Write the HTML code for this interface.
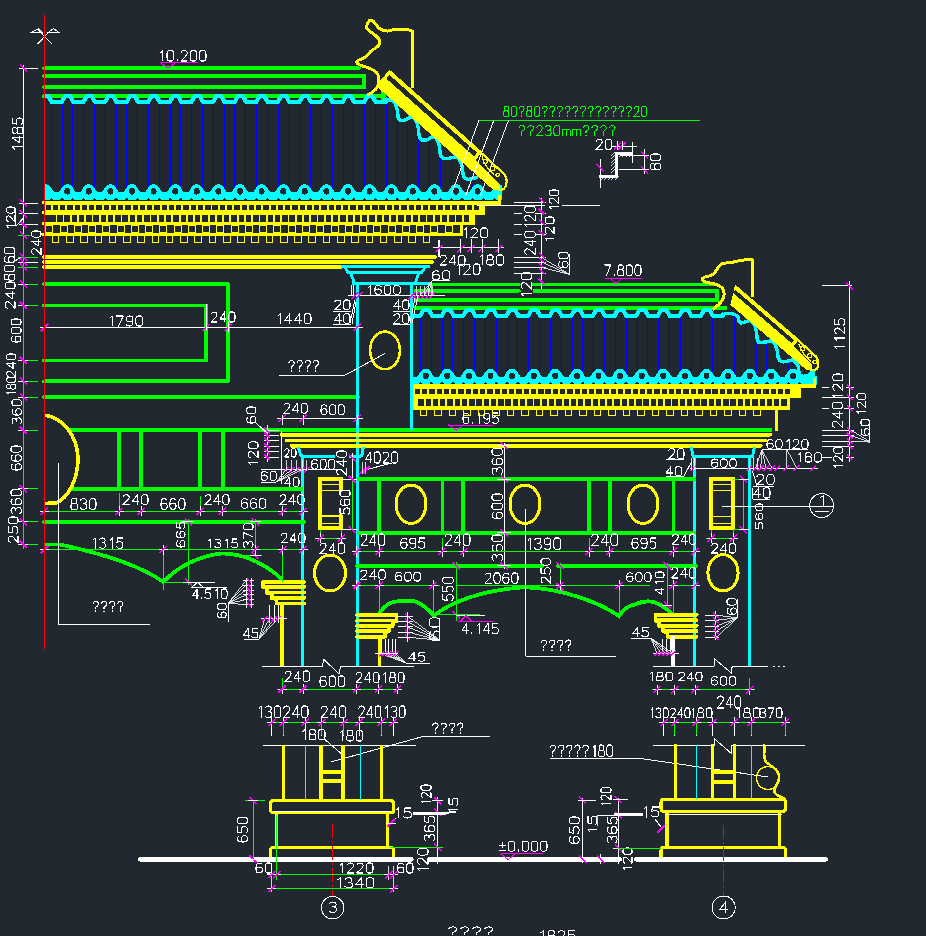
<!DOCTYPE html>
<html><head><meta charset="utf-8"><style>
html,body{margin:0;padding:0;background:#212830;width:926px;height:936px;overflow:hidden}
svg{display:block} line,polyline,polygon,rect,path,ellipse,circle{shape-rendering:crispEdges} g path{vector-effect:non-scaling-stroke}
text{font-family:"Liberation Sans",sans-serif}
</style></head><body>
<svg width="926" height="936" viewBox="0 0 926 936">
<rect width="926" height="936" fill="#212830"/>
<clipPath id="clipband413"><rect x="413" y="366.6" width="402" height="19.4"/></clipPath>
<clipPath id="clipband44"><rect x="44" y="182" width="456" height="20.1"/></clipPath>
<line x1="44" y1="68.2" x2="359" y2="68.2" stroke="#00ff00" stroke-width="3.6" stroke-linecap="round"/>
<line x1="44" y1="75.8" x2="364.3" y2="75.8" stroke="#00ff00" stroke-width="3.8" stroke-linecap="round"/>
<line x1="44" y1="87.2" x2="364.3" y2="87.2" stroke="#00ff00" stroke-width="3.8" stroke-linecap="round"/>
<line x1="364.3" y1="73.9" x2="364.3" y2="89.1" stroke="#00ff00" stroke-width="3.8" stroke-linecap="butt"/>
<line x1="44" y1="96" x2="384" y2="96" stroke="#00ff00" stroke-width="4" stroke-linecap="round"/>
<line x1="383.2" y1="86.8" x2="383.2" y2="99.5" stroke="#00ff00" stroke-width="3.5" stroke-linecap="butt"/>
<line x1="51.2" y1="103" x2="51.2" y2="188" stroke="#0000ff" stroke-width="1" stroke-linecap="butt"/>
<line x1="62.01" y1="103" x2="62.01" y2="188" stroke="#0000ff" stroke-width="1" stroke-linecap="butt"/>
<line x1="72.82" y1="103" x2="72.82" y2="188" stroke="#0000ff" stroke-width="1" stroke-linecap="butt"/>
<line x1="83.63" y1="103" x2="83.63" y2="188" stroke="#0000ff" stroke-width="1" stroke-linecap="butt"/>
<line x1="94.44" y1="103" x2="94.44" y2="188" stroke="#0000ff" stroke-width="1" stroke-linecap="butt"/>
<line x1="105.25" y1="103" x2="105.25" y2="188" stroke="#0000ff" stroke-width="1" stroke-linecap="butt"/>
<line x1="116.06" y1="103" x2="116.06" y2="188" stroke="#0000ff" stroke-width="1" stroke-linecap="butt"/>
<line x1="126.87" y1="103" x2="126.87" y2="188" stroke="#0000ff" stroke-width="1" stroke-linecap="butt"/>
<line x1="137.68" y1="103" x2="137.68" y2="188" stroke="#0000ff" stroke-width="1" stroke-linecap="butt"/>
<line x1="148.49" y1="103" x2="148.49" y2="188" stroke="#0000ff" stroke-width="1" stroke-linecap="butt"/>
<line x1="159.3" y1="103" x2="159.3" y2="188" stroke="#0000ff" stroke-width="1" stroke-linecap="butt"/>
<line x1="170.11" y1="103" x2="170.11" y2="188" stroke="#0000ff" stroke-width="1" stroke-linecap="butt"/>
<line x1="180.92" y1="103" x2="180.92" y2="188" stroke="#0000ff" stroke-width="1" stroke-linecap="butt"/>
<line x1="191.73" y1="103" x2="191.73" y2="188" stroke="#0000ff" stroke-width="1" stroke-linecap="butt"/>
<line x1="202.54" y1="103" x2="202.54" y2="188" stroke="#0000ff" stroke-width="1" stroke-linecap="butt"/>
<line x1="213.35" y1="103" x2="213.35" y2="188" stroke="#0000ff" stroke-width="1" stroke-linecap="butt"/>
<line x1="224.16" y1="103" x2="224.16" y2="188" stroke="#0000ff" stroke-width="1" stroke-linecap="butt"/>
<line x1="234.97" y1="103" x2="234.97" y2="188" stroke="#0000ff" stroke-width="1" stroke-linecap="butt"/>
<line x1="245.78" y1="103" x2="245.78" y2="188" stroke="#0000ff" stroke-width="1" stroke-linecap="butt"/>
<line x1="256.59" y1="103" x2="256.59" y2="188" stroke="#0000ff" stroke-width="1" stroke-linecap="butt"/>
<line x1="267.4" y1="103" x2="267.4" y2="188" stroke="#0000ff" stroke-width="1" stroke-linecap="butt"/>
<line x1="278.21" y1="103" x2="278.21" y2="188" stroke="#0000ff" stroke-width="1" stroke-linecap="butt"/>
<line x1="289.02" y1="103" x2="289.02" y2="188" stroke="#0000ff" stroke-width="1" stroke-linecap="butt"/>
<line x1="299.83" y1="103" x2="299.83" y2="188" stroke="#0000ff" stroke-width="1" stroke-linecap="butt"/>
<line x1="310.64" y1="103" x2="310.64" y2="188" stroke="#0000ff" stroke-width="1" stroke-linecap="butt"/>
<line x1="321.45" y1="103" x2="321.45" y2="188" stroke="#0000ff" stroke-width="1" stroke-linecap="butt"/>
<line x1="332.26" y1="103" x2="332.26" y2="188" stroke="#0000ff" stroke-width="1" stroke-linecap="butt"/>
<line x1="343.07" y1="103" x2="343.07" y2="188" stroke="#0000ff" stroke-width="1" stroke-linecap="butt"/>
<line x1="353.88" y1="103" x2="353.88" y2="188" stroke="#0000ff" stroke-width="1" stroke-linecap="butt"/>
<line x1="364.69" y1="103" x2="364.69" y2="188" stroke="#0000ff" stroke-width="1" stroke-linecap="butt"/>
<line x1="375.5" y1="103" x2="375.5" y2="188" stroke="#0000ff" stroke-width="1" stroke-linecap="butt"/>
<line x1="386.31" y1="104" x2="386.31" y2="188" stroke="#0000ff" stroke-width="1" stroke-linecap="butt"/>
<line x1="397.12" y1="113.39" x2="397.12" y2="188" stroke="#0000ff" stroke-width="1" stroke-linecap="butt"/>
<line x1="407.93" y1="121.03" x2="407.93" y2="188" stroke="#0000ff" stroke-width="1" stroke-linecap="butt"/>
<line x1="418.74" y1="132.48" x2="418.74" y2="188" stroke="#0000ff" stroke-width="1" stroke-linecap="butt"/>
<line x1="429.55" y1="140.72" x2="429.55" y2="188" stroke="#0000ff" stroke-width="1" stroke-linecap="butt"/>
<line x1="440.36" y1="151.88" x2="440.36" y2="188" stroke="#0000ff" stroke-width="1" stroke-linecap="butt"/>
<line x1="451.17" y1="160.38" x2="451.17" y2="188" stroke="#0000ff" stroke-width="1" stroke-linecap="butt"/>
<line x1="461.98" y1="169.47" x2="461.98" y2="188" stroke="#0000ff" stroke-width="1" stroke-linecap="butt"/>
<line x1="472.79" y1="183.65" x2="472.79" y2="188" stroke="#0000ff" stroke-width="1" stroke-linecap="butt"/>
<polyline points="44,96.3 48.5,96.3 52,102.3 61.6,102.3 65.1,96.3 70.1,96.3 73.6,102.3 83.2,102.3 86.7,96.3 91.7,96.3 95.2,102.3 104.8,102.3 108.3,96.3 113.3,96.3 116.8,102.3 126.4,102.3 129.9,96.3 134.9,96.3 138.4,102.3 148,102.3 151.5,96.3 156.5,96.3 160,102.3 169.6,102.3 173.1,96.3 178.1,96.3 181.6,102.3 191.2,102.3 194.7,96.3 199.7,96.3 203.2,102.3 212.8,102.3 216.3,96.3 221.3,96.3 224.8,102.3 234.4,102.3 237.9,96.3 242.9,96.3 246.4,102.3 256,102.3 259.5,96.3 264.5,96.3 268,102.3 277.6,102.3 281.1,96.3 286.1,96.3 289.6,102.3 299.2,102.3 302.7,96.3 307.7,96.3 311.2,102.3 320.8,102.3 324.3,96.3 329.3,96.3 332.8,102.3 342.4,102.3 345.9,96.3 350.9,96.3 354.4,102.3 364,102.3 367.5,96.3 372.5,96.3 376,102.3 385.6,102.3 388,98.19" stroke="#00ffff" stroke-width="4.2" fill="none" stroke-linejoin="round" stroke-linecap="butt"/>
<path d="M383,100 L391,100 C395,101 397.5,107.14 397.8,114.28 C398.2,120.9 400.2,121.2 403.7,120.4 C407.2,119.6 409.5,117.4 412,116.9 C416,117.9 418.5,124.98 418.8,133.07 C419.2,140.5 422.7,140.8 426.2,140 C429.7,139.2 430.7,137 433.2,136.5 C437.2,137.5 439.7,144.13 440,151.76 C440.4,158.8 445.1,159.1 448.6,158.3 C452.1,157.5 453.5,157.4 456,156.9 C460,157.9 462.5,164.63 462.8,172.37 C463.2,179.5 467.5,179.8 471,179 C474.5,178.2 475.5,177.5 478,177" stroke="#00ffff" stroke-width="3.5" fill="none" stroke-linejoin="round"/>
<rect x="44" y="192.3" width="456" height="7.8" fill="#00ffff"/>
<path d="M15.2,192.6 C18,190.3 18.8,184 24,184 C29.2,184 30,190.3 32.8,192.6 Z" fill="#00ffff" clip-path="url(#clipband44)"/>
<path d="M36.8,192.6 C39.6,190.3 40.4,184 45.6,184 C50.8,184 51.6,190.3 54.4,192.6 Z" fill="#00ffff" clip-path="url(#clipband44)"/>
<path d="M58.4,192.6 C61.2,190.3 62,184 67.2,184 C72.4,184 73.2,190.3 76,192.6 Z" fill="#00ffff" clip-path="url(#clipband44)"/>
<path d="M80,192.6 C82.8,190.3 83.6,184 88.8,184 C94,184 94.8,190.3 97.6,192.6 Z" fill="#00ffff" clip-path="url(#clipband44)"/>
<path d="M101.6,192.6 C104.4,190.3 105.2,184 110.4,184 C115.6,184 116.4,190.3 119.2,192.6 Z" fill="#00ffff" clip-path="url(#clipband44)"/>
<path d="M123.2,192.6 C126,190.3 126.8,184 132,184 C137.2,184 138,190.3 140.8,192.6 Z" fill="#00ffff" clip-path="url(#clipband44)"/>
<path d="M144.8,192.6 C147.6,190.3 148.4,184 153.6,184 C158.8,184 159.6,190.3 162.4,192.6 Z" fill="#00ffff" clip-path="url(#clipband44)"/>
<path d="M166.4,192.6 C169.2,190.3 170,184 175.2,184 C180.4,184 181.2,190.3 184,192.6 Z" fill="#00ffff" clip-path="url(#clipband44)"/>
<path d="M188,192.6 C190.8,190.3 191.6,184 196.8,184 C202,184 202.8,190.3 205.6,192.6 Z" fill="#00ffff" clip-path="url(#clipband44)"/>
<path d="M209.6,192.6 C212.4,190.3 213.2,184 218.4,184 C223.6,184 224.4,190.3 227.2,192.6 Z" fill="#00ffff" clip-path="url(#clipband44)"/>
<path d="M231.2,192.6 C234,190.3 234.8,184 240,184 C245.2,184 246,190.3 248.8,192.6 Z" fill="#00ffff" clip-path="url(#clipband44)"/>
<path d="M252.8,192.6 C255.6,190.3 256.4,184 261.6,184 C266.8,184 267.6,190.3 270.4,192.6 Z" fill="#00ffff" clip-path="url(#clipband44)"/>
<path d="M274.4,192.6 C277.2,190.3 278,184 283.2,184 C288.4,184 289.2,190.3 292,192.6 Z" fill="#00ffff" clip-path="url(#clipband44)"/>
<path d="M296,192.6 C298.8,190.3 299.6,184 304.8,184 C310,184 310.8,190.3 313.6,192.6 Z" fill="#00ffff" clip-path="url(#clipband44)"/>
<path d="M317.6,192.6 C320.4,190.3 321.2,184 326.4,184 C331.6,184 332.4,190.3 335.2,192.6 Z" fill="#00ffff" clip-path="url(#clipband44)"/>
<path d="M339.2,192.6 C342,190.3 342.8,184 348,184 C353.2,184 354,190.3 356.8,192.6 Z" fill="#00ffff" clip-path="url(#clipband44)"/>
<path d="M360.8,192.6 C363.6,190.3 364.4,184 369.6,184 C374.8,184 375.6,190.3 378.4,192.6 Z" fill="#00ffff" clip-path="url(#clipband44)"/>
<path d="M382.4,192.6 C385.2,190.3 386,184 391.2,184 C396.4,184 397.2,190.3 400,192.6 Z" fill="#00ffff" clip-path="url(#clipband44)"/>
<path d="M404,192.6 C406.8,190.3 407.6,184 412.8,184 C418,184 418.8,190.3 421.6,192.6 Z" fill="#00ffff" clip-path="url(#clipband44)"/>
<path d="M425.6,192.6 C428.4,190.3 429.2,184 434.4,184 C439.6,184 440.4,190.3 443.2,192.6 Z" fill="#00ffff" clip-path="url(#clipband44)"/>
<path d="M447.2,192.6 C450,190.3 450.8,184 456,184 C461.2,184 462,190.3 464.8,192.6 Z" fill="#00ffff" clip-path="url(#clipband44)"/>
<path d="M468.8,192.6 C471.6,190.3 472.4,184 477.6,184 C482.8,184 483.6,190.3 486.4,192.6 Z" fill="#00ffff" clip-path="url(#clipband44)"/>
<path d="M490.4,192.6 C493.2,190.3 494,184 499.2,184 C504.4,184 505.2,190.3 508,192.6 Z" fill="#00ffff" clip-path="url(#clipband44)"/>
<ellipse cx="67.2" cy="191.3" rx="3" ry="3.3" stroke="none" stroke-width="0" fill="#212830"/>
<ellipse cx="88.8" cy="191.3" rx="3" ry="3.3" stroke="none" stroke-width="0" fill="#212830"/>
<ellipse cx="110.4" cy="191.3" rx="3" ry="3.3" stroke="none" stroke-width="0" fill="#212830"/>
<ellipse cx="132" cy="191.3" rx="3" ry="3.3" stroke="none" stroke-width="0" fill="#212830"/>
<ellipse cx="153.6" cy="191.3" rx="3" ry="3.3" stroke="none" stroke-width="0" fill="#212830"/>
<ellipse cx="175.2" cy="191.3" rx="3" ry="3.3" stroke="none" stroke-width="0" fill="#212830"/>
<ellipse cx="196.8" cy="191.3" rx="3" ry="3.3" stroke="none" stroke-width="0" fill="#212830"/>
<ellipse cx="218.4" cy="191.3" rx="3" ry="3.3" stroke="none" stroke-width="0" fill="#212830"/>
<ellipse cx="240" cy="191.3" rx="3" ry="3.3" stroke="none" stroke-width="0" fill="#212830"/>
<ellipse cx="261.6" cy="191.3" rx="3" ry="3.3" stroke="none" stroke-width="0" fill="#212830"/>
<ellipse cx="283.2" cy="191.3" rx="3" ry="3.3" stroke="none" stroke-width="0" fill="#212830"/>
<ellipse cx="304.8" cy="191.3" rx="3" ry="3.3" stroke="none" stroke-width="0" fill="#212830"/>
<ellipse cx="326.4" cy="191.3" rx="3" ry="3.3" stroke="none" stroke-width="0" fill="#212830"/>
<ellipse cx="348" cy="191.3" rx="3" ry="3.3" stroke="none" stroke-width="0" fill="#212830"/>
<ellipse cx="369.6" cy="191.3" rx="3" ry="3.3" stroke="none" stroke-width="0" fill="#212830"/>
<ellipse cx="391.2" cy="191.3" rx="3" ry="3.3" stroke="none" stroke-width="0" fill="#212830"/>
<ellipse cx="412.8" cy="191.3" rx="3" ry="3.3" stroke="none" stroke-width="0" fill="#212830"/>
<ellipse cx="434.4" cy="191.3" rx="3" ry="3.3" stroke="none" stroke-width="0" fill="#212830"/>
<ellipse cx="456" cy="191.3" rx="3" ry="3.3" stroke="none" stroke-width="0" fill="#212830"/>
<ellipse cx="477.6" cy="191.3" rx="3" ry="3.3" stroke="none" stroke-width="0" fill="#212830"/>
<polygon points="49,200.2 51.2,197.8 53.4,200.2" stroke="none" stroke-width="0" fill="#212830" stroke-linejoin="miter" stroke-linecap="butt"/>
<polygon points="59.81,200.2 62.01,197.8 64.21,200.2" stroke="none" stroke-width="0" fill="#212830" stroke-linejoin="miter" stroke-linecap="butt"/>
<polygon points="70.62,200.2 72.82,197.8 75.02,200.2" stroke="none" stroke-width="0" fill="#212830" stroke-linejoin="miter" stroke-linecap="butt"/>
<polygon points="81.43,200.2 83.63,197.8 85.83,200.2" stroke="none" stroke-width="0" fill="#212830" stroke-linejoin="miter" stroke-linecap="butt"/>
<polygon points="92.24,200.2 94.44,197.8 96.64,200.2" stroke="none" stroke-width="0" fill="#212830" stroke-linejoin="miter" stroke-linecap="butt"/>
<polygon points="103.05,200.2 105.25,197.8 107.45,200.2" stroke="none" stroke-width="0" fill="#212830" stroke-linejoin="miter" stroke-linecap="butt"/>
<polygon points="113.86,200.2 116.06,197.8 118.26,200.2" stroke="none" stroke-width="0" fill="#212830" stroke-linejoin="miter" stroke-linecap="butt"/>
<polygon points="124.67,200.2 126.87,197.8 129.07,200.2" stroke="none" stroke-width="0" fill="#212830" stroke-linejoin="miter" stroke-linecap="butt"/>
<polygon points="135.48,200.2 137.68,197.8 139.88,200.2" stroke="none" stroke-width="0" fill="#212830" stroke-linejoin="miter" stroke-linecap="butt"/>
<polygon points="146.29,200.2 148.49,197.8 150.69,200.2" stroke="none" stroke-width="0" fill="#212830" stroke-linejoin="miter" stroke-linecap="butt"/>
<polygon points="157.1,200.2 159.3,197.8 161.5,200.2" stroke="none" stroke-width="0" fill="#212830" stroke-linejoin="miter" stroke-linecap="butt"/>
<polygon points="167.91,200.2 170.11,197.8 172.31,200.2" stroke="none" stroke-width="0" fill="#212830" stroke-linejoin="miter" stroke-linecap="butt"/>
<polygon points="178.72,200.2 180.92,197.8 183.12,200.2" stroke="none" stroke-width="0" fill="#212830" stroke-linejoin="miter" stroke-linecap="butt"/>
<polygon points="189.53,200.2 191.73,197.8 193.93,200.2" stroke="none" stroke-width="0" fill="#212830" stroke-linejoin="miter" stroke-linecap="butt"/>
<polygon points="200.34,200.2 202.54,197.8 204.74,200.2" stroke="none" stroke-width="0" fill="#212830" stroke-linejoin="miter" stroke-linecap="butt"/>
<polygon points="211.15,200.2 213.35,197.8 215.55,200.2" stroke="none" stroke-width="0" fill="#212830" stroke-linejoin="miter" stroke-linecap="butt"/>
<polygon points="221.96,200.2 224.16,197.8 226.36,200.2" stroke="none" stroke-width="0" fill="#212830" stroke-linejoin="miter" stroke-linecap="butt"/>
<polygon points="232.77,200.2 234.97,197.8 237.17,200.2" stroke="none" stroke-width="0" fill="#212830" stroke-linejoin="miter" stroke-linecap="butt"/>
<polygon points="243.58,200.2 245.78,197.8 247.98,200.2" stroke="none" stroke-width="0" fill="#212830" stroke-linejoin="miter" stroke-linecap="butt"/>
<polygon points="254.39,200.2 256.59,197.8 258.79,200.2" stroke="none" stroke-width="0" fill="#212830" stroke-linejoin="miter" stroke-linecap="butt"/>
<polygon points="265.2,200.2 267.4,197.8 269.6,200.2" stroke="none" stroke-width="0" fill="#212830" stroke-linejoin="miter" stroke-linecap="butt"/>
<polygon points="276.01,200.2 278.21,197.8 280.41,200.2" stroke="none" stroke-width="0" fill="#212830" stroke-linejoin="miter" stroke-linecap="butt"/>
<polygon points="286.82,200.2 289.02,197.8 291.22,200.2" stroke="none" stroke-width="0" fill="#212830" stroke-linejoin="miter" stroke-linecap="butt"/>
<polygon points="297.63,200.2 299.83,197.8 302.03,200.2" stroke="none" stroke-width="0" fill="#212830" stroke-linejoin="miter" stroke-linecap="butt"/>
<polygon points="308.44,200.2 310.64,197.8 312.84,200.2" stroke="none" stroke-width="0" fill="#212830" stroke-linejoin="miter" stroke-linecap="butt"/>
<polygon points="319.25,200.2 321.45,197.8 323.65,200.2" stroke="none" stroke-width="0" fill="#212830" stroke-linejoin="miter" stroke-linecap="butt"/>
<polygon points="330.06,200.2 332.26,197.8 334.46,200.2" stroke="none" stroke-width="0" fill="#212830" stroke-linejoin="miter" stroke-linecap="butt"/>
<polygon points="340.87,200.2 343.07,197.8 345.27,200.2" stroke="none" stroke-width="0" fill="#212830" stroke-linejoin="miter" stroke-linecap="butt"/>
<polygon points="351.68,200.2 353.88,197.8 356.08,200.2" stroke="none" stroke-width="0" fill="#212830" stroke-linejoin="miter" stroke-linecap="butt"/>
<polygon points="362.49,200.2 364.69,197.8 366.89,200.2" stroke="none" stroke-width="0" fill="#212830" stroke-linejoin="miter" stroke-linecap="butt"/>
<polygon points="373.3,200.2 375.5,197.8 377.7,200.2" stroke="none" stroke-width="0" fill="#212830" stroke-linejoin="miter" stroke-linecap="butt"/>
<polygon points="384.11,200.2 386.31,197.8 388.51,200.2" stroke="none" stroke-width="0" fill="#212830" stroke-linejoin="miter" stroke-linecap="butt"/>
<polygon points="394.92,200.2 397.12,197.8 399.32,200.2" stroke="none" stroke-width="0" fill="#212830" stroke-linejoin="miter" stroke-linecap="butt"/>
<polygon points="405.73,200.2 407.93,197.8 410.13,200.2" stroke="none" stroke-width="0" fill="#212830" stroke-linejoin="miter" stroke-linecap="butt"/>
<polygon points="416.54,200.2 418.74,197.8 420.94,200.2" stroke="none" stroke-width="0" fill="#212830" stroke-linejoin="miter" stroke-linecap="butt"/>
<polygon points="427.35,200.2 429.55,197.8 431.75,200.2" stroke="none" stroke-width="0" fill="#212830" stroke-linejoin="miter" stroke-linecap="butt"/>
<polygon points="438.16,200.2 440.36,197.8 442.56,200.2" stroke="none" stroke-width="0" fill="#212830" stroke-linejoin="miter" stroke-linecap="butt"/>
<polygon points="448.97,200.2 451.17,197.8 453.37,200.2" stroke="none" stroke-width="0" fill="#212830" stroke-linejoin="miter" stroke-linecap="butt"/>
<polygon points="459.78,200.2 461.98,197.8 464.18,200.2" stroke="none" stroke-width="0" fill="#212830" stroke-linejoin="miter" stroke-linecap="butt"/>
<polygon points="470.59,200.2 472.79,197.8 474.99,200.2" stroke="none" stroke-width="0" fill="#212830" stroke-linejoin="miter" stroke-linecap="butt"/>
<polygon points="481.4,200.2 483.6,197.8 485.8,200.2" stroke="none" stroke-width="0" fill="#212830" stroke-linejoin="miter" stroke-linecap="butt"/>
<polygon points="492.21,200.2 494.41,197.8 496.61,200.2" stroke="none" stroke-width="0" fill="#212830" stroke-linejoin="miter" stroke-linecap="butt"/>
<rect x="497.5" y="184.5" width="4.5" height="15" fill="#00ffff"/>
<rect x="44" y="200.7" width="439.7" height="13.8" fill="#ffff00"/>
<rect x="44" y="210.9" width="429" height="14.5" fill="#ffff00"/>
<rect x="482.1" y="200.7" width="18.9" height="3.8" fill="#ffff00"/>
<line x1="499.4" y1="194.6" x2="499.4" y2="204.5" stroke="#ffff00" stroke-width="3.2" stroke-linecap="butt"/>
<line x1="483.7" y1="202.6" x2="483.7" y2="214.5" stroke="#ffff00" stroke-width="3.2" stroke-linecap="butt"/>
<line x1="473" y1="212.7" x2="473" y2="225.4" stroke="#ffff00" stroke-width="3.2" stroke-linecap="butt"/>
<line x1="44" y1="223.5" x2="473" y2="223.5" stroke="#ffff00" stroke-width="3.8" stroke-linecap="butt"/>
<line x1="44" y1="234.5" x2="461.6" y2="234.5" stroke="#ffff00" stroke-width="3.8" stroke-linecap="butt"/>
<line x1="461.6" y1="223.5" x2="461.6" y2="236.4" stroke="#ffff00" stroke-width="3.2" stroke-linecap="butt"/>
<rect x="45.5" y="205.1" width="5.3" height="5" fill="#212830"/>
<rect x="52.76" y="205.1" width="5.3" height="5" fill="#212830"/>
<rect x="60.02" y="205.1" width="5.3" height="5" fill="#212830"/>
<rect x="67.28" y="205.1" width="5.3" height="5" fill="#212830"/>
<rect x="74.54" y="205.1" width="5.3" height="5" fill="#212830"/>
<rect x="81.8" y="205.1" width="5.3" height="5" fill="#212830"/>
<rect x="89.06" y="205.1" width="5.3" height="5" fill="#212830"/>
<rect x="96.32" y="205.1" width="5.3" height="5" fill="#212830"/>
<rect x="103.58" y="205.1" width="5.3" height="5" fill="#212830"/>
<rect x="110.84" y="205.1" width="5.3" height="5" fill="#212830"/>
<rect x="118.1" y="205.1" width="5.3" height="5" fill="#212830"/>
<rect x="125.36" y="205.1" width="5.3" height="5" fill="#212830"/>
<rect x="132.62" y="205.1" width="5.3" height="5" fill="#212830"/>
<rect x="139.88" y="205.1" width="5.3" height="5" fill="#212830"/>
<rect x="147.14" y="205.1" width="5.3" height="5" fill="#212830"/>
<rect x="154.4" y="205.1" width="5.3" height="5" fill="#212830"/>
<rect x="161.66" y="205.1" width="5.3" height="5" fill="#212830"/>
<rect x="168.92" y="205.1" width="5.3" height="5" fill="#212830"/>
<rect x="176.18" y="205.1" width="5.3" height="5" fill="#212830"/>
<rect x="183.44" y="205.1" width="5.3" height="5" fill="#212830"/>
<rect x="190.7" y="205.1" width="5.3" height="5" fill="#212830"/>
<rect x="197.96" y="205.1" width="5.3" height="5" fill="#212830"/>
<rect x="205.22" y="205.1" width="5.3" height="5" fill="#212830"/>
<rect x="212.48" y="205.1" width="5.3" height="5" fill="#212830"/>
<rect x="219.74" y="205.1" width="5.3" height="5" fill="#212830"/>
<rect x="227" y="205.1" width="5.3" height="5" fill="#212830"/>
<rect x="234.26" y="205.1" width="5.3" height="5" fill="#212830"/>
<rect x="241.52" y="205.1" width="5.3" height="5" fill="#212830"/>
<rect x="248.78" y="205.1" width="5.3" height="5" fill="#212830"/>
<rect x="256.04" y="205.1" width="5.3" height="5" fill="#212830"/>
<rect x="263.3" y="205.1" width="5.3" height="5" fill="#212830"/>
<rect x="270.56" y="205.1" width="5.3" height="5" fill="#212830"/>
<rect x="277.82" y="205.1" width="5.3" height="5" fill="#212830"/>
<rect x="285.08" y="205.1" width="5.3" height="5" fill="#212830"/>
<rect x="292.34" y="205.1" width="5.3" height="5" fill="#212830"/>
<rect x="299.6" y="205.1" width="5.3" height="5" fill="#212830"/>
<rect x="306.86" y="205.1" width="5.3" height="5" fill="#212830"/>
<rect x="314.12" y="205.1" width="5.3" height="5" fill="#212830"/>
<rect x="321.38" y="205.1" width="5.3" height="5" fill="#212830"/>
<rect x="328.64" y="205.1" width="5.3" height="5" fill="#212830"/>
<rect x="335.9" y="205.1" width="5.3" height="5" fill="#212830"/>
<rect x="343.16" y="205.1" width="5.3" height="5" fill="#212830"/>
<rect x="350.42" y="205.1" width="5.3" height="5" fill="#212830"/>
<rect x="357.68" y="205.1" width="5.3" height="5" fill="#212830"/>
<rect x="364.94" y="205.1" width="5.3" height="5" fill="#212830"/>
<rect x="372.2" y="205.1" width="5.3" height="5" fill="#212830"/>
<rect x="379.46" y="205.1" width="5.3" height="5" fill="#212830"/>
<rect x="386.72" y="205.1" width="5.3" height="5" fill="#212830"/>
<rect x="393.98" y="205.1" width="5.3" height="5" fill="#212830"/>
<rect x="401.24" y="205.1" width="5.3" height="5" fill="#212830"/>
<rect x="408.5" y="205.1" width="5.3" height="5" fill="#212830"/>
<rect x="415.76" y="205.1" width="5.3" height="5" fill="#212830"/>
<rect x="423.02" y="205.1" width="5.3" height="5" fill="#212830"/>
<rect x="430.28" y="205.1" width="5.3" height="5" fill="#212830"/>
<rect x="437.54" y="205.1" width="5.3" height="5" fill="#212830"/>
<rect x="444.8" y="205.1" width="5.3" height="5" fill="#212830"/>
<rect x="452.06" y="205.1" width="5.3" height="5" fill="#212830"/>
<rect x="459.32" y="205.1" width="5.3" height="5" fill="#212830"/>
<rect x="466.58" y="205.1" width="5.3" height="5" fill="#212830"/>
<rect x="473.84" y="205.1" width="5.3" height="5" fill="#212830"/>
<rect x="45" y="215" width="10.5" height="6.5" fill="#212830"/>
<rect x="57.1" y="214.8" width="5.4" height="6.8" fill="#212830"/>
<rect x="64.36" y="214.8" width="5.4" height="6.8" fill="#212830"/>
<rect x="71.62" y="214.8" width="5.4" height="6.8" fill="#212830"/>
<rect x="78.88" y="214.8" width="5.4" height="6.8" fill="#212830"/>
<rect x="86.14" y="214.8" width="5.4" height="6.8" fill="#212830"/>
<rect x="93.4" y="214.8" width="5.4" height="6.8" fill="#212830"/>
<rect x="100.66" y="214.8" width="5.4" height="6.8" fill="#212830"/>
<rect x="107.92" y="214.8" width="5.4" height="6.8" fill="#212830"/>
<rect x="115.18" y="214.8" width="5.4" height="6.8" fill="#212830"/>
<rect x="122.44" y="214.8" width="5.4" height="6.8" fill="#212830"/>
<rect x="129.7" y="214.8" width="5.4" height="6.8" fill="#212830"/>
<rect x="136.96" y="214.8" width="5.4" height="6.8" fill="#212830"/>
<rect x="144.22" y="214.8" width="5.4" height="6.8" fill="#212830"/>
<rect x="151.48" y="214.8" width="5.4" height="6.8" fill="#212830"/>
<rect x="158.74" y="214.8" width="5.4" height="6.8" fill="#212830"/>
<rect x="166" y="214.8" width="5.4" height="6.8" fill="#212830"/>
<rect x="173.26" y="214.8" width="5.4" height="6.8" fill="#212830"/>
<rect x="180.52" y="214.8" width="5.4" height="6.8" fill="#212830"/>
<rect x="187.78" y="214.8" width="5.4" height="6.8" fill="#212830"/>
<rect x="195.04" y="214.8" width="5.4" height="6.8" fill="#212830"/>
<rect x="202.3" y="214.8" width="5.4" height="6.8" fill="#212830"/>
<rect x="209.56" y="214.8" width="5.4" height="6.8" fill="#212830"/>
<rect x="216.82" y="214.8" width="5.4" height="6.8" fill="#212830"/>
<rect x="224.08" y="214.8" width="5.4" height="6.8" fill="#212830"/>
<rect x="231.34" y="214.8" width="5.4" height="6.8" fill="#212830"/>
<rect x="238.6" y="214.8" width="5.4" height="6.8" fill="#212830"/>
<rect x="245.86" y="214.8" width="5.4" height="6.8" fill="#212830"/>
<rect x="253.12" y="214.8" width="5.4" height="6.8" fill="#212830"/>
<rect x="260.38" y="214.8" width="5.4" height="6.8" fill="#212830"/>
<rect x="267.64" y="214.8" width="5.4" height="6.8" fill="#212830"/>
<rect x="274.9" y="214.8" width="5.4" height="6.8" fill="#212830"/>
<rect x="282.16" y="214.8" width="5.4" height="6.8" fill="#212830"/>
<rect x="289.42" y="214.8" width="5.4" height="6.8" fill="#212830"/>
<rect x="296.68" y="214.8" width="5.4" height="6.8" fill="#212830"/>
<rect x="303.94" y="214.8" width="5.4" height="6.8" fill="#212830"/>
<rect x="311.2" y="214.8" width="5.4" height="6.8" fill="#212830"/>
<rect x="318.46" y="214.8" width="5.4" height="6.8" fill="#212830"/>
<rect x="325.72" y="214.8" width="5.4" height="6.8" fill="#212830"/>
<rect x="332.98" y="214.8" width="5.4" height="6.8" fill="#212830"/>
<rect x="340.24" y="214.8" width="5.4" height="6.8" fill="#212830"/>
<rect x="347.5" y="214.8" width="5.4" height="6.8" fill="#212830"/>
<rect x="354.76" y="214.8" width="5.4" height="6.8" fill="#212830"/>
<rect x="362.02" y="214.8" width="5.4" height="6.8" fill="#212830"/>
<rect x="369.28" y="214.8" width="5.4" height="6.8" fill="#212830"/>
<rect x="376.54" y="214.8" width="5.4" height="6.8" fill="#212830"/>
<rect x="383.8" y="214.8" width="5.4" height="6.8" fill="#212830"/>
<rect x="391.06" y="214.8" width="5.4" height="6.8" fill="#212830"/>
<rect x="398.32" y="214.8" width="5.4" height="6.8" fill="#212830"/>
<rect x="405.58" y="214.8" width="5.4" height="6.8" fill="#212830"/>
<rect x="412.84" y="214.8" width="5.4" height="6.8" fill="#212830"/>
<rect x="420.1" y="214.8" width="5.4" height="6.8" fill="#212830"/>
<rect x="427.36" y="214.8" width="5.4" height="6.8" fill="#212830"/>
<rect x="434.62" y="214.8" width="5.4" height="6.8" fill="#212830"/>
<rect x="441.88" y="214.8" width="5.4" height="6.8" fill="#212830"/>
<rect x="449.14" y="214.8" width="5.4" height="6.8" fill="#212830"/>
<rect x="456.4" y="214.8" width="5.4" height="6.8" fill="#212830"/>
<rect x="463.66" y="214.8" width="5.4" height="6.8" fill="#212830"/>
<rect x="45.8" y="225.9" width="7" height="6.1" stroke="#ffff00" stroke-width="1" fill="none"/>
<rect x="60.06" y="225.9" width="7" height="6.1" stroke="#ffff00" stroke-width="1" fill="none"/>
<rect x="74.32" y="225.9" width="7" height="6.1" stroke="#ffff00" stroke-width="1" fill="none"/>
<rect x="88.58" y="225.9" width="7" height="6.1" stroke="#ffff00" stroke-width="1" fill="none"/>
<rect x="102.84" y="225.9" width="7" height="6.1" stroke="#ffff00" stroke-width="1" fill="none"/>
<rect x="117.1" y="225.9" width="7" height="6.1" stroke="#ffff00" stroke-width="1" fill="none"/>
<rect x="131.36" y="225.9" width="7" height="6.1" stroke="#ffff00" stroke-width="1" fill="none"/>
<rect x="145.62" y="225.9" width="7" height="6.1" stroke="#ffff00" stroke-width="1" fill="none"/>
<rect x="159.88" y="225.9" width="7" height="6.1" stroke="#ffff00" stroke-width="1" fill="none"/>
<rect x="174.14" y="225.9" width="7" height="6.1" stroke="#ffff00" stroke-width="1" fill="none"/>
<rect x="188.4" y="225.9" width="7" height="6.1" stroke="#ffff00" stroke-width="1" fill="none"/>
<rect x="202.66" y="225.9" width="7" height="6.1" stroke="#ffff00" stroke-width="1" fill="none"/>
<rect x="216.92" y="225.9" width="7" height="6.1" stroke="#ffff00" stroke-width="1" fill="none"/>
<rect x="231.18" y="225.9" width="7" height="6.1" stroke="#ffff00" stroke-width="1" fill="none"/>
<rect x="245.44" y="225.9" width="7" height="6.1" stroke="#ffff00" stroke-width="1" fill="none"/>
<rect x="259.7" y="225.9" width="7" height="6.1" stroke="#ffff00" stroke-width="1" fill="none"/>
<rect x="273.96" y="225.9" width="7" height="6.1" stroke="#ffff00" stroke-width="1" fill="none"/>
<rect x="288.22" y="225.9" width="7" height="6.1" stroke="#ffff00" stroke-width="1" fill="none"/>
<rect x="302.48" y="225.9" width="7" height="6.1" stroke="#ffff00" stroke-width="1" fill="none"/>
<rect x="316.74" y="225.9" width="7" height="6.1" stroke="#ffff00" stroke-width="1" fill="none"/>
<rect x="331" y="225.9" width="7" height="6.1" stroke="#ffff00" stroke-width="1" fill="none"/>
<rect x="345.26" y="225.9" width="7" height="6.1" stroke="#ffff00" stroke-width="1" fill="none"/>
<rect x="359.52" y="225.9" width="7" height="6.1" stroke="#ffff00" stroke-width="1" fill="none"/>
<rect x="373.78" y="225.9" width="7" height="6.1" stroke="#ffff00" stroke-width="1" fill="none"/>
<rect x="388.04" y="225.9" width="7" height="6.1" stroke="#ffff00" stroke-width="1" fill="none"/>
<rect x="402.3" y="225.9" width="7" height="6.1" stroke="#ffff00" stroke-width="1" fill="none"/>
<rect x="416.56" y="225.9" width="7" height="6.1" stroke="#ffff00" stroke-width="1" fill="none"/>
<rect x="430.82" y="225.9" width="7" height="6.1" stroke="#ffff00" stroke-width="1" fill="none"/>
<rect x="445.08" y="225.9" width="7" height="6.1" stroke="#ffff00" stroke-width="1" fill="none"/>
<polyline points="52.3,236.4 52.3,242.2 58.9,242.2 58.9,236.4" stroke="#ffff00" stroke-width="1" fill="none" stroke-linejoin="miter" stroke-linecap="butt"/>
<polyline points="66.56,236.4 66.56,242.2 73.16,242.2 73.16,236.4" stroke="#ffff00" stroke-width="1" fill="none" stroke-linejoin="miter" stroke-linecap="butt"/>
<polyline points="80.82,236.4 80.82,242.2 87.42,242.2 87.42,236.4" stroke="#ffff00" stroke-width="1" fill="none" stroke-linejoin="miter" stroke-linecap="butt"/>
<polyline points="95.08,236.4 95.08,242.2 101.68,242.2 101.68,236.4" stroke="#ffff00" stroke-width="1" fill="none" stroke-linejoin="miter" stroke-linecap="butt"/>
<polyline points="109.34,236.4 109.34,242.2 115.94,242.2 115.94,236.4" stroke="#ffff00" stroke-width="1" fill="none" stroke-linejoin="miter" stroke-linecap="butt"/>
<polyline points="123.6,236.4 123.6,242.2 130.2,242.2 130.2,236.4" stroke="#ffff00" stroke-width="1" fill="none" stroke-linejoin="miter" stroke-linecap="butt"/>
<polyline points="137.86,236.4 137.86,242.2 144.46,242.2 144.46,236.4" stroke="#ffff00" stroke-width="1" fill="none" stroke-linejoin="miter" stroke-linecap="butt"/>
<polyline points="152.12,236.4 152.12,242.2 158.72,242.2 158.72,236.4" stroke="#ffff00" stroke-width="1" fill="none" stroke-linejoin="miter" stroke-linecap="butt"/>
<polyline points="166.38,236.4 166.38,242.2 172.98,242.2 172.98,236.4" stroke="#ffff00" stroke-width="1" fill="none" stroke-linejoin="miter" stroke-linecap="butt"/>
<polyline points="180.64,236.4 180.64,242.2 187.24,242.2 187.24,236.4" stroke="#ffff00" stroke-width="1" fill="none" stroke-linejoin="miter" stroke-linecap="butt"/>
<polyline points="194.9,236.4 194.9,242.2 201.5,242.2 201.5,236.4" stroke="#ffff00" stroke-width="1" fill="none" stroke-linejoin="miter" stroke-linecap="butt"/>
<polyline points="209.16,236.4 209.16,242.2 215.76,242.2 215.76,236.4" stroke="#ffff00" stroke-width="1" fill="none" stroke-linejoin="miter" stroke-linecap="butt"/>
<polyline points="223.42,236.4 223.42,242.2 230.02,242.2 230.02,236.4" stroke="#ffff00" stroke-width="1" fill="none" stroke-linejoin="miter" stroke-linecap="butt"/>
<polyline points="237.68,236.4 237.68,242.2 244.28,242.2 244.28,236.4" stroke="#ffff00" stroke-width="1" fill="none" stroke-linejoin="miter" stroke-linecap="butt"/>
<polyline points="251.94,236.4 251.94,242.2 258.54,242.2 258.54,236.4" stroke="#ffff00" stroke-width="1" fill="none" stroke-linejoin="miter" stroke-linecap="butt"/>
<polyline points="266.2,236.4 266.2,242.2 272.8,242.2 272.8,236.4" stroke="#ffff00" stroke-width="1" fill="none" stroke-linejoin="miter" stroke-linecap="butt"/>
<polyline points="280.46,236.4 280.46,242.2 287.06,242.2 287.06,236.4" stroke="#ffff00" stroke-width="1" fill="none" stroke-linejoin="miter" stroke-linecap="butt"/>
<polyline points="294.72,236.4 294.72,242.2 301.32,242.2 301.32,236.4" stroke="#ffff00" stroke-width="1" fill="none" stroke-linejoin="miter" stroke-linecap="butt"/>
<polyline points="308.98,236.4 308.98,242.2 315.58,242.2 315.58,236.4" stroke="#ffff00" stroke-width="1" fill="none" stroke-linejoin="miter" stroke-linecap="butt"/>
<polyline points="323.24,236.4 323.24,242.2 329.84,242.2 329.84,236.4" stroke="#ffff00" stroke-width="1" fill="none" stroke-linejoin="miter" stroke-linecap="butt"/>
<polyline points="337.5,236.4 337.5,242.2 344.1,242.2 344.1,236.4" stroke="#ffff00" stroke-width="1" fill="none" stroke-linejoin="miter" stroke-linecap="butt"/>
<polyline points="351.76,236.4 351.76,242.2 358.36,242.2 358.36,236.4" stroke="#ffff00" stroke-width="1" fill="none" stroke-linejoin="miter" stroke-linecap="butt"/>
<polyline points="366.02,236.4 366.02,242.2 372.62,242.2 372.62,236.4" stroke="#ffff00" stroke-width="1" fill="none" stroke-linejoin="miter" stroke-linecap="butt"/>
<polyline points="380.28,236.4 380.28,242.2 386.88,242.2 386.88,236.4" stroke="#ffff00" stroke-width="1" fill="none" stroke-linejoin="miter" stroke-linecap="butt"/>
<polyline points="394.54,236.4 394.54,242.2 401.14,242.2 401.14,236.4" stroke="#ffff00" stroke-width="1" fill="none" stroke-linejoin="miter" stroke-linecap="butt"/>
<polyline points="408.8,236.4 408.8,242.2 415.4,242.2 415.4,236.4" stroke="#ffff00" stroke-width="1" fill="none" stroke-linejoin="miter" stroke-linecap="butt"/>
<polyline points="423.06,236.4 423.06,242.2 429.66,242.2 429.66,236.4" stroke="#ffff00" stroke-width="1" fill="none" stroke-linejoin="miter" stroke-linecap="butt"/>
<circle cx="44" cy="202.6" r="1.9" fill="#ffff00"/>
<circle cx="44" cy="212.7" r="1.9" fill="#ffff00"/>
<circle cx="44" cy="223.5" r="1.9" fill="#ffff00"/>
<circle cx="44" cy="234.5" r="1.9" fill="#ffff00"/>
<line x1="44" y1="256.8" x2="435" y2="256.8" stroke="#ffff00" stroke-width="3.8" stroke-linecap="round"/>
<line x1="44" y1="262" x2="432" y2="262" stroke="#ffff00" stroke-width="3.8" stroke-linecap="round"/>
<line x1="44" y1="267.2" x2="341" y2="267.2" stroke="#ffff00" stroke-width="3.8" stroke-linecap="round"/>
<line x1="439" y1="240" x2="439" y2="257" stroke="#ffffff" stroke-width="2.5" stroke-linecap="butt"/>
<path d="M371,19.3 C366,23 366,28 368,30 C372,33 378,36 380,41 C381,46 375,48 371,51 C368,55 366,58 360,59.5 C356,61 355,63 361,65.5 C370,68 377,71 378,75 C380,80 378,86 376,89 C373,92 370,94 367,94.6" stroke="#ffff00" stroke-width="3" fill="none" />
<path d="M371,19.3 C375,22 377,27 380,29 C384,31 388,32 392,30 C398,29 405,29 409,30 L412.3,31.4 L412.3,87.8" stroke="#ffff00" stroke-width="3" fill="none" />
<polygon points="389.7,70.5 481.68,152.16 468.4,167.12 376.42,85.46" stroke="#ffff00" stroke-width="1" fill="#ffff00" stroke-linejoin="round" stroke-linecap="butt"/>
<polygon points="389.62,75.11 477.11,152.79 473.93,156.38 386.43,78.7" stroke="none" stroke-width="0" fill="#212830" stroke-linejoin="miter" stroke-linecap="butt"/>
<polygon points="474.29,158.98 498.87,184.01 499.47,189.36 493.08,189.03 467.65,166.45" stroke="#ffff00" stroke-width="1" fill="#ffff00" stroke-linejoin="round" stroke-linecap="butt"/>
<path d="M480.4,152.1 L504.61,174.53 Q508.94,181.71 504.37,188.36 Q500.97,190.68 498.06,189.44" stroke="#ffff00" stroke-width="2.2" fill="none" />
<line x1="480.93" y1="151.5" x2="467.65" y2="166.45" stroke="#ffff00" stroke-width="2" stroke-linecap="butt"/>
<ellipse cx="485.42" cy="161.5" rx="2" ry="2" stroke="#ffff00" stroke-width="1.3" fill="none"/>
<ellipse cx="492.57" cy="168.52" rx="2.2" ry="2.2" stroke="#ffff00" stroke-width="1.3" fill="none"/>
<ellipse cx="497.55" cy="174.95" rx="1.8" ry="1.8" stroke="#ffff00" stroke-width="1.3" fill="none"/>
<path d="M481.93,156.4 Q484.68,166.86 493.98,174.45" stroke="#ffff00" stroke-width="1.3" fill="none" />
<line x1="433" y1="284.4" x2="519" y2="284.4" stroke="#00ff00" stroke-width="3.6" stroke-linecap="round"/>
<line x1="533" y1="284.4" x2="713" y2="284.4" stroke="#00ff00" stroke-width="3.6" stroke-linecap="round"/>
<line x1="415.6" y1="290.7" x2="519" y2="290.7" stroke="#00ff00" stroke-width="3.6" stroke-linecap="round"/>
<line x1="533" y1="290.7" x2="716.7" y2="290.7" stroke="#00ff00" stroke-width="3.6" stroke-linecap="butt"/>
<line x1="414" y1="300.2" x2="716.7" y2="300.2" stroke="#00ff00" stroke-width="3.6" stroke-linecap="butt"/>
<line x1="716.7" y1="288.9" x2="716.7" y2="302" stroke="#00ff00" stroke-width="3.6" stroke-linecap="butt"/>
<line x1="414" y1="308.3" x2="727" y2="308.3" stroke="#00ff00" stroke-width="3.8" stroke-linecap="butt"/>
<line x1="420.4" y1="316" x2="420.4" y2="373" stroke="#0000ff" stroke-width="1" stroke-linecap="butt"/>
<line x1="431.23" y1="316" x2="431.23" y2="373" stroke="#0000ff" stroke-width="1" stroke-linecap="butt"/>
<line x1="442.06" y1="316" x2="442.06" y2="373" stroke="#0000ff" stroke-width="1" stroke-linecap="butt"/>
<line x1="452.89" y1="316" x2="452.89" y2="373" stroke="#0000ff" stroke-width="1" stroke-linecap="butt"/>
<line x1="463.72" y1="316" x2="463.72" y2="373" stroke="#0000ff" stroke-width="1" stroke-linecap="butt"/>
<line x1="474.55" y1="316" x2="474.55" y2="373" stroke="#0000ff" stroke-width="1" stroke-linecap="butt"/>
<line x1="485.38" y1="316" x2="485.38" y2="373" stroke="#0000ff" stroke-width="1" stroke-linecap="butt"/>
<line x1="496.21" y1="316" x2="496.21" y2="373" stroke="#0000ff" stroke-width="1" stroke-linecap="butt"/>
<line x1="507.04" y1="316" x2="507.04" y2="373" stroke="#0000ff" stroke-width="1" stroke-linecap="butt"/>
<line x1="517.87" y1="316" x2="517.87" y2="373" stroke="#0000ff" stroke-width="1" stroke-linecap="butt"/>
<line x1="528.7" y1="316" x2="528.7" y2="373" stroke="#0000ff" stroke-width="1" stroke-linecap="butt"/>
<line x1="539.53" y1="316" x2="539.53" y2="373" stroke="#0000ff" stroke-width="1" stroke-linecap="butt"/>
<line x1="550.36" y1="316" x2="550.36" y2="373" stroke="#0000ff" stroke-width="1" stroke-linecap="butt"/>
<line x1="561.19" y1="316" x2="561.19" y2="373" stroke="#0000ff" stroke-width="1" stroke-linecap="butt"/>
<line x1="572.02" y1="316" x2="572.02" y2="373" stroke="#0000ff" stroke-width="1" stroke-linecap="butt"/>
<line x1="582.85" y1="316" x2="582.85" y2="373" stroke="#0000ff" stroke-width="1" stroke-linecap="butt"/>
<line x1="593.68" y1="316" x2="593.68" y2="373" stroke="#0000ff" stroke-width="1" stroke-linecap="butt"/>
<line x1="604.51" y1="316" x2="604.51" y2="373" stroke="#0000ff" stroke-width="1" stroke-linecap="butt"/>
<line x1="615.34" y1="316" x2="615.34" y2="373" stroke="#0000ff" stroke-width="1" stroke-linecap="butt"/>
<line x1="626.17" y1="316" x2="626.17" y2="373" stroke="#0000ff" stroke-width="1" stroke-linecap="butt"/>
<line x1="637" y1="316" x2="637" y2="373" stroke="#0000ff" stroke-width="1" stroke-linecap="butt"/>
<line x1="647.83" y1="316" x2="647.83" y2="373" stroke="#0000ff" stroke-width="1" stroke-linecap="butt"/>
<line x1="658.66" y1="316" x2="658.66" y2="373" stroke="#0000ff" stroke-width="1" stroke-linecap="butt"/>
<line x1="669.49" y1="316" x2="669.49" y2="373" stroke="#0000ff" stroke-width="1" stroke-linecap="butt"/>
<line x1="680.32" y1="316" x2="680.32" y2="373" stroke="#0000ff" stroke-width="1" stroke-linecap="butt"/>
<line x1="691.15" y1="316" x2="691.15" y2="373" stroke="#0000ff" stroke-width="1" stroke-linecap="butt"/>
<line x1="701.98" y1="316" x2="701.98" y2="373" stroke="#0000ff" stroke-width="1" stroke-linecap="butt"/>
<line x1="712.81" y1="316" x2="712.81" y2="373" stroke="#0000ff" stroke-width="1" stroke-linecap="butt"/>
<line x1="723.64" y1="315.86" x2="723.64" y2="373" stroke="#0000ff" stroke-width="1" stroke-linecap="butt"/>
<line x1="734.47" y1="315.71" x2="734.47" y2="373" stroke="#0000ff" stroke-width="1" stroke-linecap="butt"/>
<line x1="745.3" y1="324.44" x2="745.3" y2="373" stroke="#0000ff" stroke-width="1" stroke-linecap="butt"/>
<line x1="756.13" y1="333.25" x2="756.13" y2="373" stroke="#0000ff" stroke-width="1" stroke-linecap="butt"/>
<line x1="766.96" y1="343.67" x2="766.96" y2="373" stroke="#0000ff" stroke-width="1" stroke-linecap="butt"/>
<line x1="777.79" y1="354.88" x2="777.79" y2="373" stroke="#0000ff" stroke-width="1" stroke-linecap="butt"/>
<line x1="788.62" y1="363.13" x2="788.62" y2="373" stroke="#0000ff" stroke-width="1" stroke-linecap="butt"/>
<line x1="799.45" y1="367.45" x2="799.45" y2="373" stroke="#0000ff" stroke-width="1" stroke-linecap="butt"/>
<polyline points="413,315.8 420.1,315.8 423.6,309.6 428.6,309.6 432.1,315.8 441.7,315.8 445.2,309.6 450.2,309.6 453.7,315.8 463.3,315.8 466.8,309.6 471.8,309.6 475.3,315.8 484.9,315.8 488.4,309.6 493.4,309.6 496.9,315.8 506.5,315.8 510,309.6 515,309.6 518.5,315.8 528.1,315.8 531.6,309.6 536.6,309.6 540.1,315.8 549.7,315.8 553.2,309.6 558.2,309.6 561.7,315.8 571.3,315.8 574.8,309.6 579.8,309.6 583.3,315.8 592.9,315.8 596.4,309.6 601.4,309.6 604.9,315.8 614.5,315.8 618,309.6 623,309.6 626.5,315.8 636.1,315.8 639.6,309.6 644.6,309.6 648.1,315.8 657.7,315.8 661.2,309.6 666.2,309.6 669.7,315.8 679.3,315.8 682.8,309.6 687.8,309.6 691.3,315.8 700.9,315.8 704.4,309.6 709.4,309.6 712.9,315.8 722.5,315.8 724,313.14" stroke="#00ffff" stroke-width="4.2" fill="none" stroke-linejoin="round" stroke-linecap="butt"/>
<path d="M724,313.5 L732,313.5 C736,314.5 738.5,316.65 738.8,319.8 C739.2,323 740,323.3 743.5,322.5 C747,321.7 747.5,321 750,320.5 C754,321.5 756.5,328.2 756.8,335.9 C757.2,343 759,343.3 762.5,342.5 C766,341.7 768.5,341.5 771,341 C775,342 777.5,348.18 777.8,355.35 C778.2,362 782.5,362.3 786,361.5 C789.5,360.7 789.5,360.5 792,360 C796,361 798.5,365.6 798.8,371.2 C799.2,376.5 802.5,376.8 806,376 C809.5,375.2 809.5,374.5 812,374" stroke="#00ffff" stroke-width="3.5" fill="none" stroke-linejoin="round"/>
<rect x="413" y="376.8" width="402" height="7.2" fill="#00ffff"/>
<path d="M395.3,377.1 C398.1,374.8 398.9,368.6 404.1,368.6 C409.3,368.6 410.1,374.8 412.9,377.1 Z" fill="#00ffff" clip-path="url(#clipband413)"/>
<path d="M416.9,377.1 C419.7,374.8 420.5,368.6 425.7,368.6 C430.9,368.6 431.7,374.8 434.5,377.1 Z" fill="#00ffff" clip-path="url(#clipband413)"/>
<path d="M438.5,377.1 C441.3,374.8 442.1,368.6 447.3,368.6 C452.5,368.6 453.3,374.8 456.1,377.1 Z" fill="#00ffff" clip-path="url(#clipband413)"/>
<path d="M460.1,377.1 C462.9,374.8 463.7,368.6 468.9,368.6 C474.1,368.6 474.9,374.8 477.7,377.1 Z" fill="#00ffff" clip-path="url(#clipband413)"/>
<path d="M481.7,377.1 C484.5,374.8 485.3,368.6 490.5,368.6 C495.7,368.6 496.5,374.8 499.3,377.1 Z" fill="#00ffff" clip-path="url(#clipband413)"/>
<path d="M503.3,377.1 C506.1,374.8 506.9,368.6 512.1,368.6 C517.3,368.6 518.1,374.8 520.9,377.1 Z" fill="#00ffff" clip-path="url(#clipband413)"/>
<path d="M524.9,377.1 C527.7,374.8 528.5,368.6 533.7,368.6 C538.9,368.6 539.7,374.8 542.5,377.1 Z" fill="#00ffff" clip-path="url(#clipband413)"/>
<path d="M546.5,377.1 C549.3,374.8 550.1,368.6 555.3,368.6 C560.5,368.6 561.3,374.8 564.1,377.1 Z" fill="#00ffff" clip-path="url(#clipband413)"/>
<path d="M568.1,377.1 C570.9,374.8 571.7,368.6 576.9,368.6 C582.1,368.6 582.9,374.8 585.7,377.1 Z" fill="#00ffff" clip-path="url(#clipband413)"/>
<path d="M589.7,377.1 C592.5,374.8 593.3,368.6 598.5,368.6 C603.7,368.6 604.5,374.8 607.3,377.1 Z" fill="#00ffff" clip-path="url(#clipband413)"/>
<path d="M611.3,377.1 C614.1,374.8 614.9,368.6 620.1,368.6 C625.3,368.6 626.1,374.8 628.9,377.1 Z" fill="#00ffff" clip-path="url(#clipband413)"/>
<path d="M632.9,377.1 C635.7,374.8 636.5,368.6 641.7,368.6 C646.9,368.6 647.7,374.8 650.5,377.1 Z" fill="#00ffff" clip-path="url(#clipband413)"/>
<path d="M654.5,377.1 C657.3,374.8 658.1,368.6 663.3,368.6 C668.5,368.6 669.3,374.8 672.1,377.1 Z" fill="#00ffff" clip-path="url(#clipband413)"/>
<path d="M676.1,377.1 C678.9,374.8 679.7,368.6 684.9,368.6 C690.1,368.6 690.9,374.8 693.7,377.1 Z" fill="#00ffff" clip-path="url(#clipband413)"/>
<path d="M697.7,377.1 C700.5,374.8 701.3,368.6 706.5,368.6 C711.7,368.6 712.5,374.8 715.3,377.1 Z" fill="#00ffff" clip-path="url(#clipband413)"/>
<path d="M719.3,377.1 C722.1,374.8 722.9,368.6 728.1,368.6 C733.3,368.6 734.1,374.8 736.9,377.1 Z" fill="#00ffff" clip-path="url(#clipband413)"/>
<path d="M740.9,377.1 C743.7,374.8 744.5,368.6 749.7,368.6 C754.9,368.6 755.7,374.8 758.5,377.1 Z" fill="#00ffff" clip-path="url(#clipband413)"/>
<path d="M762.5,377.1 C765.3,374.8 766.1,368.6 771.3,368.6 C776.5,368.6 777.3,374.8 780.1,377.1 Z" fill="#00ffff" clip-path="url(#clipband413)"/>
<path d="M784.1,377.1 C786.9,374.8 787.7,368.6 792.9,368.6 C798.1,368.6 798.9,374.8 801.7,377.1 Z" fill="#00ffff" clip-path="url(#clipband413)"/>
<path d="M805.7,377.1 C808.5,374.8 809.3,368.6 814.5,368.6 C819.7,368.6 820.5,374.8 823.3,377.1 Z" fill="#00ffff" clip-path="url(#clipband413)"/>
<ellipse cx="425.7" cy="375.8" rx="3" ry="3.3" stroke="none" stroke-width="0" fill="#212830"/>
<ellipse cx="447.3" cy="375.8" rx="3" ry="3.3" stroke="none" stroke-width="0" fill="#212830"/>
<ellipse cx="468.9" cy="375.8" rx="3" ry="3.3" stroke="none" stroke-width="0" fill="#212830"/>
<ellipse cx="490.5" cy="375.8" rx="3" ry="3.3" stroke="none" stroke-width="0" fill="#212830"/>
<ellipse cx="512.1" cy="375.8" rx="3" ry="3.3" stroke="none" stroke-width="0" fill="#212830"/>
<ellipse cx="533.7" cy="375.8" rx="3" ry="3.3" stroke="none" stroke-width="0" fill="#212830"/>
<ellipse cx="555.3" cy="375.8" rx="3" ry="3.3" stroke="none" stroke-width="0" fill="#212830"/>
<ellipse cx="576.9" cy="375.8" rx="3" ry="3.3" stroke="none" stroke-width="0" fill="#212830"/>
<ellipse cx="598.5" cy="375.8" rx="3" ry="3.3" stroke="none" stroke-width="0" fill="#212830"/>
<ellipse cx="620.1" cy="375.8" rx="3" ry="3.3" stroke="none" stroke-width="0" fill="#212830"/>
<ellipse cx="641.7" cy="375.8" rx="3" ry="3.3" stroke="none" stroke-width="0" fill="#212830"/>
<ellipse cx="663.3" cy="375.8" rx="3" ry="3.3" stroke="none" stroke-width="0" fill="#212830"/>
<ellipse cx="684.9" cy="375.8" rx="3" ry="3.3" stroke="none" stroke-width="0" fill="#212830"/>
<ellipse cx="706.5" cy="375.8" rx="3" ry="3.3" stroke="none" stroke-width="0" fill="#212830"/>
<ellipse cx="728.1" cy="375.8" rx="3" ry="3.3" stroke="none" stroke-width="0" fill="#212830"/>
<ellipse cx="749.7" cy="375.8" rx="3" ry="3.3" stroke="none" stroke-width="0" fill="#212830"/>
<ellipse cx="771.3" cy="375.8" rx="3" ry="3.3" stroke="none" stroke-width="0" fill="#212830"/>
<ellipse cx="792.9" cy="375.8" rx="3" ry="3.3" stroke="none" stroke-width="0" fill="#212830"/>
<polygon points="418.2,384.1 420.4,381.7 422.6,384.1" stroke="none" stroke-width="0" fill="#212830" stroke-linejoin="miter" stroke-linecap="butt"/>
<polygon points="429.03,384.1 431.23,381.7 433.43,384.1" stroke="none" stroke-width="0" fill="#212830" stroke-linejoin="miter" stroke-linecap="butt"/>
<polygon points="439.86,384.1 442.06,381.7 444.26,384.1" stroke="none" stroke-width="0" fill="#212830" stroke-linejoin="miter" stroke-linecap="butt"/>
<polygon points="450.69,384.1 452.89,381.7 455.09,384.1" stroke="none" stroke-width="0" fill="#212830" stroke-linejoin="miter" stroke-linecap="butt"/>
<polygon points="461.52,384.1 463.72,381.7 465.92,384.1" stroke="none" stroke-width="0" fill="#212830" stroke-linejoin="miter" stroke-linecap="butt"/>
<polygon points="472.35,384.1 474.55,381.7 476.75,384.1" stroke="none" stroke-width="0" fill="#212830" stroke-linejoin="miter" stroke-linecap="butt"/>
<polygon points="483.18,384.1 485.38,381.7 487.58,384.1" stroke="none" stroke-width="0" fill="#212830" stroke-linejoin="miter" stroke-linecap="butt"/>
<polygon points="494.01,384.1 496.21,381.7 498.41,384.1" stroke="none" stroke-width="0" fill="#212830" stroke-linejoin="miter" stroke-linecap="butt"/>
<polygon points="504.84,384.1 507.04,381.7 509.24,384.1" stroke="none" stroke-width="0" fill="#212830" stroke-linejoin="miter" stroke-linecap="butt"/>
<polygon points="515.67,384.1 517.87,381.7 520.07,384.1" stroke="none" stroke-width="0" fill="#212830" stroke-linejoin="miter" stroke-linecap="butt"/>
<polygon points="526.5,384.1 528.7,381.7 530.9,384.1" stroke="none" stroke-width="0" fill="#212830" stroke-linejoin="miter" stroke-linecap="butt"/>
<polygon points="537.33,384.1 539.53,381.7 541.73,384.1" stroke="none" stroke-width="0" fill="#212830" stroke-linejoin="miter" stroke-linecap="butt"/>
<polygon points="548.16,384.1 550.36,381.7 552.56,384.1" stroke="none" stroke-width="0" fill="#212830" stroke-linejoin="miter" stroke-linecap="butt"/>
<polygon points="558.99,384.1 561.19,381.7 563.39,384.1" stroke="none" stroke-width="0" fill="#212830" stroke-linejoin="miter" stroke-linecap="butt"/>
<polygon points="569.82,384.1 572.02,381.7 574.22,384.1" stroke="none" stroke-width="0" fill="#212830" stroke-linejoin="miter" stroke-linecap="butt"/>
<polygon points="580.65,384.1 582.85,381.7 585.05,384.1" stroke="none" stroke-width="0" fill="#212830" stroke-linejoin="miter" stroke-linecap="butt"/>
<polygon points="591.48,384.1 593.68,381.7 595.88,384.1" stroke="none" stroke-width="0" fill="#212830" stroke-linejoin="miter" stroke-linecap="butt"/>
<polygon points="602.31,384.1 604.51,381.7 606.71,384.1" stroke="none" stroke-width="0" fill="#212830" stroke-linejoin="miter" stroke-linecap="butt"/>
<polygon points="613.14,384.1 615.34,381.7 617.54,384.1" stroke="none" stroke-width="0" fill="#212830" stroke-linejoin="miter" stroke-linecap="butt"/>
<polygon points="623.97,384.1 626.17,381.7 628.37,384.1" stroke="none" stroke-width="0" fill="#212830" stroke-linejoin="miter" stroke-linecap="butt"/>
<polygon points="634.8,384.1 637,381.7 639.2,384.1" stroke="none" stroke-width="0" fill="#212830" stroke-linejoin="miter" stroke-linecap="butt"/>
<polygon points="645.63,384.1 647.83,381.7 650.03,384.1" stroke="none" stroke-width="0" fill="#212830" stroke-linejoin="miter" stroke-linecap="butt"/>
<polygon points="656.46,384.1 658.66,381.7 660.86,384.1" stroke="none" stroke-width="0" fill="#212830" stroke-linejoin="miter" stroke-linecap="butt"/>
<polygon points="667.29,384.1 669.49,381.7 671.69,384.1" stroke="none" stroke-width="0" fill="#212830" stroke-linejoin="miter" stroke-linecap="butt"/>
<polygon points="678.12,384.1 680.32,381.7 682.52,384.1" stroke="none" stroke-width="0" fill="#212830" stroke-linejoin="miter" stroke-linecap="butt"/>
<polygon points="688.95,384.1 691.15,381.7 693.35,384.1" stroke="none" stroke-width="0" fill="#212830" stroke-linejoin="miter" stroke-linecap="butt"/>
<polygon points="699.78,384.1 701.98,381.7 704.18,384.1" stroke="none" stroke-width="0" fill="#212830" stroke-linejoin="miter" stroke-linecap="butt"/>
<polygon points="710.61,384.1 712.81,381.7 715.01,384.1" stroke="none" stroke-width="0" fill="#212830" stroke-linejoin="miter" stroke-linecap="butt"/>
<polygon points="721.44,384.1 723.64,381.7 725.84,384.1" stroke="none" stroke-width="0" fill="#212830" stroke-linejoin="miter" stroke-linecap="butt"/>
<polygon points="732.27,384.1 734.47,381.7 736.67,384.1" stroke="none" stroke-width="0" fill="#212830" stroke-linejoin="miter" stroke-linecap="butt"/>
<polygon points="743.1,384.1 745.3,381.7 747.5,384.1" stroke="none" stroke-width="0" fill="#212830" stroke-linejoin="miter" stroke-linecap="butt"/>
<polygon points="753.93,384.1 756.13,381.7 758.33,384.1" stroke="none" stroke-width="0" fill="#212830" stroke-linejoin="miter" stroke-linecap="butt"/>
<polygon points="764.76,384.1 766.96,381.7 769.16,384.1" stroke="none" stroke-width="0" fill="#212830" stroke-linejoin="miter" stroke-linecap="butt"/>
<polygon points="775.59,384.1 777.79,381.7 779.99,384.1" stroke="none" stroke-width="0" fill="#212830" stroke-linejoin="miter" stroke-linecap="butt"/>
<polygon points="786.42,384.1 788.62,381.7 790.82,384.1" stroke="none" stroke-width="0" fill="#212830" stroke-linejoin="miter" stroke-linecap="butt"/>
<polygon points="797.25,384.1 799.45,381.7 801.65,384.1" stroke="none" stroke-width="0" fill="#212830" stroke-linejoin="miter" stroke-linecap="butt"/>
<rect x="812" y="376" width="4.5" height="9" fill="#00ffff"/>
<rect x="413" y="384.4" width="386.1" height="14" fill="#ffff00"/>
<rect x="413" y="394.8" width="375.1" height="15.1" fill="#ffff00"/>
<rect x="797.5" y="384.4" width="18.8" height="3.8" fill="#ffff00"/>
<line x1="814.7" y1="377.8" x2="814.7" y2="388.2" stroke="#ffff00" stroke-width="3.2" stroke-linecap="butt"/>
<line x1="799.1" y1="386.3" x2="799.1" y2="398.4" stroke="#ffff00" stroke-width="3.2" stroke-linecap="butt"/>
<line x1="788.1" y1="396.6" x2="788.1" y2="409.9" stroke="#ffff00" stroke-width="3.2" stroke-linecap="butt"/>
<rect x="414.8" y="388.8" width="5.3" height="5" fill="#212830"/>
<rect x="422.06" y="388.8" width="5.3" height="5" fill="#212830"/>
<rect x="429.32" y="388.8" width="5.3" height="5" fill="#212830"/>
<rect x="436.58" y="388.8" width="5.3" height="5" fill="#212830"/>
<rect x="443.84" y="388.8" width="5.3" height="5" fill="#212830"/>
<rect x="451.1" y="388.8" width="5.3" height="5" fill="#212830"/>
<rect x="458.36" y="388.8" width="5.3" height="5" fill="#212830"/>
<rect x="465.62" y="388.8" width="5.3" height="5" fill="#212830"/>
<rect x="472.88" y="388.8" width="5.3" height="5" fill="#212830"/>
<rect x="480.14" y="388.8" width="5.3" height="5" fill="#212830"/>
<rect x="487.4" y="388.8" width="5.3" height="5" fill="#212830"/>
<rect x="494.66" y="388.8" width="5.3" height="5" fill="#212830"/>
<rect x="501.92" y="388.8" width="5.3" height="5" fill="#212830"/>
<rect x="509.18" y="388.8" width="5.3" height="5" fill="#212830"/>
<rect x="516.44" y="388.8" width="5.3" height="5" fill="#212830"/>
<rect x="523.7" y="388.8" width="5.3" height="5" fill="#212830"/>
<rect x="530.96" y="388.8" width="5.3" height="5" fill="#212830"/>
<rect x="538.22" y="388.8" width="5.3" height="5" fill="#212830"/>
<rect x="545.48" y="388.8" width="5.3" height="5" fill="#212830"/>
<rect x="552.74" y="388.8" width="5.3" height="5" fill="#212830"/>
<rect x="560" y="388.8" width="5.3" height="5" fill="#212830"/>
<rect x="567.26" y="388.8" width="5.3" height="5" fill="#212830"/>
<rect x="574.52" y="388.8" width="5.3" height="5" fill="#212830"/>
<rect x="581.78" y="388.8" width="5.3" height="5" fill="#212830"/>
<rect x="589.04" y="388.8" width="5.3" height="5" fill="#212830"/>
<rect x="596.3" y="388.8" width="5.3" height="5" fill="#212830"/>
<rect x="603.56" y="388.8" width="5.3" height="5" fill="#212830"/>
<rect x="610.82" y="388.8" width="5.3" height="5" fill="#212830"/>
<rect x="618.08" y="388.8" width="5.3" height="5" fill="#212830"/>
<rect x="625.34" y="388.8" width="5.3" height="5" fill="#212830"/>
<rect x="632.6" y="388.8" width="5.3" height="5" fill="#212830"/>
<rect x="639.86" y="388.8" width="5.3" height="5" fill="#212830"/>
<rect x="647.12" y="388.8" width="5.3" height="5" fill="#212830"/>
<rect x="654.38" y="388.8" width="5.3" height="5" fill="#212830"/>
<rect x="661.64" y="388.8" width="5.3" height="5" fill="#212830"/>
<rect x="668.9" y="388.8" width="5.3" height="5" fill="#212830"/>
<rect x="676.16" y="388.8" width="5.3" height="5" fill="#212830"/>
<rect x="683.42" y="388.8" width="5.3" height="5" fill="#212830"/>
<rect x="690.68" y="388.8" width="5.3" height="5" fill="#212830"/>
<rect x="697.94" y="388.8" width="5.3" height="5" fill="#212830"/>
<rect x="705.2" y="388.8" width="5.3" height="5" fill="#212830"/>
<rect x="712.46" y="388.8" width="5.3" height="5" fill="#212830"/>
<rect x="719.72" y="388.8" width="5.3" height="5" fill="#212830"/>
<rect x="726.98" y="388.8" width="5.3" height="5" fill="#212830"/>
<rect x="734.24" y="388.8" width="5.3" height="5" fill="#212830"/>
<rect x="741.5" y="388.8" width="5.3" height="5" fill="#212830"/>
<rect x="748.76" y="388.8" width="5.3" height="5" fill="#212830"/>
<rect x="756.02" y="388.8" width="5.3" height="5" fill="#212830"/>
<rect x="763.28" y="388.8" width="5.3" height="5" fill="#212830"/>
<rect x="770.54" y="388.8" width="5.3" height="5" fill="#212830"/>
<rect x="777.8" y="388.8" width="5.3" height="5" fill="#212830"/>
<rect x="785.06" y="388.8" width="5.3" height="5" fill="#212830"/>
<rect x="418.3" y="398.7" width="5.4" height="6.8" fill="#212830"/>
<rect x="425.56" y="398.7" width="5.4" height="6.8" fill="#212830"/>
<rect x="432.82" y="398.7" width="5.4" height="6.8" fill="#212830"/>
<rect x="440.08" y="398.7" width="5.4" height="6.8" fill="#212830"/>
<rect x="447.34" y="398.7" width="5.4" height="6.8" fill="#212830"/>
<rect x="454.6" y="398.7" width="5.4" height="6.8" fill="#212830"/>
<rect x="461.86" y="398.7" width="5.4" height="6.8" fill="#212830"/>
<rect x="469.12" y="398.7" width="5.4" height="6.8" fill="#212830"/>
<rect x="476.38" y="398.7" width="5.4" height="6.8" fill="#212830"/>
<rect x="483.64" y="398.7" width="5.4" height="6.8" fill="#212830"/>
<rect x="490.9" y="398.7" width="5.4" height="6.8" fill="#212830"/>
<rect x="498.16" y="398.7" width="5.4" height="6.8" fill="#212830"/>
<rect x="505.42" y="398.7" width="5.4" height="6.8" fill="#212830"/>
<rect x="512.68" y="398.7" width="5.4" height="6.8" fill="#212830"/>
<rect x="519.94" y="398.7" width="5.4" height="6.8" fill="#212830"/>
<rect x="527.2" y="398.7" width="5.4" height="6.8" fill="#212830"/>
<rect x="534.46" y="398.7" width="5.4" height="6.8" fill="#212830"/>
<rect x="541.72" y="398.7" width="5.4" height="6.8" fill="#212830"/>
<rect x="548.98" y="398.7" width="5.4" height="6.8" fill="#212830"/>
<rect x="556.24" y="398.7" width="5.4" height="6.8" fill="#212830"/>
<rect x="563.5" y="398.7" width="5.4" height="6.8" fill="#212830"/>
<rect x="570.76" y="398.7" width="5.4" height="6.8" fill="#212830"/>
<rect x="578.02" y="398.7" width="5.4" height="6.8" fill="#212830"/>
<rect x="585.28" y="398.7" width="5.4" height="6.8" fill="#212830"/>
<rect x="592.54" y="398.7" width="5.4" height="6.8" fill="#212830"/>
<rect x="599.8" y="398.7" width="5.4" height="6.8" fill="#212830"/>
<rect x="607.06" y="398.7" width="5.4" height="6.8" fill="#212830"/>
<rect x="614.32" y="398.7" width="5.4" height="6.8" fill="#212830"/>
<rect x="621.58" y="398.7" width="5.4" height="6.8" fill="#212830"/>
<rect x="628.84" y="398.7" width="5.4" height="6.8" fill="#212830"/>
<rect x="636.1" y="398.7" width="5.4" height="6.8" fill="#212830"/>
<rect x="643.36" y="398.7" width="5.4" height="6.8" fill="#212830"/>
<rect x="650.62" y="398.7" width="5.4" height="6.8" fill="#212830"/>
<rect x="657.88" y="398.7" width="5.4" height="6.8" fill="#212830"/>
<rect x="665.14" y="398.7" width="5.4" height="6.8" fill="#212830"/>
<rect x="672.4" y="398.7" width="5.4" height="6.8" fill="#212830"/>
<rect x="679.66" y="398.7" width="5.4" height="6.8" fill="#212830"/>
<rect x="686.92" y="398.7" width="5.4" height="6.8" fill="#212830"/>
<rect x="694.18" y="398.7" width="5.4" height="6.8" fill="#212830"/>
<rect x="701.44" y="398.7" width="5.4" height="6.8" fill="#212830"/>
<rect x="708.7" y="398.7" width="5.4" height="6.8" fill="#212830"/>
<rect x="715.96" y="398.7" width="5.4" height="6.8" fill="#212830"/>
<rect x="723.22" y="398.7" width="5.4" height="6.8" fill="#212830"/>
<rect x="730.48" y="398.7" width="5.4" height="6.8" fill="#212830"/>
<rect x="737.74" y="398.7" width="5.4" height="6.8" fill="#212830"/>
<rect x="745" y="398.7" width="5.4" height="6.8" fill="#212830"/>
<rect x="752.26" y="398.7" width="5.4" height="6.8" fill="#212830"/>
<rect x="759.52" y="398.7" width="5.4" height="6.8" fill="#212830"/>
<rect x="766.78" y="398.7" width="5.4" height="6.8" fill="#212830"/>
<rect x="774.04" y="398.7" width="5.4" height="6.8" fill="#212830"/>
<rect x="781.3" y="398.7" width="5.4" height="6.8" fill="#212830"/>
<polyline points="420.2,409.9 420.2,415.7 426.8,415.7 426.8,409.9" stroke="#ffff00" stroke-width="1" fill="none" stroke-linejoin="miter" stroke-linecap="butt"/>
<polyline points="434.7,409.9 434.7,415.7 441.3,415.7 441.3,409.9" stroke="#ffff00" stroke-width="1" fill="none" stroke-linejoin="miter" stroke-linecap="butt"/>
<polyline points="449.2,409.9 449.2,415.7 455.8,415.7 455.8,409.9" stroke="#ffff00" stroke-width="1" fill="none" stroke-linejoin="miter" stroke-linecap="butt"/>
<polyline points="463.7,409.9 463.7,415.7 470.3,415.7 470.3,409.9" stroke="#ffff00" stroke-width="1" fill="none" stroke-linejoin="miter" stroke-linecap="butt"/>
<polyline points="478.2,409.9 478.2,415.7 484.8,415.7 484.8,409.9" stroke="#ffff00" stroke-width="1" fill="none" stroke-linejoin="miter" stroke-linecap="butt"/>
<polyline points="492.7,409.9 492.7,415.7 499.3,415.7 499.3,409.9" stroke="#ffff00" stroke-width="1" fill="none" stroke-linejoin="miter" stroke-linecap="butt"/>
<polyline points="507.2,409.9 507.2,415.7 513.8,415.7 513.8,409.9" stroke="#ffff00" stroke-width="1" fill="none" stroke-linejoin="miter" stroke-linecap="butt"/>
<polyline points="521.7,409.9 521.7,415.7 528.3,415.7 528.3,409.9" stroke="#ffff00" stroke-width="1" fill="none" stroke-linejoin="miter" stroke-linecap="butt"/>
<polyline points="536.2,409.9 536.2,415.7 542.8,415.7 542.8,409.9" stroke="#ffff00" stroke-width="1" fill="none" stroke-linejoin="miter" stroke-linecap="butt"/>
<polyline points="550.7,409.9 550.7,415.7 557.3,415.7 557.3,409.9" stroke="#ffff00" stroke-width="1" fill="none" stroke-linejoin="miter" stroke-linecap="butt"/>
<polyline points="565.2,409.9 565.2,415.7 571.8,415.7 571.8,409.9" stroke="#ffff00" stroke-width="1" fill="none" stroke-linejoin="miter" stroke-linecap="butt"/>
<polyline points="579.7,409.9 579.7,415.7 586.3,415.7 586.3,409.9" stroke="#ffff00" stroke-width="1" fill="none" stroke-linejoin="miter" stroke-linecap="butt"/>
<polyline points="594.2,409.9 594.2,415.7 600.8,415.7 600.8,409.9" stroke="#ffff00" stroke-width="1" fill="none" stroke-linejoin="miter" stroke-linecap="butt"/>
<polyline points="608.7,409.9 608.7,415.7 615.3,415.7 615.3,409.9" stroke="#ffff00" stroke-width="1" fill="none" stroke-linejoin="miter" stroke-linecap="butt"/>
<polyline points="623.2,409.9 623.2,415.7 629.8,415.7 629.8,409.9" stroke="#ffff00" stroke-width="1" fill="none" stroke-linejoin="miter" stroke-linecap="butt"/>
<polyline points="637.7,409.9 637.7,415.7 644.3,415.7 644.3,409.9" stroke="#ffff00" stroke-width="1" fill="none" stroke-linejoin="miter" stroke-linecap="butt"/>
<polyline points="652.2,409.9 652.2,415.7 658.8,415.7 658.8,409.9" stroke="#ffff00" stroke-width="1" fill="none" stroke-linejoin="miter" stroke-linecap="butt"/>
<polyline points="666.7,409.9 666.7,415.7 673.3,415.7 673.3,409.9" stroke="#ffff00" stroke-width="1" fill="none" stroke-linejoin="miter" stroke-linecap="butt"/>
<polyline points="681.2,409.9 681.2,415.7 687.8,415.7 687.8,409.9" stroke="#ffff00" stroke-width="1" fill="none" stroke-linejoin="miter" stroke-linecap="butt"/>
<polyline points="695.7,409.9 695.7,415.7 702.3,415.7 702.3,409.9" stroke="#ffff00" stroke-width="1" fill="none" stroke-linejoin="miter" stroke-linecap="butt"/>
<polyline points="710.2,409.9 710.2,415.7 716.8,415.7 716.8,409.9" stroke="#ffff00" stroke-width="1" fill="none" stroke-linejoin="miter" stroke-linecap="butt"/>
<polyline points="724.7,409.9 724.7,415.7 731.3,415.7 731.3,409.9" stroke="#ffff00" stroke-width="1" fill="none" stroke-linejoin="miter" stroke-linecap="butt"/>
<polyline points="739.2,409.9 739.2,415.7 745.8,415.7 745.8,409.9" stroke="#ffff00" stroke-width="1" fill="none" stroke-linejoin="miter" stroke-linecap="butt"/>
<polyline points="753.7,409.9 753.7,415.7 760.3,415.7 760.3,409.9" stroke="#ffff00" stroke-width="1" fill="none" stroke-linejoin="miter" stroke-linecap="butt"/>
<line x1="776.5" y1="408" x2="776.5" y2="431.3" stroke="#ffff00" stroke-width="3.2" stroke-linecap="butt"/>
<path d="M752.6,259.2 L741.3,260.3 C737,261 733,262.5 729,262.8 L722.8,263.3 C719,265 718,268 716,271 C714,274 711,276 706.4,276.7 C703,277 701,279 703,281 C706,283 710,283 713,283.5 C717,284.5 721,286 723,289 C725,293 724,297 722.5,300 C720,304 716,307 712.6,309.5" stroke="#ffff00" stroke-width="3" fill="none" />
<path d="M752.6,259.2 L752.6,297" stroke="#ffff00" stroke-width="3" fill="none" />
<polygon points="735.5,285.5 798.52,339.51 787.13,352.8 730.94,304.64" stroke="#ffff00" stroke-width="1" fill="#ffff00" stroke-linejoin="round" stroke-linecap="butt"/>
<polygon points="735.57,290.03 794.03,340.14 791.49,343.1 733.03,293" stroke="none" stroke-width="0" fill="#212830" stroke-linejoin="miter" stroke-linecap="butt"/>
<polygon points="792.07,345.51 811.2,364.67 812.19,369.67 806.11,369.07 786.37,352.15" stroke="#ffff00" stroke-width="1" fill="#ffff00" stroke-linejoin="round" stroke-linecap="butt"/>
<path d="M797.24,339.47 L815.77,356.27 Q820.21,363.38 816.74,368.96 Q813.71,370.97 810.86,369.68" stroke="#ffff00" stroke-width="2.2" fill="none" />
<line x1="797.76" y1="338.86" x2="786.37" y2="352.15" stroke="#ffff00" stroke-width="2" stroke-linecap="butt"/>
<ellipse cx="802.42" cy="348.79" rx="2" ry="2" stroke="#ffff00" stroke-width="1.3" fill="none"/>
<ellipse cx="809.69" cy="355.68" rx="2.2" ry="2.2" stroke="#ffff00" stroke-width="1.3" fill="none"/>
<ellipse cx="814.79" cy="362.02" rx="1.8" ry="1.8" stroke="#ffff00" stroke-width="1.3" fill="none"/>
<path d="M798.85,343.74 Q801.77,354.16 811.21,361.59" stroke="#ffff00" stroke-width="1.3" fill="none" />
<line x1="37.6" y1="29" x2="51.8" y2="44" stroke="#ffffff" stroke-width="1" stroke-linecap="butt"/>
<line x1="51.8" y1="29" x2="37.6" y2="44" stroke="#ffffff" stroke-width="1" stroke-linecap="butt"/>
<polygon points="30.6,32.9 42.8,32.9 38.5,28.6" stroke="#ffffff" stroke-width="1" fill="none" stroke-linejoin="miter" stroke-linecap="butt"/>
<polygon points="47.5,32.9 59.6,32.9 53.5,28.6" stroke="#ffffff" stroke-width="1" fill="none" stroke-linejoin="miter" stroke-linecap="butt"/>
<line x1="44" y1="284.2" x2="228" y2="284.2" stroke="#00ff00" stroke-width="3.8" stroke-linecap="round"/>
<line x1="228" y1="284.2" x2="228" y2="381.3" stroke="#00ff00" stroke-width="3.8" stroke-linecap="butt"/>
<line x1="44" y1="381.3" x2="228" y2="381.3" stroke="#00ff00" stroke-width="3.8" stroke-linecap="round"/>
<line x1="44" y1="305.4" x2="206" y2="305.4" stroke="#00ff00" stroke-width="3.8" stroke-linecap="round"/>
<line x1="206" y1="305.4" x2="206" y2="360.4" stroke="#00ff00" stroke-width="3.8" stroke-linecap="butt"/>
<line x1="44" y1="360.4" x2="206" y2="360.4" stroke="#00ff00" stroke-width="3.8" stroke-linecap="round"/>
<line x1="44" y1="397" x2="358" y2="397" stroke="#00ff00" stroke-width="3.8" stroke-linecap="round"/>
<line x1="70" y1="430" x2="772" y2="430" stroke="#00ff00" stroke-width="3.8" stroke-linecap="butt"/>
<line x1="341" y1="266.6" x2="430" y2="266.6" stroke="#00ffff" stroke-width="3.4" stroke-linecap="butt"/>
<path d="M345,267.5 L348.3,272.8 L421.5,272.8 L425,267.5" stroke="#00ffff" stroke-width="2.8" fill="none" />
<path d="M351,274 L354.6,283.4 M418.5,274 L415,283.4" stroke="#00ffff" stroke-width="2.8" fill="none" />
<line x1="352" y1="283.6" x2="430" y2="283.6" stroke="#00ffff" stroke-width="3" stroke-linecap="butt"/>
<line x1="357.3" y1="283" x2="357.3" y2="666.4" stroke="#00ffff" stroke-width="3" stroke-linecap="butt"/>
<line x1="411.6" y1="283" x2="411.6" y2="430" stroke="#00ffff" stroke-width="3" stroke-linecap="butt"/>
<ellipse cx="385" cy="350.4" rx="14.9" ry="18.8" stroke="#ffff00" stroke-width="2.6" fill="none"/>
<polyline points="385,353.5 344.4,375.5 279,375.5" stroke="#ffffff" stroke-width="1" fill="none" stroke-linejoin="miter" stroke-linecap="butt"/>
<g transform="translate(288.7,360.5) scale(9.43,11.1)" fill="none" stroke="#ffffff" stroke-width="1.05" stroke-linejoin="round" stroke-linecap="round" style="vector-effect:non-scaling-stroke"><path transform="translate(0,0)" d="M0.02,0.2 Q0.08,0 0.3,0 Q0.58,0 0.58,0.25 Q0.58,0.42 0.3,0.56 L0.3,0.74 M0.3,0.9 L0.3,1"/><path transform="translate(0.86,0)" d="M0.02,0.2 Q0.08,0 0.3,0 Q0.58,0 0.58,0.25 Q0.58,0.42 0.3,0.56 L0.3,0.74 M0.3,0.9 L0.3,1"/><path transform="translate(1.72,0)" d="M0.02,0.2 Q0.08,0 0.3,0 Q0.58,0 0.58,0.25 Q0.58,0.42 0.3,0.56 L0.3,0.74 M0.3,0.9 L0.3,1"/><path transform="translate(2.58,0)" d="M0.02,0.2 Q0.08,0 0.3,0 Q0.58,0 0.58,0.25 Q0.58,0.42 0.3,0.56 L0.3,0.74 M0.3,0.9 L0.3,1"/></g>
<line x1="281.6" y1="434.6" x2="770" y2="434.6" stroke="#ffff00" stroke-width="3.8" stroke-linecap="round"/>
<line x1="286.9" y1="440.4" x2="765" y2="440.4" stroke="#ffff00" stroke-width="3.8" stroke-linecap="round"/>
<line x1="291.4" y1="445.8" x2="760.8" y2="445.8" stroke="#ffff00" stroke-width="3.8" stroke-linecap="round"/>
<path d="M298.2,446.6 L300.5,454.5 Q301.5,456.3 304,456.3 L334.5,456.3 M348.9,456.3 L360,456.3 Q362,456 362.5,454 L363.2,446.6" stroke="#00ffff" stroke-width="3" fill="none" />
<path d="M691,446.6 L693,456 L752.6,456 L754.6,446.6" stroke="#00ffff" stroke-width="3" fill="none" />
<line x1="302.7" y1="456" x2="302.7" y2="666.4" stroke="#00ffff" stroke-width="3" stroke-linecap="butt"/>
<line x1="694.6" y1="456" x2="694.6" y2="666.4" stroke="#00ffff" stroke-width="3" stroke-linecap="butt"/>
<line x1="749" y1="456" x2="749" y2="666.4" stroke="#00ffff" stroke-width="3" stroke-linecap="butt"/>
<line x1="70" y1="488.7" x2="303" y2="488.7" stroke="#00ff00" stroke-width="3.8" stroke-linecap="butt"/>
<line x1="119" y1="430" x2="119" y2="488.7" stroke="#00ff00" stroke-width="3.8" stroke-linecap="butt"/>
<line x1="141" y1="430" x2="141" y2="488.7" stroke="#00ff00" stroke-width="3.8" stroke-linecap="butt"/>
<line x1="200" y1="430" x2="200" y2="488.7" stroke="#00ff00" stroke-width="3.8" stroke-linecap="butt"/>
<line x1="222.8" y1="430" x2="222.8" y2="488.7" stroke="#00ff00" stroke-width="3.8" stroke-linecap="butt"/>
<line x1="44" y1="521.9" x2="304" y2="521.9" stroke="#00ff00" stroke-width="3.8" stroke-linecap="round"/>
<path d="M44,415 C64,418 77,436 78,458 C78,480 68,498 56,503 L44,503.5" stroke="#ffff00" stroke-width="3.6" fill="none" />
<path d="M44,544.4 L59.6,544.4 C95,552 140,565 163.3,582 C178,566 200,556 221.3,553.5 C245,553 268,566 282,579.4" stroke="#00ff00" stroke-width="3.8" fill="none" />
<line x1="357" y1="479" x2="695.7" y2="479" stroke="#00ff00" stroke-width="3.8" stroke-linecap="butt"/>
<line x1="357" y1="532.7" x2="695.7" y2="532.7" stroke="#00ff00" stroke-width="3.8" stroke-linecap="butt"/>
<line x1="378.6" y1="479" x2="378.6" y2="532.7" stroke="#00ff00" stroke-width="3.8" stroke-linecap="butt"/>
<line x1="442.5" y1="479" x2="442.5" y2="532.7" stroke="#00ff00" stroke-width="3.8" stroke-linecap="butt"/>
<line x1="462.8" y1="479" x2="462.8" y2="532.7" stroke="#00ff00" stroke-width="3.8" stroke-linecap="butt"/>
<line x1="589" y1="479" x2="589" y2="532.7" stroke="#00ff00" stroke-width="3.8" stroke-linecap="butt"/>
<line x1="609.8" y1="479" x2="609.8" y2="532.7" stroke="#00ff00" stroke-width="3.8" stroke-linecap="butt"/>
<line x1="673.5" y1="479" x2="673.5" y2="532.7" stroke="#00ff00" stroke-width="3.8" stroke-linecap="butt"/>
<line x1="357" y1="565.8" x2="542" y2="565.8" stroke="#00ff00" stroke-width="3.8" stroke-linecap="round"/>
<line x1="558" y1="565.8" x2="696" y2="565.8" stroke="#00ff00" stroke-width="3.8" stroke-linecap="round"/>
<path d="M379.2,613.3 C384,606 390,601.3 397.9,601.3 L414.3,601.3 C421,603 428,609 433.8,615.5 C450,603 480,590 525.5,587.2 C565,589 600,603 619,616 C624,609 630,604.8 634.6,604.8 C640,602 645,601.3 648.4,601.3 C655,601.5 665,606 674.3,616" stroke="#00ff00" stroke-width="3.8" fill="none" />
<rect x="318.2" y="477.1" width="24.7" height="4.1" fill="#ffff00"/>
<rect x="318.2" y="526.3" width="24.7" height="3.9" fill="#ffff00"/>
<rect x="318.2" y="477.1" width="3.9" height="53.1" fill="#ffff00"/>
<rect x="338.8" y="477.1" width="4.1" height="13.5" fill="#ffff00"/>
<rect x="338.8" y="516" width="4.1" height="14.2" fill="#ffff00"/>
<circle cx="340.8" cy="490.6" r="2" fill="#ffff00"/>
<circle cx="340.8" cy="516" r="2" fill="#ffff00"/>
<line x1="322" y1="484.4" x2="338.8" y2="484.4" stroke="#ffff00" stroke-width="1.4" stroke-linecap="butt"/>
<line x1="322" y1="490.3" x2="338.8" y2="490.3" stroke="#ffff00" stroke-width="1.4" stroke-linecap="butt"/>
<line x1="322" y1="515.8" x2="338.8" y2="515.8" stroke="#ffff00" stroke-width="1.4" stroke-linecap="butt"/>
<line x1="322" y1="523.3" x2="338.8" y2="523.3" stroke="#ffff00" stroke-width="1.4" stroke-linecap="butt"/>
<rect x="711" y="479.1" width="22.1" height="49.2" stroke="#ffff00" stroke-width="4" fill="none"/>
<line x1="713" y1="484.4" x2="731" y2="484.4" stroke="#ffff00" stroke-width="1.4" stroke-linecap="butt"/>
<line x1="713" y1="490.6" x2="731" y2="490.6" stroke="#ffff00" stroke-width="1.4" stroke-linecap="butt"/>
<line x1="713" y1="516.5" x2="731" y2="516.5" stroke="#ffff00" stroke-width="1.4" stroke-linecap="butt"/>
<line x1="713" y1="523.3" x2="731" y2="523.3" stroke="#ffff00" stroke-width="1.4" stroke-linecap="butt"/>
<ellipse cx="330" cy="573" rx="15.5" ry="18" stroke="#ffff00" stroke-width="3" fill="none"/>
<ellipse cx="723" cy="572.8" rx="15.1" ry="18.1" stroke="#ffff00" stroke-width="3" fill="none"/>
<ellipse cx="411" cy="504.2" rx="15" ry="19.2" stroke="#ffff00" stroke-width="3" fill="none"/>
<ellipse cx="525" cy="504.2" rx="15" ry="19.2" stroke="#ffff00" stroke-width="3" fill="none"/>
<ellipse cx="643" cy="504.2" rx="15" ry="19.2" stroke="#ffff00" stroke-width="3" fill="none"/>
<line x1="263.1" y1="582" x2="304.5" y2="582" stroke="#ffff00" stroke-width="3.6" stroke-linecap="round"/>
<line x1="263.1" y1="586.8" x2="304.5" y2="586.8" stroke="#ffff00" stroke-width="3.6" stroke-linecap="round"/>
<line x1="267" y1="592.4" x2="304.5" y2="592.4" stroke="#ffff00" stroke-width="3.6" stroke-linecap="round"/>
<line x1="271.8" y1="597.9" x2="304.5" y2="597.9" stroke="#ffff00" stroke-width="3.6" stroke-linecap="round"/>
<line x1="276.4" y1="603.4" x2="304.5" y2="603.4" stroke="#ffff00" stroke-width="3.6" stroke-linecap="round"/>
<polyline points="263.1,581 263.1,587.3 267,588 267,592.9 271.8,593.6 271.8,598.4 276.4,599.1 276.4,603.9" stroke="#ffff00" stroke-width="3.6" fill="none" stroke-linejoin="round" stroke-linecap="butt"/>
<line x1="282" y1="603" x2="282" y2="666.4" stroke="#ffff00" stroke-width="3.4" stroke-linecap="butt"/>
<line x1="396.6" y1="614.7" x2="357" y2="614.7" stroke="#ffff00" stroke-width="3.6" stroke-linecap="round"/>
<line x1="396.6" y1="620.6" x2="357" y2="620.6" stroke="#ffff00" stroke-width="3.6" stroke-linecap="round"/>
<line x1="392.8" y1="625.7" x2="357" y2="625.7" stroke="#ffff00" stroke-width="3.6" stroke-linecap="round"/>
<line x1="388.9" y1="631" x2="357" y2="631" stroke="#ffff00" stroke-width="3.6" stroke-linecap="round"/>
<line x1="385" y1="636.8" x2="357" y2="636.8" stroke="#ffff00" stroke-width="3.6" stroke-linecap="round"/>
<polyline points="396.6,613.7 396.6,621.1 392.8,621.8 392.8,626.2 388.9,626.9 388.9,631.5 385,632.2 385,637.3" stroke="#ffff00" stroke-width="3.6" fill="none" stroke-linejoin="round" stroke-linecap="butt"/>
<line x1="379.2" y1="636.8" x2="379.2" y2="666.4" stroke="#ffff00" stroke-width="3.2" stroke-linecap="butt"/>
<line x1="655.4" y1="614.7" x2="696.8" y2="614.7" stroke="#ffff00" stroke-width="3.6" stroke-linecap="round"/>
<line x1="655.4" y1="620.2" x2="696.8" y2="620.2" stroke="#ffff00" stroke-width="3.6" stroke-linecap="round"/>
<line x1="659" y1="625.7" x2="696.8" y2="625.7" stroke="#ffff00" stroke-width="3.6" stroke-linecap="round"/>
<line x1="663.1" y1="631" x2="696.8" y2="631" stroke="#ffff00" stroke-width="3.6" stroke-linecap="round"/>
<line x1="667.4" y1="636.8" x2="696.8" y2="636.8" stroke="#ffff00" stroke-width="3.6" stroke-linecap="round"/>
<polyline points="655.4,613.7 655.4,620.7 659,621.4 659,626.2 663.1,626.9 663.1,631.5 667.4,632.2 667.4,637.3" stroke="#ffff00" stroke-width="3.6" fill="none" stroke-linejoin="round" stroke-linecap="butt"/>
<line x1="673" y1="636" x2="673" y2="666.5" stroke="#ffffff" stroke-width="3.6" stroke-linecap="butt"/>
<g transform="translate(158.32,50.5) scale(10.84,10.5)" fill="none" stroke="#ffffff" stroke-width="1.05" stroke-linejoin="round" stroke-linecap="round" style="vector-effect:non-scaling-stroke"><path transform="translate(0,0)" d="M0.22,0.2 L0.42,0 L0.42,1"/><path transform="translate(0.8,0)" d="M0.17,0 L0.43,0 L0.56,0.1 L0.6,0.3 L0.6,0.7 L0.56,0.9 L0.43,1 L0.17,1 L0.04,0.9 L0,0.7 L0,0.3 L0.04,0.1 Z"/><path transform="translate(1.66,0)" d="M0.08,0.88 L0.08,1"/><path transform="translate(2.08,0)" d="M0.02,0.2 Q0.08,0 0.3,0 Q0.58,0 0.58,0.26 Q0.58,0.42 0.42,0.56 L0,1 L0.6,1"/><path transform="translate(2.94,0)" d="M0.17,0 L0.43,0 L0.56,0.1 L0.6,0.3 L0.6,0.7 L0.56,0.9 L0.43,1 L0.17,1 L0.04,0.9 L0,0.7 L0,0.3 L0.04,0.1 Z"/><path transform="translate(3.8,0)" d="M0.17,0 L0.43,0 L0.56,0.1 L0.6,0.3 L0.6,0.7 L0.56,0.9 L0.43,1 L0.17,1 L0.04,0.9 L0,0.7 L0,0.3 L0.04,0.1 Z"/></g>
<line x1="159.7" y1="62.3" x2="198" y2="62.3" stroke="#ff00ff" stroke-width="1" stroke-linecap="butt"/>
<polyline points="159.7,62.3 168,68.2 176.3,62.3" stroke="#ff00ff" stroke-width="1" fill="none" stroke-linejoin="miter" stroke-linecap="butt"/>
<line x1="23.4" y1="65" x2="23.4" y2="235.2" stroke="#ffffff" stroke-width="1" stroke-linecap="butt"/>
<line x1="23.4" y1="235.2" x2="23.4" y2="548.7" stroke="#00ff00" stroke-width="1" stroke-linecap="butt"/>
<line x1="19.4" y1="68.2" x2="37.6" y2="68.2" stroke="#ffffff" stroke-width="1" stroke-linecap="butt"/>
<line x1="19.8" y1="64.6" x2="27" y2="71.8" stroke="#ff00ff" stroke-width="1.5" stroke-linecap="butt"/>
<line x1="18.8" y1="203.3" x2="37.6" y2="203.3" stroke="#ffffff" stroke-width="1" stroke-linecap="butt"/>
<line x1="19.8" y1="199.7" x2="27" y2="206.9" stroke="#ff00ff" stroke-width="1.5" stroke-linecap="butt"/>
<line x1="18.8" y1="213.5" x2="37.6" y2="213.5" stroke="#ffffff" stroke-width="1" stroke-linecap="butt"/>
<line x1="19.8" y1="209.9" x2="27" y2="217.1" stroke="#ff00ff" stroke-width="1.5" stroke-linecap="butt"/>
<line x1="18.8" y1="224.4" x2="37.6" y2="224.4" stroke="#ffffff" stroke-width="1" stroke-linecap="butt"/>
<line x1="19.8" y1="220.8" x2="27" y2="228" stroke="#ff00ff" stroke-width="1.5" stroke-linecap="butt"/>
<line x1="18.2" y1="235.2" x2="30" y2="235.2" stroke="#00ff00" stroke-width="1" stroke-linecap="butt"/>
<line x1="19.8" y1="231.6" x2="27" y2="238.8" stroke="#ff00ff" stroke-width="1.5" stroke-linecap="butt"/>
<line x1="18" y1="257.3" x2="37.6" y2="257.3" stroke="#00ff00" stroke-width="1" stroke-linecap="butt"/>
<line x1="19.8" y1="253.7" x2="27" y2="260.9" stroke="#ff00ff" stroke-width="1.5" stroke-linecap="butt"/>
<line x1="18" y1="262.2" x2="37.6" y2="262.2" stroke="#ffffff" stroke-width="1" stroke-linecap="butt"/>
<line x1="19.8" y1="258.6" x2="27" y2="265.8" stroke="#ff00ff" stroke-width="1.5" stroke-linecap="butt"/>
<line x1="18" y1="267.3" x2="37.6" y2="267.3" stroke="#00ff00" stroke-width="1" stroke-linecap="butt"/>
<line x1="19.8" y1="263.7" x2="27" y2="270.9" stroke="#ff00ff" stroke-width="1.5" stroke-linecap="butt"/>
<line x1="18" y1="284.2" x2="28.4" y2="284.2" stroke="#ffffff" stroke-width="1" stroke-linecap="butt"/>
<line x1="28.4" y1="284.2" x2="38.2" y2="284.2" stroke="#00ff00" stroke-width="1" stroke-linecap="butt"/>
<line x1="19.8" y1="280.6" x2="27" y2="287.8" stroke="#ff00ff" stroke-width="1.5" stroke-linecap="butt"/>
<line x1="18" y1="305.4" x2="28.4" y2="305.4" stroke="#ffffff" stroke-width="1" stroke-linecap="butt"/>
<line x1="28.4" y1="305.4" x2="38.2" y2="305.4" stroke="#00ff00" stroke-width="1" stroke-linecap="butt"/>
<line x1="19.8" y1="301.8" x2="27" y2="309" stroke="#ff00ff" stroke-width="1.5" stroke-linecap="butt"/>
<line x1="18" y1="360.4" x2="28.4" y2="360.4" stroke="#ffffff" stroke-width="1" stroke-linecap="butt"/>
<line x1="28.4" y1="360.4" x2="38.2" y2="360.4" stroke="#00ff00" stroke-width="1" stroke-linecap="butt"/>
<line x1="19.8" y1="356.8" x2="27" y2="364" stroke="#ff00ff" stroke-width="1.5" stroke-linecap="butt"/>
<line x1="18" y1="381.3" x2="28.4" y2="381.3" stroke="#ffffff" stroke-width="1" stroke-linecap="butt"/>
<line x1="28.4" y1="381.3" x2="38.2" y2="381.3" stroke="#00ff00" stroke-width="1" stroke-linecap="butt"/>
<line x1="19.8" y1="377.7" x2="27" y2="384.9" stroke="#ff00ff" stroke-width="1.5" stroke-linecap="butt"/>
<line x1="18" y1="397.2" x2="28.4" y2="397.2" stroke="#ffffff" stroke-width="1" stroke-linecap="butt"/>
<line x1="28.4" y1="397.2" x2="38.2" y2="397.2" stroke="#00ff00" stroke-width="1" stroke-linecap="butt"/>
<line x1="19.8" y1="393.6" x2="27" y2="400.8" stroke="#ff00ff" stroke-width="1.5" stroke-linecap="butt"/>
<line x1="18" y1="430.4" x2="28.4" y2="430.4" stroke="#ffffff" stroke-width="1" stroke-linecap="butt"/>
<line x1="28.4" y1="430.4" x2="38.2" y2="430.4" stroke="#00ff00" stroke-width="1" stroke-linecap="butt"/>
<line x1="19.8" y1="426.8" x2="27" y2="434" stroke="#ff00ff" stroke-width="1.5" stroke-linecap="butt"/>
<line x1="18" y1="488.7" x2="28.4" y2="488.7" stroke="#ffffff" stroke-width="1" stroke-linecap="butt"/>
<line x1="28.4" y1="488.7" x2="38.2" y2="488.7" stroke="#00ff00" stroke-width="1" stroke-linecap="butt"/>
<line x1="19.8" y1="485.1" x2="27" y2="492.3" stroke="#ff00ff" stroke-width="1.5" stroke-linecap="butt"/>
<line x1="18" y1="521.9" x2="28.4" y2="521.9" stroke="#ffffff" stroke-width="1" stroke-linecap="butt"/>
<line x1="28.4" y1="521.9" x2="38.2" y2="521.9" stroke="#00ff00" stroke-width="1" stroke-linecap="butt"/>
<line x1="19.8" y1="518.3" x2="27" y2="525.5" stroke="#ff00ff" stroke-width="1.5" stroke-linecap="butt"/>
<line x1="18" y1="544.4" x2="28.4" y2="544.4" stroke="#ffffff" stroke-width="1" stroke-linecap="butt"/>
<line x1="28.4" y1="544.4" x2="38.2" y2="544.4" stroke="#00ff00" stroke-width="1" stroke-linecap="butt"/>
<line x1="19.8" y1="540.8" x2="27" y2="548" stroke="#ff00ff" stroke-width="1.5" stroke-linecap="butt"/>
<g transform="translate(12.4,149) rotate(-90) translate(-2.35,0) scale(10.69,10.4)" fill="none" stroke="#ffffff" stroke-width="1.05" stroke-linejoin="round" stroke-linecap="round" style="vector-effect:non-scaling-stroke"><path transform="translate(0,0)" d="M0.22,0.2 L0.42,0 L0.42,1"/><path transform="translate(0.8,0)" d="M0.46,1 L0.46,0 L0,0.7 L0.62,0.7"/><path transform="translate(1.66,0)" d="M0.3,0.45 L0.16,0.45 Q0.05,0.45 0.05,0.3 L0.05,0.15 Q0.05,0 0.2,0 L0.4,0 Q0.55,0 0.55,0.15 L0.55,0.3 Q0.55,0.45 0.4,0.45 L0.2,0.45 Q0,0.45 0,0.62 L0,0.82 Q0,1 0.18,1 L0.42,1 Q0.6,1 0.6,0.82 L0.6,0.62 Q0.6,0.45 0.4,0.45"/><path transform="translate(2.52,0)" d="M0.57,0 L0.08,0 L0.03,0.44 Q0.14,0.37 0.3,0.37 Q0.6,0.37 0.6,0.68 Q0.6,1 0.3,1 Q0.1,1 0,0.87"/></g>
<g transform="translate(6.5,227.6) rotate(-90) translate(-2.22,0) scale(10.1,8.2)" fill="none" stroke="#ffffff" stroke-width="1.05" stroke-linejoin="round" stroke-linecap="round" style="vector-effect:non-scaling-stroke"><path transform="translate(0,0)" d="M0.22,0.2 L0.42,0 L0.42,1"/><path transform="translate(0.8,0)" d="M0.02,0.2 Q0.08,0 0.3,0 Q0.58,0 0.58,0.26 Q0.58,0.42 0.42,0.56 L0,1 L0.6,1"/><path transform="translate(1.66,0)" d="M0.17,0 L0.43,0 L0.56,0.1 L0.6,0.3 L0.6,0.7 L0.56,0.9 L0.43,1 L0.17,1 L0.04,0.9 L0,0.7 L0,0.3 L0.04,0.1 Z"/></g>
<line x1="15.9" y1="207.6" x2="15.9" y2="226.4" stroke="#ffffff" stroke-width="1" stroke-linecap="butt"/>
<line x1="15.9" y1="226.4" x2="23.4" y2="218" stroke="#ffffff" stroke-width="1" stroke-linecap="butt"/>
<g transform="translate(31.7,254.6) rotate(-90) translate(-0,0) scale(10.17,9.3)" fill="none" stroke="#ffffff" stroke-width="1.05" stroke-linejoin="round" stroke-linecap="round" style="vector-effect:non-scaling-stroke"><path transform="translate(0,0)" d="M0.02,0.2 Q0.08,0 0.3,0 Q0.58,0 0.58,0.26 Q0.58,0.42 0.42,0.56 L0,1 L0.6,1"/><path transform="translate(0.86,0)" d="M0.46,1 L0.46,0 L0,0.7 L0.62,0.7"/><path transform="translate(1.72,0)" d="M0.17,0 L0.43,0 L0.56,0.1 L0.6,0.3 L0.6,0.7 L0.56,0.9 L0.43,1 L0.17,1 L0.04,0.9 L0,0.7 L0,0.3 L0.04,0.1 Z"/></g>
<g transform="translate(4.1,280.4) rotate(-90) translate(-0,0) scale(10.35,10.6)" fill="none" stroke="#ffffff" stroke-width="1.05" stroke-linejoin="round" stroke-linecap="round" style="vector-effect:non-scaling-stroke"><path transform="translate(0,0)" d="M0.3,0.45 L0.16,0.45 Q0.05,0.45 0.05,0.3 L0.05,0.15 Q0.05,0 0.2,0 L0.4,0 Q0.55,0 0.55,0.15 L0.55,0.3 Q0.55,0.45 0.4,0.45 L0.2,0.45 Q0,0.45 0,0.62 L0,0.82 Q0,1 0.18,1 L0.42,1 Q0.6,1 0.6,0.82 L0.6,0.62 Q0.6,0.45 0.4,0.45"/><path transform="translate(0.86,0)" d="M0.17,0 L0.43,0 L0.56,0.1 L0.6,0.3 L0.6,0.7 L0.56,0.9 L0.43,1 L0.17,1 L0.04,0.9 L0,0.7 L0,0.3 L0.04,0.1 Z"/><path transform="translate(1.72,0)" d="M0.56,0.12 Q0.46,0 0.3,0 Q0,0 0,0.42 L0,0.68 Q0,1 0.3,1 Q0.6,1 0.6,0.68 Q0.6,0.4 0.3,0.4 Q0.06,0.4 0,0.62"/><path transform="translate(2.58,0)" d="M0.17,0 L0.43,0 L0.56,0.1 L0.6,0.3 L0.6,0.7 L0.56,0.9 L0.43,1 L0.17,1 L0.04,0.9 L0,0.7 L0,0.3 L0.04,0.1 Z"/></g>
<line x1="14.2" y1="248.7" x2="14.2" y2="261.6" stroke="#ffffff" stroke-width="1" stroke-linecap="butt"/>
<line x1="14.2" y1="261.6" x2="21" y2="257" stroke="#ffffff" stroke-width="1" stroke-linecap="butt"/>
<g transform="translate(5.2,308.4) rotate(-90) translate(-0,0) scale(11.38,9.8)" fill="none" stroke="#ffffff" stroke-width="1.05" stroke-linejoin="round" stroke-linecap="round" style="vector-effect:non-scaling-stroke"><path transform="translate(0,0)" d="M0.02,0.2 Q0.08,0 0.3,0 Q0.58,0 0.58,0.26 Q0.58,0.42 0.42,0.56 L0,1 L0.6,1"/><path transform="translate(0.86,0)" d="M0.46,1 L0.46,0 L0,0.7 L0.62,0.7"/><path transform="translate(1.72,0)" d="M0.17,0 L0.43,0 L0.56,0.1 L0.6,0.3 L0.6,0.7 L0.56,0.9 L0.43,1 L0.17,1 L0.04,0.9 L0,0.7 L0,0.3 L0.04,0.1 Z"/></g>
<g transform="translate(11.2,342) rotate(-90) translate(-0,0) scale(9.91,9.8)" fill="none" stroke="#ffffff" stroke-width="1.05" stroke-linejoin="round" stroke-linecap="round" style="vector-effect:non-scaling-stroke"><path transform="translate(0,0)" d="M0.56,0.12 Q0.46,0 0.3,0 Q0,0 0,0.42 L0,0.68 Q0,1 0.3,1 Q0.6,1 0.6,0.68 Q0.6,0.4 0.3,0.4 Q0.06,0.4 0,0.62"/><path transform="translate(0.86,0)" d="M0.17,0 L0.43,0 L0.56,0.1 L0.6,0.3 L0.6,0.7 L0.56,0.9 L0.43,1 L0.17,1 L0.04,0.9 L0,0.7 L0,0.3 L0.04,0.1 Z"/><path transform="translate(1.72,0)" d="M0.17,0 L0.43,0 L0.56,0.1 L0.6,0.3 L0.6,0.7 L0.56,0.9 L0.43,1 L0.17,1 L0.04,0.9 L0,0.7 L0,0.3 L0.04,0.1 Z"/></g>
<g transform="translate(6.7,377) rotate(-90) translate(-0,0) scale(9.91,9)" fill="none" stroke="#ffffff" stroke-width="1.05" stroke-linejoin="round" stroke-linecap="round" style="vector-effect:non-scaling-stroke"><path transform="translate(0,0)" d="M0.02,0.2 Q0.08,0 0.3,0 Q0.58,0 0.58,0.26 Q0.58,0.42 0.42,0.56 L0,1 L0.6,1"/><path transform="translate(0.86,0)" d="M0.46,1 L0.46,0 L0,0.7 L0.62,0.7"/><path transform="translate(1.72,0)" d="M0.17,0 L0.43,0 L0.56,0.1 L0.6,0.3 L0.6,0.7 L0.56,0.9 L0.43,1 L0.17,1 L0.04,0.9 L0,0.7 L0,0.3 L0.04,0.1 Z"/></g>
<g transform="translate(6.7,393.7) rotate(-90) translate(-1.75,0) scale(7.94,9)" fill="none" stroke="#ffffff" stroke-width="1.05" stroke-linejoin="round" stroke-linecap="round" style="vector-effect:non-scaling-stroke"><path transform="translate(0,0)" d="M0.22,0.2 L0.42,0 L0.42,1"/><path transform="translate(0.8,0)" d="M0.3,0.45 L0.16,0.45 Q0.05,0.45 0.05,0.3 L0.05,0.15 Q0.05,0 0.2,0 L0.4,0 Q0.55,0 0.55,0.15 L0.55,0.3 Q0.55,0.45 0.4,0.45 L0.2,0.45 Q0,0.45 0,0.62 L0,0.82 Q0,1 0.18,1 L0.42,1 Q0.6,1 0.6,0.82 L0.6,0.62 Q0.6,0.45 0.4,0.45"/><path transform="translate(1.66,0)" d="M0.17,0 L0.43,0 L0.56,0.1 L0.6,0.3 L0.6,0.7 L0.56,0.9 L0.43,1 L0.17,1 L0.04,0.9 L0,0.7 L0,0.3 L0.04,0.1 Z"/></g>
<g transform="translate(12,424.2) rotate(-90) translate(-0,0) scale(10.6,9.4)" fill="none" stroke="#ffffff" stroke-width="1.05" stroke-linejoin="round" stroke-linecap="round" style="vector-effect:non-scaling-stroke"><path transform="translate(0,0)" d="M0.03,0.12 Q0.13,0 0.3,0 Q0.57,0 0.57,0.24 Q0.57,0.46 0.28,0.46 Q0.6,0.46 0.6,0.72 Q0.6,1 0.3,1 Q0.1,1 0,0.86"/><path transform="translate(0.86,0)" d="M0.56,0.12 Q0.46,0 0.3,0 Q0,0 0,0.42 L0,0.68 Q0,1 0.3,1 Q0.6,1 0.6,0.68 Q0.6,0.4 0.3,0.4 Q0.06,0.4 0,0.62"/><path transform="translate(1.72,0)" d="M0.17,0 L0.43,0 L0.56,0.1 L0.6,0.3 L0.6,0.7 L0.56,0.9 L0.43,1 L0.17,1 L0.04,0.9 L0,0.7 L0,0.3 L0.04,0.1 Z"/></g>
<g transform="translate(11,470) rotate(-90) translate(-0,0) scale(10.34,10.4)" fill="none" stroke="#ffffff" stroke-width="1.05" stroke-linejoin="round" stroke-linecap="round" style="vector-effect:non-scaling-stroke"><path transform="translate(0,0)" d="M0.56,0.12 Q0.46,0 0.3,0 Q0,0 0,0.42 L0,0.68 Q0,1 0.3,1 Q0.6,1 0.6,0.68 Q0.6,0.4 0.3,0.4 Q0.06,0.4 0,0.62"/><path transform="translate(0.86,0)" d="M0.56,0.12 Q0.46,0 0.3,0 Q0,0 0,0.42 L0,0.68 Q0,1 0.3,1 Q0.6,1 0.6,0.68 Q0.6,0.4 0.3,0.4 Q0.06,0.4 0,0.62"/><path transform="translate(1.72,0)" d="M0.17,0 L0.43,0 L0.56,0.1 L0.6,0.3 L0.6,0.7 L0.56,0.9 L0.43,1 L0.17,1 L0.04,0.9 L0,0.7 L0,0.3 L0.04,0.1 Z"/></g>
<g transform="translate(11,513.7) rotate(-90) translate(-0,0) scale(10.34,10.4)" fill="none" stroke="#ffffff" stroke-width="1.05" stroke-linejoin="round" stroke-linecap="round" style="vector-effect:non-scaling-stroke"><path transform="translate(0,0)" d="M0.03,0.12 Q0.13,0 0.3,0 Q0.57,0 0.57,0.24 Q0.57,0.46 0.28,0.46 Q0.6,0.46 0.6,0.72 Q0.6,1 0.3,1 Q0.1,1 0,0.86"/><path transform="translate(0.86,0)" d="M0.56,0.12 Q0.46,0 0.3,0 Q0,0 0,0.42 L0,0.68 Q0,1 0.3,1 Q0.6,1 0.6,0.68 Q0.6,0.4 0.3,0.4 Q0.06,0.4 0,0.62"/><path transform="translate(1.72,0)" d="M0.17,0 L0.43,0 L0.56,0.1 L0.6,0.3 L0.6,0.7 L0.56,0.9 L0.43,1 L0.17,1 L0.04,0.9 L0,0.7 L0,0.3 L0.04,0.1 Z"/></g>
<g transform="translate(8.5,542.7) rotate(-90) translate(-0,0) scale(11.08,9.5)" fill="none" stroke="#ffffff" stroke-width="1.05" stroke-linejoin="round" stroke-linecap="round" style="vector-effect:non-scaling-stroke"><path transform="translate(0,0)" d="M0.02,0.2 Q0.08,0 0.3,0 Q0.58,0 0.58,0.26 Q0.58,0.42 0.42,0.56 L0,1 L0.6,1"/><path transform="translate(0.86,0)" d="M0.57,0 L0.08,0 L0.03,0.44 Q0.14,0.37 0.3,0.37 Q0.6,0.37 0.6,0.68 Q0.6,1 0.3,1 Q0.1,1 0,0.87"/><path transform="translate(1.72,0)" d="M0.17,0 L0.43,0 L0.56,0.1 L0.6,0.3 L0.6,0.7 L0.56,0.9 L0.43,1 L0.17,1 L0.04,0.9 L0,0.7 L0,0.3 L0.04,0.1 Z"/></g>
<line x1="40.4" y1="327.6" x2="361" y2="327.6" stroke="#ffffff" stroke-width="1" stroke-linecap="butt"/>
<line x1="44.4" y1="304.7" x2="44.4" y2="330" stroke="#ffffff" stroke-width="1" stroke-linecap="butt"/>
<line x1="40.8" y1="331.2" x2="48" y2="324" stroke="#ff00ff" stroke-width="1.5" stroke-linecap="butt"/>
<line x1="202.4" y1="331.2" x2="209.6" y2="324" stroke="#ff00ff" stroke-width="1.5" stroke-linecap="butt"/>
<line x1="224.4" y1="331.2" x2="231.6" y2="324" stroke="#ff00ff" stroke-width="1.5" stroke-linecap="butt"/>
<line x1="353.7" y1="331.2" x2="360.9" y2="324" stroke="#ff00ff" stroke-width="1.5" stroke-linecap="butt"/>
<line x1="206" y1="304" x2="206" y2="330" stroke="#ffffff" stroke-width="1" stroke-linecap="butt"/>
<line x1="228" y1="322" x2="228" y2="332" stroke="#ffffff" stroke-width="1" stroke-linecap="butt"/>
<g transform="translate(107.53,316) scale(11.24,10)" fill="none" stroke="#ffffff" stroke-width="1.05" stroke-linejoin="round" stroke-linecap="round" style="vector-effect:non-scaling-stroke"><path transform="translate(0,0)" d="M0.22,0.2 L0.42,0 L0.42,1"/><path transform="translate(0.8,0)" d="M0,0 L0.6,0 L0.18,1"/><path transform="translate(1.66,0)" d="M0.6,0.34 Q0.56,0.58 0.3,0.58 Q0,0.58 0,0.3 Q0,0 0.3,0 Q0.6,0 0.6,0.34 L0.6,0.58 Q0.6,1 0.3,1 Q0.12,1 0.04,0.9"/><path transform="translate(2.52,0)" d="M0.17,0 L0.43,0 L0.56,0.1 L0.6,0.3 L0.6,0.7 L0.56,0.9 L0.43,1 L0.17,1 L0.04,0.9 L0,0.7 L0,0.3 L0.04,0.1 Z"/></g>
<g transform="translate(211,312) scale(10.34,10)" fill="none" stroke="#ffffff" stroke-width="1.05" stroke-linejoin="round" stroke-linecap="round" style="vector-effect:non-scaling-stroke"><path transform="translate(0,0)" d="M0.02,0.2 Q0.08,0 0.3,0 Q0.58,0 0.58,0.26 Q0.58,0.42 0.42,0.56 L0,1 L0.6,1"/><path transform="translate(0.86,0)" d="M0.46,1 L0.46,0 L0,0.7 L0.62,0.7"/><path transform="translate(1.72,0)" d="M0.17,0 L0.43,0 L0.56,0.1 L0.6,0.3 L0.6,0.7 L0.56,0.9 L0.43,1 L0.17,1 L0.04,0.9 L0,0.7 L0,0.3 L0.04,0.1 Z"/></g>
<g transform="translate(275.5,313.7) scale(11.38,10)" fill="none" stroke="#ffffff" stroke-width="1.05" stroke-linejoin="round" stroke-linecap="round" style="vector-effect:non-scaling-stroke"><path transform="translate(0,0)" d="M0.22,0.2 L0.42,0 L0.42,1"/><path transform="translate(0.8,0)" d="M0.46,1 L0.46,0 L0,0.7 L0.62,0.7"/><path transform="translate(1.66,0)" d="M0.46,1 L0.46,0 L0,0.7 L0.62,0.7"/><path transform="translate(2.52,0)" d="M0.17,0 L0.43,0 L0.56,0.1 L0.6,0.3 L0.6,0.7 L0.56,0.9 L0.43,1 L0.17,1 L0.04,0.9 L0,0.7 L0,0.3 L0.04,0.1 Z"/></g>
<line x1="348.3" y1="295.6" x2="444.7" y2="295.6" stroke="#ffffff" stroke-width="1" stroke-linecap="butt"/>
<g transform="translate(366.2,285.4) scale(10.9,8.9)" fill="none" stroke="#ffffff" stroke-width="1.05" stroke-linejoin="round" stroke-linecap="round" style="vector-effect:non-scaling-stroke"><path transform="translate(0,0)" d="M0.22,0.2 L0.42,0 L0.42,1"/><path transform="translate(0.8,0)" d="M0.56,0.12 Q0.46,0 0.3,0 Q0,0 0,0.42 L0,0.68 Q0,1 0.3,1 Q0.6,1 0.6,0.68 Q0.6,0.4 0.3,0.4 Q0.06,0.4 0,0.62"/><path transform="translate(1.66,0)" d="M0.17,0 L0.43,0 L0.56,0.1 L0.6,0.3 L0.6,0.7 L0.56,0.9 L0.43,1 L0.17,1 L0.04,0.9 L0,0.7 L0,0.3 L0.04,0.1 Z"/><path transform="translate(2.52,0)" d="M0.17,0 L0.43,0 L0.56,0.1 L0.6,0.3 L0.6,0.7 L0.56,0.9 L0.43,1 L0.17,1 L0.04,0.9 L0,0.7 L0,0.3 L0.04,0.1 Z"/></g>
<line x1="351.6" y1="285" x2="351.6" y2="296" stroke="#ffffff" stroke-width="1" stroke-linecap="butt"/>
<line x1="353.4" y1="285" x2="353.4" y2="296" stroke="#ffffff" stroke-width="1" stroke-linecap="butt"/>
<line x1="351.4" y1="299.2" x2="358.6" y2="292" stroke="#ff00ff" stroke-width="1.5" stroke-linecap="butt"/>
<line x1="355.4" y1="299.2" x2="362.6" y2="292" stroke="#ff00ff" stroke-width="1.5" stroke-linecap="butt"/>
<line x1="408" y1="299.2" x2="415.2" y2="292" stroke="#ff00ff" stroke-width="1.5" stroke-linecap="butt"/>
<line x1="412.4" y1="299.2" x2="419.6" y2="292" stroke="#ff00ff" stroke-width="1.5" stroke-linecap="butt"/>
<line x1="416.4" y1="299.2" x2="423.6" y2="292" stroke="#ff00ff" stroke-width="1.5" stroke-linecap="butt"/>
<line x1="420.4" y1="299.2" x2="427.6" y2="292" stroke="#ff00ff" stroke-width="1.5" stroke-linecap="butt"/>
<line x1="424.4" y1="299.2" x2="431.6" y2="292" stroke="#ff00ff" stroke-width="1.5" stroke-linecap="butt"/>
<line x1="428.4" y1="299.2" x2="435.6" y2="292" stroke="#ff00ff" stroke-width="1.5" stroke-linecap="butt"/>
<line x1="416" y1="286" x2="416" y2="296" stroke="#ffffff" stroke-width="0.8" stroke-linecap="butt"/>
<line x1="420" y1="286" x2="420" y2="296" stroke="#ffffff" stroke-width="0.8" stroke-linecap="butt"/>
<line x1="424" y1="286" x2="424" y2="296" stroke="#ffffff" stroke-width="0.8" stroke-linecap="butt"/>
<line x1="428" y1="286" x2="428" y2="296" stroke="#ffffff" stroke-width="0.8" stroke-linecap="butt"/>
<line x1="432" y1="286" x2="432" y2="296" stroke="#ffffff" stroke-width="0.8" stroke-linecap="butt"/>
<g transform="translate(334.6,300) scale(10.55,9.7)" fill="none" stroke="#ffffff" stroke-width="1.05" stroke-linejoin="round" stroke-linecap="round" style="vector-effect:non-scaling-stroke"><path transform="translate(0,0)" d="M0.02,0.2 Q0.08,0 0.3,0 Q0.58,0 0.58,0.26 Q0.58,0.42 0.42,0.56 L0,1 L0.6,1"/><path transform="translate(0.86,0)" d="M0.17,0 L0.43,0 L0.56,0.1 L0.6,0.3 L0.6,0.7 L0.56,0.9 L0.43,1 L0.17,1 L0.04,0.9 L0,0.7 L0,0.3 L0.04,0.1 Z"/></g>
<line x1="333" y1="311.3" x2="350.8" y2="311.3" stroke="#ffffff" stroke-width="1" stroke-linecap="butt"/>
<g transform="translate(334.6,313.7) scale(10.55,9.7)" fill="none" stroke="#ffffff" stroke-width="1.05" stroke-linejoin="round" stroke-linecap="round" style="vector-effect:non-scaling-stroke"><path transform="translate(0,0)" d="M0.46,1 L0.46,0 L0,0.7 L0.62,0.7"/><path transform="translate(0.86,0)" d="M0.17,0 L0.43,0 L0.56,0.1 L0.6,0.3 L0.6,0.7 L0.56,0.9 L0.43,1 L0.17,1 L0.04,0.9 L0,0.7 L0,0.3 L0.04,0.1 Z"/></g>
<line x1="333" y1="324.2" x2="350.8" y2="324.2" stroke="#ffffff" stroke-width="1" stroke-linecap="butt"/>
<line x1="350" y1="323.4" x2="354.8" y2="300" stroke="#ffffff" stroke-width="1" stroke-linecap="butt"/>
<line x1="352" y1="324" x2="356" y2="302" stroke="#ffffff" stroke-width="1" stroke-linecap="butt"/>
<g transform="translate(393.7,300) scale(10.48,9.7)" fill="none" stroke="#ffffff" stroke-width="1.05" stroke-linejoin="round" stroke-linecap="round" style="vector-effect:non-scaling-stroke"><path transform="translate(0,0)" d="M0.46,1 L0.46,0 L0,0.7 L0.62,0.7"/><path transform="translate(0.86,0)" d="M0.17,0 L0.43,0 L0.56,0.1 L0.6,0.3 L0.6,0.7 L0.56,0.9 L0.43,1 L0.17,1 L0.04,0.9 L0,0.7 L0,0.3 L0.04,0.1 Z"/></g>
<line x1="393" y1="311.3" x2="410" y2="311.3" stroke="#ffffff" stroke-width="1" stroke-linecap="butt"/>
<g transform="translate(393.7,313.7) scale(10.48,9.7)" fill="none" stroke="#ffffff" stroke-width="1.05" stroke-linejoin="round" stroke-linecap="round" style="vector-effect:non-scaling-stroke"><path transform="translate(0,0)" d="M0.02,0.2 Q0.08,0 0.3,0 Q0.58,0 0.58,0.26 Q0.58,0.42 0.42,0.56 L0,1 L0.6,1"/><path transform="translate(0.86,0)" d="M0.17,0 L0.43,0 L0.56,0.1 L0.6,0.3 L0.6,0.7 L0.56,0.9 L0.43,1 L0.17,1 L0.04,0.9 L0,0.7 L0,0.3 L0.04,0.1 Z"/></g>
<line x1="393" y1="324.2" x2="410" y2="324.2" stroke="#ffffff" stroke-width="1" stroke-linecap="butt"/>
<line x1="410" y1="323.4" x2="415" y2="298" stroke="#ffffff" stroke-width="1" stroke-linecap="butt"/>
<line x1="412" y1="323.4" x2="418" y2="296" stroke="#ffffff" stroke-width="1" stroke-linecap="butt"/>
<line x1="320" y1="327.5" x2="363" y2="327.5" stroke="#ffffff" stroke-width="1" stroke-linecap="butt"/>
<line x1="353.7" y1="331.1" x2="360.9" y2="323.9" stroke="#ff00ff" stroke-width="1.5" stroke-linecap="butt"/>
<g transform="translate(432.6,270.8) scale(11.64,8.9)" fill="none" stroke="#ffffff" stroke-width="1.05" stroke-linejoin="round" stroke-linecap="round" style="vector-effect:non-scaling-stroke"><path transform="translate(0,0)" d="M0.56,0.12 Q0.46,0 0.3,0 Q0,0 0,0.42 L0,0.68 Q0,1 0.3,1 Q0.6,1 0.6,0.68 Q0.6,0.4 0.3,0.4 Q0.06,0.4 0,0.62"/><path transform="translate(0.86,0)" d="M0.17,0 L0.43,0 L0.56,0.1 L0.6,0.3 L0.6,0.7 L0.56,0.9 L0.43,1 L0.17,1 L0.04,0.9 L0,0.7 L0,0.3 L0.04,0.1 Z"/></g>
<line x1="431.8" y1="280.2" x2="449.6" y2="280.2" stroke="#ffffff" stroke-width="1" stroke-linecap="butt"/>
<line x1="431.8" y1="281" x2="420" y2="295.6" stroke="#ffffff" stroke-width="0.8" stroke-linecap="butt"/>
<line x1="431.8" y1="281" x2="424" y2="295.6" stroke="#ffffff" stroke-width="0.8" stroke-linecap="butt"/>
<line x1="431.8" y1="281" x2="428" y2="295.6" stroke="#ffffff" stroke-width="0.8" stroke-linecap="butt"/>
<line x1="431.8" y1="281" x2="432" y2="295.6" stroke="#ffffff" stroke-width="0.8" stroke-linecap="butt"/>
<g transform="translate(440,255.4) scale(10.78,9.6)" fill="none" stroke="#ffffff" stroke-width="1.05" stroke-linejoin="round" stroke-linecap="round" style="vector-effect:non-scaling-stroke"><path transform="translate(0,0)" d="M0.02,0.2 Q0.08,0 0.3,0 Q0.58,0 0.58,0.26 Q0.58,0.42 0.42,0.56 L0,1 L0.6,1"/><path transform="translate(0.86,0)" d="M0.46,1 L0.46,0 L0,0.7 L0.62,0.7"/><path transform="translate(1.72,0)" d="M0.17,0 L0.43,0 L0.56,0.1 L0.6,0.3 L0.6,0.7 L0.56,0.9 L0.43,1 L0.17,1 L0.04,0.9 L0,0.7 L0,0.3 L0.04,0.1 Z"/></g>
<line x1="433.4" y1="247.3" x2="503.7" y2="247.3" stroke="#ffffff" stroke-width="1" stroke-linecap="butt"/>
<line x1="435.4" y1="252.2" x2="442.6" y2="245" stroke="#ff00ff" stroke-width="1.5" stroke-linecap="butt"/>
<line x1="456.9" y1="252.2" x2="464.1" y2="245" stroke="#ff00ff" stroke-width="1.5" stroke-linecap="butt"/>
<line x1="467.7" y1="252.2" x2="474.9" y2="245" stroke="#ff00ff" stroke-width="1.5" stroke-linecap="butt"/>
<line x1="478.4" y1="252.2" x2="485.6" y2="245" stroke="#ff00ff" stroke-width="1.5" stroke-linecap="butt"/>
<line x1="495.2" y1="252.2" x2="502.4" y2="245" stroke="#ff00ff" stroke-width="1.5" stroke-linecap="butt"/>
<line x1="460.5" y1="238.8" x2="460.5" y2="252.9" stroke="#ffffff" stroke-width="1" stroke-linecap="butt"/>
<line x1="471.3" y1="238.8" x2="471.3" y2="252.9" stroke="#ffffff" stroke-width="1" stroke-linecap="butt"/>
<line x1="482" y1="238.8" x2="482" y2="252.9" stroke="#ffffff" stroke-width="1" stroke-linecap="butt"/>
<line x1="498.8" y1="238.8" x2="498.8" y2="252.9" stroke="#ffffff" stroke-width="1" stroke-linecap="butt"/>
<g transform="translate(461.8,228) scale(11.37,9.8)" fill="none" stroke="#ffffff" stroke-width="1.05" stroke-linejoin="round" stroke-linecap="round" style="vector-effect:non-scaling-stroke"><path transform="translate(0,0)" d="M0.22,0.2 L0.42,0 L0.42,1"/><path transform="translate(0.8,0)" d="M0.02,0.2 Q0.08,0 0.3,0 Q0.58,0 0.58,0.26 Q0.58,0.42 0.42,0.56 L0,1 L0.6,1"/><path transform="translate(1.66,0)" d="M0.17,0 L0.43,0 L0.56,0.1 L0.6,0.3 L0.6,0.7 L0.56,0.9 L0.43,1 L0.17,1 L0.04,0.9 L0,0.7 L0,0.3 L0.04,0.1 Z"/></g>
<g transform="translate(454.52,264) scale(11.27,10.4)" fill="none" stroke="#ffffff" stroke-width="1.05" stroke-linejoin="round" stroke-linecap="round" style="vector-effect:non-scaling-stroke"><path transform="translate(0,0)" d="M0.22,0.2 L0.42,0 L0.42,1"/><path transform="translate(0.8,0)" d="M0.02,0.2 Q0.08,0 0.3,0 Q0.58,0 0.58,0.26 Q0.58,0.42 0.42,0.56 L0,1 L0.6,1"/><path transform="translate(1.66,0)" d="M0.17,0 L0.43,0 L0.56,0.1 L0.6,0.3 L0.6,0.7 L0.56,0.9 L0.43,1 L0.17,1 L0.04,0.9 L0,0.7 L0,0.3 L0.04,0.1 Z"/></g>
<g transform="translate(477.47,255) scale(11.52,10)" fill="none" stroke="#ffffff" stroke-width="1.05" stroke-linejoin="round" stroke-linecap="round" style="vector-effect:non-scaling-stroke"><path transform="translate(0,0)" d="M0.22,0.2 L0.42,0 L0.42,1"/><path transform="translate(0.8,0)" d="M0.3,0.45 L0.16,0.45 Q0.05,0.45 0.05,0.3 L0.05,0.15 Q0.05,0 0.2,0 L0.4,0 Q0.55,0 0.55,0.15 L0.55,0.3 Q0.55,0.45 0.4,0.45 L0.2,0.45 Q0,0.45 0,0.62 L0,0.82 Q0,1 0.18,1 L0.42,1 Q0.6,1 0.6,0.82 L0.6,0.62 Q0.6,0.45 0.4,0.45"/><path transform="translate(1.66,0)" d="M0.17,0 L0.43,0 L0.56,0.1 L0.6,0.3 L0.6,0.7 L0.56,0.9 L0.43,1 L0.17,1 L0.04,0.9 L0,0.7 L0,0.3 L0.04,0.1 Z"/></g>
<g transform="translate(503.6,106.3) scale(8.91,10.2)" fill="none" stroke="#00ff00" stroke-width="1.05" stroke-linejoin="round" stroke-linecap="round" style="vector-effect:non-scaling-stroke"><path transform="translate(0,0)" d="M0.3,0.45 L0.16,0.45 Q0.05,0.45 0.05,0.3 L0.05,0.15 Q0.05,0 0.2,0 L0.4,0 Q0.55,0 0.55,0.15 L0.55,0.3 Q0.55,0.45 0.4,0.45 L0.2,0.45 Q0,0.45 0,0.62 L0,0.82 Q0,1 0.18,1 L0.42,1 Q0.6,1 0.6,0.82 L0.6,0.62 Q0.6,0.45 0.4,0.45"/><path transform="translate(0.86,0)" d="M0.17,0 L0.43,0 L0.56,0.1 L0.6,0.3 L0.6,0.7 L0.56,0.9 L0.43,1 L0.17,1 L0.04,0.9 L0,0.7 L0,0.3 L0.04,0.1 Z"/><path transform="translate(1.72,0)" d="M0.02,0.2 Q0.08,0 0.3,0 Q0.58,0 0.58,0.25 Q0.58,0.42 0.3,0.56 L0.3,0.74 M0.3,0.9 L0.3,1"/><path transform="translate(2.58,0)" d="M0.3,0.45 L0.16,0.45 Q0.05,0.45 0.05,0.3 L0.05,0.15 Q0.05,0 0.2,0 L0.4,0 Q0.55,0 0.55,0.15 L0.55,0.3 Q0.55,0.45 0.4,0.45 L0.2,0.45 Q0,0.45 0,0.62 L0,0.82 Q0,1 0.18,1 L0.42,1 Q0.6,1 0.6,0.82 L0.6,0.62 Q0.6,0.45 0.4,0.45"/><path transform="translate(3.44,0)" d="M0.17,0 L0.43,0 L0.56,0.1 L0.6,0.3 L0.6,0.7 L0.56,0.9 L0.43,1 L0.17,1 L0.04,0.9 L0,0.7 L0,0.3 L0.04,0.1 Z"/><path transform="translate(4.3,0)" d="M0.02,0.2 Q0.08,0 0.3,0 Q0.58,0 0.58,0.25 Q0.58,0.42 0.3,0.56 L0.3,0.74 M0.3,0.9 L0.3,1"/><path transform="translate(5.16,0)" d="M0.02,0.2 Q0.08,0 0.3,0 Q0.58,0 0.58,0.25 Q0.58,0.42 0.3,0.56 L0.3,0.74 M0.3,0.9 L0.3,1"/><path transform="translate(6.02,0)" d="M0.02,0.2 Q0.08,0 0.3,0 Q0.58,0 0.58,0.25 Q0.58,0.42 0.3,0.56 L0.3,0.74 M0.3,0.9 L0.3,1"/><path transform="translate(6.88,0)" d="M0.02,0.2 Q0.08,0 0.3,0 Q0.58,0 0.58,0.25 Q0.58,0.42 0.3,0.56 L0.3,0.74 M0.3,0.9 L0.3,1"/><path transform="translate(7.74,0)" d="M0.02,0.2 Q0.08,0 0.3,0 Q0.58,0 0.58,0.25 Q0.58,0.42 0.3,0.56 L0.3,0.74 M0.3,0.9 L0.3,1"/><path transform="translate(8.6,0)" d="M0.02,0.2 Q0.08,0 0.3,0 Q0.58,0 0.58,0.25 Q0.58,0.42 0.3,0.56 L0.3,0.74 M0.3,0.9 L0.3,1"/><path transform="translate(9.46,0)" d="M0.02,0.2 Q0.08,0 0.3,0 Q0.58,0 0.58,0.25 Q0.58,0.42 0.3,0.56 L0.3,0.74 M0.3,0.9 L0.3,1"/><path transform="translate(10.32,0)" d="M0.02,0.2 Q0.08,0 0.3,0 Q0.58,0 0.58,0.25 Q0.58,0.42 0.3,0.56 L0.3,0.74 M0.3,0.9 L0.3,1"/><path transform="translate(11.18,0)" d="M0.02,0.2 Q0.08,0 0.3,0 Q0.58,0 0.58,0.25 Q0.58,0.42 0.3,0.56 L0.3,0.74 M0.3,0.9 L0.3,1"/><path transform="translate(12.04,0)" d="M0.02,0.2 Q0.08,0 0.3,0 Q0.58,0 0.58,0.25 Q0.58,0.42 0.3,0.56 L0.3,0.74 M0.3,0.9 L0.3,1"/><path transform="translate(12.9,0)" d="M0.02,0.2 Q0.08,0 0.3,0 Q0.58,0 0.58,0.25 Q0.58,0.42 0.3,0.56 L0.3,0.74 M0.3,0.9 L0.3,1"/><path transform="translate(13.76,0)" d="M0.02,0.2 Q0.08,0 0.3,0 Q0.58,0 0.58,0.25 Q0.58,0.42 0.3,0.56 L0.3,0.74 M0.3,0.9 L0.3,1"/><path transform="translate(14.62,0)" d="M0.02,0.2 Q0.08,0 0.3,0 Q0.58,0 0.58,0.26 Q0.58,0.42 0.42,0.56 L0,1 L0.6,1"/><path transform="translate(15.48,0)" d="M0.17,0 L0.43,0 L0.56,0.1 L0.6,0.3 L0.6,0.7 L0.56,0.9 L0.43,1 L0.17,1 L0.04,0.9 L0,0.7 L0,0.3 L0.04,0.1 Z"/></g>
<line x1="479" y1="120.4" x2="700" y2="120.4" stroke="#00ff00" stroke-width="1.2" stroke-linecap="butt"/>
<g transform="translate(518.8,125.6) scale(10.18,10.2)" fill="none" stroke="#00ff00" stroke-width="1.05" stroke-linejoin="round" stroke-linecap="round" style="vector-effect:non-scaling-stroke"><path transform="translate(0,0)" d="M0.02,0.2 Q0.08,0 0.3,0 Q0.58,0 0.58,0.25 Q0.58,0.42 0.3,0.56 L0.3,0.74 M0.3,0.9 L0.3,1"/><path transform="translate(0.86,0)" d="M0.02,0.2 Q0.08,0 0.3,0 Q0.58,0 0.58,0.25 Q0.58,0.42 0.3,0.56 L0.3,0.74 M0.3,0.9 L0.3,1"/><path transform="translate(1.72,0)" d="M0.02,0.2 Q0.08,0 0.3,0 Q0.58,0 0.58,0.26 Q0.58,0.42 0.42,0.56 L0,1 L0.6,1"/><path transform="translate(2.58,0)" d="M0.03,0.12 Q0.13,0 0.3,0 Q0.57,0 0.57,0.24 Q0.57,0.46 0.28,0.46 Q0.6,0.46 0.6,0.72 Q0.6,1 0.3,1 Q0.1,1 0,0.86"/><path transform="translate(3.44,0)" d="M0.17,0 L0.43,0 L0.56,0.1 L0.6,0.3 L0.6,0.7 L0.56,0.9 L0.43,1 L0.17,1 L0.04,0.9 L0,0.7 L0,0.3 L0.04,0.1 Z"/><path transform="translate(4.3,0)" d="M0,1 L0,0.34 M0,0.48 Q0.05,0.34 0.2,0.34 Q0.38,0.34 0.38,0.48 L0.38,1 M0.38,0.48 Q0.43,0.34 0.58,0.34 Q0.76,0.34 0.76,0.48 L0.76,1"/><path transform="translate(5.3,0)" d="M0,1 L0,0.34 M0,0.48 Q0.05,0.34 0.2,0.34 Q0.38,0.34 0.38,0.48 L0.38,1 M0.38,0.48 Q0.43,0.34 0.58,0.34 Q0.76,0.34 0.76,0.48 L0.76,1"/><path transform="translate(6.3,0)" d="M0.02,0.2 Q0.08,0 0.3,0 Q0.58,0 0.58,0.25 Q0.58,0.42 0.3,0.56 L0.3,0.74 M0.3,0.9 L0.3,1"/><path transform="translate(7.16,0)" d="M0.02,0.2 Q0.08,0 0.3,0 Q0.58,0 0.58,0.25 Q0.58,0.42 0.3,0.56 L0.3,0.74 M0.3,0.9 L0.3,1"/><path transform="translate(8.02,0)" d="M0.02,0.2 Q0.08,0 0.3,0 Q0.58,0 0.58,0.25 Q0.58,0.42 0.3,0.56 L0.3,0.74 M0.3,0.9 L0.3,1"/><path transform="translate(8.88,0)" d="M0.02,0.2 Q0.08,0 0.3,0 Q0.58,0 0.58,0.25 Q0.58,0.42 0.3,0.56 L0.3,0.74 M0.3,0.9 L0.3,1"/></g>
<line x1="479" y1="120.4" x2="451" y2="195" stroke="#ffffff" stroke-width="1" stroke-linecap="butt"/>
<line x1="493.8" y1="120.4" x2="465.8" y2="195" stroke="#ffffff" stroke-width="1" stroke-linecap="butt"/>
<line x1="508.5" y1="120.4" x2="480.5" y2="195" stroke="#ffffff" stroke-width="1" stroke-linecap="butt"/>
<path d="M633.3,153.5 L616.2,153.5 L616.2,176.1 L599.3,176.1" stroke="#ffffff" stroke-width="3.2" fill="none" />
<line x1="611" y1="156" x2="615" y2="152" stroke="#ffffff" stroke-width="0.8" stroke-linecap="butt"/>
<line x1="611" y1="159.4" x2="615" y2="155.4" stroke="#ffffff" stroke-width="0.8" stroke-linecap="butt"/>
<line x1="611" y1="162.8" x2="615" y2="158.8" stroke="#ffffff" stroke-width="0.8" stroke-linecap="butt"/>
<line x1="611" y1="166.2" x2="615" y2="162.2" stroke="#ffffff" stroke-width="0.8" stroke-linecap="butt"/>
<line x1="611" y1="169.6" x2="615" y2="165.6" stroke="#ffffff" stroke-width="0.8" stroke-linecap="butt"/>
<line x1="611" y1="173" x2="615" y2="169" stroke="#ffffff" stroke-width="0.8" stroke-linecap="butt"/>
<line x1="601" y1="180" x2="605" y2="176" stroke="#ffffff" stroke-width="0.8" stroke-linecap="butt"/>
<line x1="604.4" y1="180" x2="608.4" y2="176" stroke="#ffffff" stroke-width="0.8" stroke-linecap="butt"/>
<line x1="607.8" y1="180" x2="611.8" y2="176" stroke="#ffffff" stroke-width="0.8" stroke-linecap="butt"/>
<line x1="611.2" y1="180" x2="615.2" y2="176" stroke="#ffffff" stroke-width="0.8" stroke-linecap="butt"/>
<line x1="614.6" y1="180" x2="618.6" y2="176" stroke="#ffffff" stroke-width="0.8" stroke-linecap="butt"/>
<line x1="619" y1="157" x2="623" y2="153" stroke="#ffffff" stroke-width="0.8" stroke-linecap="butt"/>
<line x1="622.4" y1="157" x2="626.4" y2="153" stroke="#ffffff" stroke-width="0.8" stroke-linecap="butt"/>
<line x1="625.8" y1="157" x2="629.8" y2="153" stroke="#ffffff" stroke-width="0.8" stroke-linecap="butt"/>
<line x1="629.2" y1="157" x2="633.2" y2="153" stroke="#ffffff" stroke-width="0.8" stroke-linecap="butt"/>
<g transform="translate(595.9,139.2) scale(10.82,10.2)" fill="none" stroke="#ffffff" stroke-width="1.05" stroke-linejoin="round" stroke-linecap="round" style="vector-effect:non-scaling-stroke"><path transform="translate(0,0)" d="M0.02,0.2 Q0.08,0 0.3,0 Q0.58,0 0.58,0.26 Q0.58,0.42 0.42,0.56 L0,1 L0.6,1"/><path transform="translate(0.86,0)" d="M0.17,0 L0.43,0 L0.56,0.1 L0.6,0.3 L0.6,0.7 L0.56,0.9 L0.43,1 L0.17,1 L0.04,0.9 L0,0.7 L0,0.3 L0.04,0.1 Z"/></g>
<line x1="611.7" y1="146" x2="636.7" y2="146" stroke="#ffffff" stroke-width="1" stroke-linecap="butt"/>
<line x1="613.8" y1="149.6" x2="621" y2="142.4" stroke="#ff00ff" stroke-width="1.5" stroke-linecap="butt"/>
<line x1="618.4" y1="149.6" x2="625.6" y2="142.4" stroke="#ff00ff" stroke-width="1.5" stroke-linecap="butt"/>
<line x1="632" y1="141.5" x2="632" y2="163" stroke="#ffffff" stroke-width="1" stroke-linecap="butt"/>
<line x1="617.4" y1="141" x2="617.4" y2="150" stroke="#ffffff" stroke-width="1" stroke-linecap="butt"/>
<line x1="622" y1="141" x2="622" y2="150" stroke="#ffffff" stroke-width="1" stroke-linecap="butt"/>
<line x1="644.6" y1="149.4" x2="644.6" y2="174.4" stroke="#ffffff" stroke-width="1" stroke-linecap="butt"/>
<line x1="641" y1="151.4" x2="648.2" y2="158.6" stroke="#ff00ff" stroke-width="1.5" stroke-linecap="butt"/>
<line x1="641" y1="166.2" x2="648.2" y2="173.4" stroke="#ff00ff" stroke-width="1.5" stroke-linecap="butt"/>
<line x1="619.7" y1="155" x2="649" y2="155" stroke="#ffffff" stroke-width="1" stroke-linecap="butt"/>
<line x1="618.5" y1="169.8" x2="649" y2="169.8" stroke="#ffffff" stroke-width="1" stroke-linecap="butt"/>
<g transform="translate(650.3,169.8) rotate(-90) translate(-0,0) scale(10.82,10.2)" fill="none" stroke="#ffffff" stroke-width="1.05" stroke-linejoin="round" stroke-linecap="round" style="vector-effect:non-scaling-stroke"><path transform="translate(0,0)" d="M0.3,0.45 L0.16,0.45 Q0.05,0.45 0.05,0.3 L0.05,0.15 Q0.05,0 0.2,0 L0.4,0 Q0.55,0 0.55,0.15 L0.55,0.3 Q0.55,0.45 0.4,0.45 L0.2,0.45 Q0,0.45 0,0.62 L0,0.82 Q0,1 0.18,1 L0.42,1 Q0.6,1 0.6,0.82 L0.6,0.62 Q0.6,0.45 0.4,0.45"/><path transform="translate(0.86,0)" d="M0.17,0 L0.43,0 L0.56,0.1 L0.6,0.3 L0.6,0.7 L0.56,0.9 L0.43,1 L0.17,1 L0.04,0.9 L0,0.7 L0,0.3 L0.04,0.1 Z"/></g>
<line x1="600.4" y1="158.5" x2="600.4" y2="188" stroke="#ffffff" stroke-width="1" stroke-linecap="butt"/>
<line x1="596.8" y1="163.9" x2="604" y2="171.1" stroke="#ff00ff" stroke-width="1.5" stroke-linecap="butt"/>
<line x1="541.7" y1="198.2" x2="541.7" y2="288.7" stroke="#ffffff" stroke-width="1" stroke-linecap="butt"/>
<line x1="514" y1="202.9" x2="545.8" y2="202.9" stroke="#ffffff" stroke-width="1" stroke-linecap="butt"/>
<line x1="476.8" y1="205.9" x2="544.8" y2="205.9" stroke="#ffffff" stroke-width="1" stroke-linecap="butt"/>
<line x1="561.8" y1="205.9" x2="600.4" y2="205.9" stroke="#ffffff" stroke-width="1" stroke-linecap="butt"/>
<line x1="514" y1="213.5" x2="521.7" y2="213.5" stroke="#ffffff" stroke-width="1" stroke-linecap="butt"/>
<line x1="535.3" y1="213.5" x2="545.8" y2="213.5" stroke="#ffffff" stroke-width="1" stroke-linecap="butt"/>
<line x1="514" y1="224" x2="521.7" y2="224" stroke="#ffffff" stroke-width="1" stroke-linecap="butt"/>
<line x1="535.3" y1="224" x2="545.8" y2="224" stroke="#ffffff" stroke-width="1" stroke-linecap="butt"/>
<line x1="514" y1="234.6" x2="521.7" y2="234.6" stroke="#ffffff" stroke-width="1" stroke-linecap="butt"/>
<line x1="535.3" y1="234.6" x2="545.8" y2="234.6" stroke="#ffffff" stroke-width="1" stroke-linecap="butt"/>
<line x1="514" y1="257.5" x2="545.8" y2="257.5" stroke="#ffffff" stroke-width="1" stroke-linecap="butt"/>
<line x1="514" y1="262.2" x2="545.8" y2="262.2" stroke="#ffffff" stroke-width="1" stroke-linecap="butt"/>
<line x1="514" y1="267.5" x2="545.8" y2="267.5" stroke="#ffffff" stroke-width="1" stroke-linecap="butt"/>
<line x1="514" y1="273.4" x2="545.8" y2="273.4" stroke="#ffffff" stroke-width="1" stroke-linecap="butt"/>
<line x1="538.9" y1="197.8" x2="544.5" y2="203.4" stroke="#ff00ff" stroke-width="1.5" stroke-linecap="butt"/>
<line x1="538.9" y1="208.9" x2="544.5" y2="214.5" stroke="#ff00ff" stroke-width="1.5" stroke-linecap="butt"/>
<line x1="538.9" y1="219.5" x2="544.5" y2="225.1" stroke="#ff00ff" stroke-width="1.5" stroke-linecap="butt"/>
<line x1="538.9" y1="230" x2="544.5" y2="235.6" stroke="#ff00ff" stroke-width="1.5" stroke-linecap="butt"/>
<line x1="538.9" y1="252.5" x2="544.5" y2="258.1" stroke="#ff00ff" stroke-width="1.5" stroke-linecap="butt"/>
<line x1="538.9" y1="257.8" x2="544.5" y2="263.4" stroke="#ff00ff" stroke-width="1.5" stroke-linecap="butt"/>
<line x1="538.9" y1="263.1" x2="544.5" y2="268.7" stroke="#ff00ff" stroke-width="1.5" stroke-linecap="butt"/>
<line x1="538.9" y1="268.3" x2="544.5" y2="273.9" stroke="#ff00ff" stroke-width="1.5" stroke-linecap="butt"/>
<line x1="538.9" y1="278.9" x2="544.5" y2="284.5" stroke="#ff00ff" stroke-width="1.5" stroke-linecap="butt"/>
<g transform="translate(549.3,208.8) rotate(-90) translate(-2.03,0) scale(9.22,9.4)" fill="none" stroke="#ffffff" stroke-width="1.05" stroke-linejoin="round" stroke-linecap="round" style="vector-effect:non-scaling-stroke"><path transform="translate(0,0)" d="M0.22,0.2 L0.42,0 L0.42,1"/><path transform="translate(0.8,0)" d="M0.02,0.2 Q0.08,0 0.3,0 Q0.58,0 0.58,0.26 Q0.58,0.42 0.42,0.56 L0,1 L0.6,1"/><path transform="translate(1.66,0)" d="M0.17,0 L0.43,0 L0.56,0.1 L0.6,0.3 L0.6,0.7 L0.56,0.9 L0.43,1 L0.17,1 L0.04,0.9 L0,0.7 L0,0.3 L0.04,0.1 Z"/></g>
<g transform="translate(524.7,254.6) rotate(-90) translate(-0,0) scale(9.96,10.5)" fill="none" stroke="#ffffff" stroke-width="1.05" stroke-linejoin="round" stroke-linecap="round" style="vector-effect:non-scaling-stroke"><path transform="translate(0,0)" d="M0.02,0.2 Q0.08,0 0.3,0 Q0.58,0 0.58,0.26 Q0.58,0.42 0.42,0.56 L0,1 L0.6,1"/><path transform="translate(0.86,0)" d="M0.46,1 L0.46,0 L0,0.7 L0.62,0.7"/><path transform="translate(1.72,0)" d="M0.17,0 L0.43,0 L0.56,0.1 L0.6,0.3 L0.6,0.7 L0.56,0.9 L0.43,1 L0.17,1 L0.04,0.9 L0,0.7 L0,0.3 L0.04,0.1 Z"/><path transform="translate(2.58,0)" d="M0.22,0.2 L0.42,0 L0.42,1"/><path transform="translate(3.38,0)" d="M0.02,0.2 Q0.08,0 0.3,0 Q0.58,0 0.58,0.26 Q0.58,0.42 0.42,0.56 L0,1 L0.6,1"/><path transform="translate(4.24,0)" d="M0.17,0 L0.43,0 L0.56,0.1 L0.6,0.3 L0.6,0.7 L0.56,0.9 L0.43,1 L0.17,1 L0.04,0.9 L0,0.7 L0,0.3 L0.04,0.1 Z"/></g>
<g transform="translate(545.2,240.5) rotate(-90) translate(-2.53,0) scale(11.52,8.8)" fill="none" stroke="#ffffff" stroke-width="1.05" stroke-linejoin="round" stroke-linecap="round" style="vector-effect:non-scaling-stroke"><path transform="translate(0,0)" d="M0.22,0.2 L0.42,0 L0.42,1"/><path transform="translate(0.8,0)" d="M0.02,0.2 Q0.08,0 0.3,0 Q0.58,0 0.58,0.26 Q0.58,0.42 0.42,0.56 L0,1 L0.6,1"/><path transform="translate(1.66,0)" d="M0.17,0 L0.43,0 L0.56,0.1 L0.6,0.3 L0.6,0.7 L0.56,0.9 L0.43,1 L0.17,1 L0.04,0.9 L0,0.7 L0,0.3 L0.04,0.1 Z"/></g>
<g transform="translate(558.7,267.5) rotate(-90) translate(-0,0) scale(10.41,9.4)" fill="none" stroke="#ffffff" stroke-width="1.05" stroke-linejoin="round" stroke-linecap="round" style="vector-effect:non-scaling-stroke"><path transform="translate(0,0)" d="M0.56,0.12 Q0.46,0 0.3,0 Q0,0 0,0.42 L0,0.68 Q0,1 0.3,1 Q0.6,1 0.6,0.68 Q0.6,0.4 0.3,0.4 Q0.06,0.4 0,0.62"/><path transform="translate(0.86,0)" d="M0.17,0 L0.43,0 L0.56,0.1 L0.6,0.3 L0.6,0.7 L0.56,0.9 L0.43,1 L0.17,1 L0.04,0.9 L0,0.7 L0,0.3 L0.04,0.1 Z"/></g>
<line x1="569.9" y1="254" x2="569.9" y2="274.6" stroke="#ffffff" stroke-width="1" stroke-linecap="butt"/>
<line x1="569.9" y1="274.6" x2="541.7" y2="257.5" stroke="#ffffff" stroke-width="0.8" stroke-linecap="butt"/>
<line x1="569.9" y1="274.6" x2="541.7" y2="262.2" stroke="#ffffff" stroke-width="0.8" stroke-linecap="butt"/>
<line x1="569.9" y1="274.6" x2="541.7" y2="267.5" stroke="#ffffff" stroke-width="0.8" stroke-linecap="butt"/>
<g transform="translate(521.1,295.7) rotate(-90) translate(-2.47,0) scale(11.23,10.6)" fill="none" stroke="#ffffff" stroke-width="1.05" stroke-linejoin="round" stroke-linecap="round" style="vector-effect:non-scaling-stroke"><path transform="translate(0,0)" d="M0.22,0.2 L0.42,0 L0.42,1"/><path transform="translate(0.8,0)" d="M0.02,0.2 Q0.08,0 0.3,0 Q0.58,0 0.58,0.26 Q0.58,0.42 0.42,0.56 L0,1 L0.6,1"/><path transform="translate(1.66,0)" d="M0.17,0 L0.43,0 L0.56,0.1 L0.6,0.3 L0.6,0.7 L0.56,0.9 L0.43,1 L0.17,1 L0.04,0.9 L0,0.7 L0,0.3 L0.04,0.1 Z"/></g>
<g transform="translate(604.6,265) scale(10.11,10.7)" fill="none" stroke="#ffffff" stroke-width="1.05" stroke-linejoin="round" stroke-linecap="round" style="vector-effect:non-scaling-stroke"><path transform="translate(0,0)" d="M0,0 L0.6,0 L0.18,1"/><path transform="translate(0.86,0)" d="M0.08,0.88 L0.08,1"/><path transform="translate(1.28,0)" d="M0.3,0.45 L0.16,0.45 Q0.05,0.45 0.05,0.3 L0.05,0.15 Q0.05,0 0.2,0 L0.4,0 Q0.55,0 0.55,0.15 L0.55,0.3 Q0.55,0.45 0.4,0.45 L0.2,0.45 Q0,0.45 0,0.62 L0,0.82 Q0,1 0.18,1 L0.42,1 Q0.6,1 0.6,0.82 L0.6,0.62 Q0.6,0.45 0.4,0.45"/><path transform="translate(2.14,0)" d="M0.17,0 L0.43,0 L0.56,0.1 L0.6,0.3 L0.6,0.7 L0.56,0.9 L0.43,1 L0.17,1 L0.04,0.9 L0,0.7 L0,0.3 L0.04,0.1 Z"/><path transform="translate(3,0)" d="M0.17,0 L0.43,0 L0.56,0.1 L0.6,0.3 L0.6,0.7 L0.56,0.9 L0.43,1 L0.17,1 L0.04,0.9 L0,0.7 L0,0.3 L0.04,0.1 Z"/></g>
<line x1="604.6" y1="278.3" x2="642" y2="278.3" stroke="#ff00ff" stroke-width="1" stroke-linecap="butt"/>
<polyline points="610,278.3 616,283.5 622,278.3" stroke="#ff00ff" stroke-width="1" fill="none" stroke-linejoin="miter" stroke-linecap="butt"/>
<line x1="277" y1="418.4" x2="362.5" y2="418.4" stroke="#ffffff" stroke-width="1" stroke-linecap="butt"/>
<line x1="278.7" y1="422" x2="285.9" y2="414.8" stroke="#ff00ff" stroke-width="1.5" stroke-linecap="butt"/>
<line x1="282.3" y1="414.6" x2="282.3" y2="425.2" stroke="#ffffff" stroke-width="1" stroke-linecap="butt"/>
<line x1="299.9" y1="422" x2="307.1" y2="414.8" stroke="#ff00ff" stroke-width="1.5" stroke-linecap="butt"/>
<line x1="303.5" y1="414.6" x2="303.5" y2="425.2" stroke="#ffffff" stroke-width="1" stroke-linecap="butt"/>
<line x1="353.6" y1="422" x2="360.8" y2="414.8" stroke="#ff00ff" stroke-width="1.5" stroke-linecap="butt"/>
<line x1="357.2" y1="414.6" x2="357.2" y2="425.2" stroke="#ffffff" stroke-width="1" stroke-linecap="butt"/>
<g transform="translate(283.8,403.3) scale(10.13,9.8)" fill="none" stroke="#ffffff" stroke-width="1.05" stroke-linejoin="round" stroke-linecap="round" style="vector-effect:non-scaling-stroke"><path transform="translate(0,0)" d="M0.02,0.2 Q0.08,0 0.3,0 Q0.58,0 0.58,0.26 Q0.58,0.42 0.42,0.56 L0,1 L0.6,1"/><path transform="translate(0.86,0)" d="M0.46,1 L0.46,0 L0,0.7 L0.62,0.7"/><path transform="translate(1.72,0)" d="M0.17,0 L0.43,0 L0.56,0.1 L0.6,0.3 L0.6,0.7 L0.56,0.9 L0.43,1 L0.17,1 L0.04,0.9 L0,0.7 L0,0.3 L0.04,0.1 Z"/></g>
<g transform="translate(321,404.8) scale(10.04,9.9)" fill="none" stroke="#ffffff" stroke-width="1.05" stroke-linejoin="round" stroke-linecap="round" style="vector-effect:non-scaling-stroke"><path transform="translate(0,0)" d="M0.56,0.12 Q0.46,0 0.3,0 Q0,0 0,0.42 L0,0.68 Q0,1 0.3,1 Q0.6,1 0.6,0.68 Q0.6,0.4 0.3,0.4 Q0.06,0.4 0,0.62"/><path transform="translate(0.86,0)" d="M0.17,0 L0.43,0 L0.56,0.1 L0.6,0.3 L0.6,0.7 L0.56,0.9 L0.43,1 L0.17,1 L0.04,0.9 L0,0.7 L0,0.3 L0.04,0.1 Z"/><path transform="translate(1.72,0)" d="M0.17,0 L0.43,0 L0.56,0.1 L0.6,0.3 L0.6,0.7 L0.56,0.9 L0.43,1 L0.17,1 L0.04,0.9 L0,0.7 L0,0.3 L0.04,0.1 Z"/></g>
<g transform="translate(246.8,423) rotate(-90) translate(-0,0) scale(10.96,9.1)" fill="none" stroke="#ffffff" stroke-width="1.05" stroke-linejoin="round" stroke-linecap="round" style="vector-effect:non-scaling-stroke"><path transform="translate(0,0)" d="M0.56,0.12 Q0.46,0 0.3,0 Q0,0 0,0.42 L0,0.68 Q0,1 0.3,1 Q0.6,1 0.6,0.68 Q0.6,0.4 0.3,0.4 Q0.06,0.4 0,0.62"/><path transform="translate(0.86,0)" d="M0.17,0 L0.43,0 L0.56,0.1 L0.6,0.3 L0.6,0.7 L0.56,0.9 L0.43,1 L0.17,1 L0.04,0.9 L0,0.7 L0,0.3 L0.04,0.1 Z"/></g>
<line x1="255" y1="422" x2="266.5" y2="432.8" stroke="#ffffff" stroke-width="1" stroke-linecap="butt"/>
<g transform="translate(248.3,464.5) rotate(-90) translate(-2.44,0) scale(11.08,9.7)" fill="none" stroke="#ffffff" stroke-width="1.05" stroke-linejoin="round" stroke-linecap="round" style="vector-effect:non-scaling-stroke"><path transform="translate(0,0)" d="M0.22,0.2 L0.42,0 L0.42,1"/><path transform="translate(0.8,0)" d="M0.02,0.2 Q0.08,0 0.3,0 Q0.58,0 0.58,0.26 Q0.58,0.42 0.42,0.56 L0,1 L0.6,1"/><path transform="translate(1.66,0)" d="M0.17,0 L0.43,0 L0.56,0.1 L0.6,0.3 L0.6,0.7 L0.56,0.9 L0.43,1 L0.17,1 L0.04,0.9 L0,0.7 L0,0.3 L0.04,0.1 Z"/></g>
<line x1="267" y1="425" x2="267" y2="462.3" stroke="#ffffff" stroke-width="1" stroke-linecap="butt"/>
<line x1="264" y1="430.5" x2="278.6" y2="430.5" stroke="#ffffff" stroke-width="1" stroke-linecap="butt"/>
<line x1="264.2" y1="427.7" x2="269.8" y2="433.3" stroke="#ff00ff" stroke-width="1.5" stroke-linecap="butt"/>
<line x1="264" y1="435" x2="278.6" y2="435" stroke="#ffffff" stroke-width="1" stroke-linecap="butt"/>
<line x1="264.2" y1="432.2" x2="269.8" y2="437.8" stroke="#ff00ff" stroke-width="1.5" stroke-linecap="butt"/>
<line x1="264" y1="440.4" x2="278.6" y2="440.4" stroke="#ffffff" stroke-width="1" stroke-linecap="butt"/>
<line x1="264.2" y1="437.6" x2="269.8" y2="443.2" stroke="#ff00ff" stroke-width="1.5" stroke-linecap="butt"/>
<line x1="264" y1="446" x2="278.6" y2="446" stroke="#ffffff" stroke-width="1" stroke-linecap="butt"/>
<line x1="264.2" y1="443.2" x2="269.8" y2="448.8" stroke="#ff00ff" stroke-width="1.5" stroke-linecap="butt"/>
<line x1="264" y1="451.7" x2="278.6" y2="451.7" stroke="#ffffff" stroke-width="1" stroke-linecap="butt"/>
<line x1="264.2" y1="448.9" x2="269.8" y2="454.5" stroke="#ff00ff" stroke-width="1.5" stroke-linecap="butt"/>
<line x1="264" y1="457" x2="278.6" y2="457" stroke="#ffffff" stroke-width="1" stroke-linecap="butt"/>
<line x1="264.2" y1="454.2" x2="269.8" y2="459.8" stroke="#ff00ff" stroke-width="1.5" stroke-linecap="butt"/>
<line x1="281.6" y1="430.5" x2="281.6" y2="484.2" stroke="#ffffff" stroke-width="1" stroke-linecap="butt"/>
<g transform="translate(284.6,448.7) scale(7.81,8.3)" fill="none" stroke="#ffffff" stroke-width="1.05" stroke-linejoin="round" stroke-linecap="round" style="vector-effect:non-scaling-stroke"><path transform="translate(0,0)" d="M0.02,0.2 Q0.08,0 0.3,0 Q0.58,0 0.58,0.26 Q0.58,0.42 0.42,0.56 L0,1 L0.6,1"/><path transform="translate(0.86,0)" d="M0.17,0 L0.43,0 L0.56,0.1 L0.6,0.3 L0.6,0.7 L0.56,0.9 L0.43,1 L0.17,1 L0.04,0.9 L0,0.7 L0,0.3 L0.04,0.1 Z"/></g>
<g transform="translate(311.8,459.3) scale(9.78,9.8)" fill="none" stroke="#ffffff" stroke-width="1.05" stroke-linejoin="round" stroke-linecap="round" style="vector-effect:non-scaling-stroke"><path transform="translate(0,0)" d="M0.56,0.12 Q0.46,0 0.3,0 Q0,0 0,0.42 L0,0.68 Q0,1 0.3,1 Q0.6,1 0.6,0.68 Q0.6,0.4 0.3,0.4 Q0.06,0.4 0,0.62"/><path transform="translate(0.86,0)" d="M0.17,0 L0.43,0 L0.56,0.1 L0.6,0.3 L0.6,0.7 L0.56,0.9 L0.43,1 L0.17,1 L0.04,0.9 L0,0.7 L0,0.3 L0.04,0.1 Z"/><path transform="translate(1.72,0)" d="M0.17,0 L0.43,0 L0.56,0.1 L0.6,0.3 L0.6,0.7 L0.56,0.9 L0.43,1 L0.17,1 L0.04,0.9 L0,0.7 L0,0.3 L0.04,0.1 Z"/></g>
<g transform="translate(336.8,475.1) rotate(-90) translate(-0,0) scale(10.39,9.8)" fill="none" stroke="#ffffff" stroke-width="1.05" stroke-linejoin="round" stroke-linecap="round" style="vector-effect:non-scaling-stroke"><path transform="translate(0,0)" d="M0.02,0.2 Q0.08,0 0.3,0 Q0.58,0 0.58,0.26 Q0.58,0.42 0.42,0.56 L0,1 L0.6,1"/><path transform="translate(0.86,0)" d="M0.46,1 L0.46,0 L0,0.7 L0.62,0.7"/><path transform="translate(1.72,0)" d="M0.17,0 L0.43,0 L0.56,0.1 L0.6,0.3 L0.6,0.7 L0.56,0.9 L0.43,1 L0.17,1 L0.04,0.9 L0,0.7 L0,0.3 L0.04,0.1 Z"/></g>
<line x1="261.2" y1="469.8" x2="337.5" y2="469.8" stroke="#ffffff" stroke-width="1" stroke-linecap="butt"/>
<line x1="283.2" y1="472.6" x2="288.8" y2="467" stroke="#ff00ff" stroke-width="1.5" stroke-linecap="butt"/>
<line x1="286" y1="460" x2="286" y2="471" stroke="#ffffff" stroke-width="0.8" stroke-linecap="butt"/>
<line x1="288.5" y1="472.6" x2="294.1" y2="467" stroke="#ff00ff" stroke-width="1.5" stroke-linecap="butt"/>
<line x1="291.3" y1="460" x2="291.3" y2="471" stroke="#ffffff" stroke-width="0.8" stroke-linecap="butt"/>
<line x1="293.9" y1="472.6" x2="299.5" y2="467" stroke="#ff00ff" stroke-width="1.5" stroke-linecap="butt"/>
<line x1="296.7" y1="460" x2="296.7" y2="471" stroke="#ffffff" stroke-width="0.8" stroke-linecap="butt"/>
<line x1="299.2" y1="472.6" x2="304.8" y2="467" stroke="#ff00ff" stroke-width="1.5" stroke-linecap="butt"/>
<line x1="302" y1="460" x2="302" y2="471" stroke="#ffffff" stroke-width="0.8" stroke-linecap="butt"/>
<line x1="303.7" y1="472.6" x2="309.3" y2="467" stroke="#ff00ff" stroke-width="1.5" stroke-linecap="butt"/>
<line x1="306.5" y1="460" x2="306.5" y2="471" stroke="#ffffff" stroke-width="0.8" stroke-linecap="butt"/>
<g transform="translate(261.2,471.4) scale(10.34,9)" fill="none" stroke="#ffffff" stroke-width="1.05" stroke-linejoin="round" stroke-linecap="round" style="vector-effect:non-scaling-stroke"><path transform="translate(0,0)" d="M0.56,0.12 Q0.46,0 0.3,0 Q0,0 0,0.42 L0,0.68 Q0,1 0.3,1 Q0.6,1 0.6,0.68 Q0.6,0.4 0.3,0.4 Q0.06,0.4 0,0.62"/><path transform="translate(0.86,0)" d="M0.17,0 L0.43,0 L0.56,0.1 L0.6,0.3 L0.6,0.7 L0.56,0.9 L0.43,1 L0.17,1 L0.04,0.9 L0,0.7 L0,0.3 L0.04,0.1 Z"/></g>
<line x1="261.2" y1="482" x2="276.3" y2="482" stroke="#ffffff" stroke-width="1" stroke-linecap="butt"/>
<line x1="276.3" y1="482" x2="286" y2="469.8" stroke="#ffffff" stroke-width="0.8" stroke-linecap="butt"/>
<line x1="276.3" y1="482" x2="291.3" y2="469.8" stroke="#ffffff" stroke-width="0.8" stroke-linecap="butt"/>
<line x1="276.3" y1="482" x2="296.7" y2="469.8" stroke="#ffffff" stroke-width="0.8" stroke-linecap="butt"/>
<line x1="276.3" y1="482" x2="302" y2="469.8" stroke="#ffffff" stroke-width="0.8" stroke-linecap="butt"/>
<g transform="translate(284.6,477.4) scale(9.86,9.1)" fill="none" stroke="#ffffff" stroke-width="1.05" stroke-linejoin="round" stroke-linecap="round" style="vector-effect:non-scaling-stroke"><path transform="translate(0,0)" d="M0.46,1 L0.46,0 L0,0.7 L0.62,0.7"/><path transform="translate(0.86,0)" d="M0.17,0 L0.43,0 L0.56,0.1 L0.6,0.3 L0.6,0.7 L0.56,0.9 L0.43,1 L0.17,1 L0.04,0.9 L0,0.7 L0,0.3 L0.04,0.1 Z"/></g>
<line x1="352.6" y1="452.5" x2="352.6" y2="482" stroke="#ffffff" stroke-width="1" stroke-linecap="butt"/>
<line x1="349" y1="475.4" x2="356.2" y2="482.6" stroke="#ff00ff" stroke-width="1.5" stroke-linecap="butt"/>
<line x1="349" y1="454.4" x2="356.2" y2="461.6" stroke="#ff00ff" stroke-width="1.5" stroke-linecap="butt"/>
<g transform="translate(365.5,452) scale(10.06,11)" fill="none" stroke="#ffffff" stroke-width="1.05" stroke-linejoin="round" stroke-linecap="round" style="vector-effect:non-scaling-stroke"><path transform="translate(0,0)" d="M0.46,1 L0.46,0 L0,0.7 L0.62,0.7"/><path transform="translate(0.86,0)" d="M0.17,0 L0.43,0 L0.56,0.1 L0.6,0.3 L0.6,0.7 L0.56,0.9 L0.43,1 L0.17,1 L0.04,0.9 L0,0.7 L0,0.3 L0.04,0.1 Z"/><path transform="translate(1.72,0)" d="M0.02,0.2 Q0.08,0 0.3,0 Q0.58,0 0.58,0.26 Q0.58,0.42 0.42,0.56 L0,1 L0.6,1"/><path transform="translate(2.58,0)" d="M0.17,0 L0.43,0 L0.56,0.1 L0.6,0.3 L0.6,0.7 L0.56,0.9 L0.43,1 L0.17,1 L0.04,0.9 L0,0.7 L0,0.3 L0.04,0.1 Z"/></g>
<line x1="362.5" y1="470.6" x2="396" y2="462" stroke="#ffffff" stroke-width="1" stroke-linecap="butt"/>
<line x1="358.9" y1="474.2" x2="366.1" y2="467" stroke="#ff00ff" stroke-width="1.5" stroke-linecap="butt"/>
<line x1="362.4" y1="473.6" x2="369.6" y2="466.4" stroke="#ff00ff" stroke-width="1.5" stroke-linecap="butt"/>
<line x1="362.5" y1="462" x2="362.5" y2="474" stroke="#ffffff" stroke-width="0.8" stroke-linecap="butt"/>
<line x1="365.5" y1="462" x2="365.5" y2="474" stroke="#ffffff" stroke-width="0.8" stroke-linecap="butt"/>
<line x1="44.4" y1="511.3" x2="307.9" y2="511.3" stroke="#00ff00" stroke-width="1" stroke-linecap="butt"/>
<line x1="40.8" y1="514.9" x2="48" y2="507.7" stroke="#ff00ff" stroke-width="1.5" stroke-linecap="butt"/>
<line x1="44.4" y1="506" x2="44.4" y2="516" stroke="#ffffff" stroke-width="1" stroke-linecap="butt"/>
<line x1="115.4" y1="514.9" x2="122.6" y2="507.7" stroke="#ff00ff" stroke-width="1.5" stroke-linecap="butt"/>
<line x1="119" y1="506" x2="119" y2="516" stroke="#ffffff" stroke-width="1" stroke-linecap="butt"/>
<line x1="137.4" y1="514.9" x2="144.6" y2="507.7" stroke="#ff00ff" stroke-width="1.5" stroke-linecap="butt"/>
<line x1="141" y1="506" x2="141" y2="516" stroke="#ffffff" stroke-width="1" stroke-linecap="butt"/>
<line x1="196.6" y1="514.9" x2="203.8" y2="507.7" stroke="#ff00ff" stroke-width="1.5" stroke-linecap="butt"/>
<line x1="200.2" y1="506" x2="200.2" y2="516" stroke="#ffffff" stroke-width="1" stroke-linecap="butt"/>
<line x1="218.7" y1="514.9" x2="225.9" y2="507.7" stroke="#ff00ff" stroke-width="1.5" stroke-linecap="butt"/>
<line x1="222.3" y1="506" x2="222.3" y2="516" stroke="#ffffff" stroke-width="1" stroke-linecap="butt"/>
<line x1="279.3" y1="514.9" x2="286.5" y2="507.7" stroke="#ff00ff" stroke-width="1.5" stroke-linecap="butt"/>
<line x1="282.9" y1="506" x2="282.9" y2="516" stroke="#ffffff" stroke-width="1" stroke-linecap="butt"/>
<line x1="299.4" y1="514.9" x2="306.6" y2="507.7" stroke="#ff00ff" stroke-width="1.5" stroke-linecap="butt"/>
<line x1="303" y1="506" x2="303" y2="516" stroke="#ffffff" stroke-width="1" stroke-linecap="butt"/>
<line x1="44.4" y1="495" x2="44.4" y2="509" stroke="#00ff00" stroke-width="1" stroke-linecap="butt"/>
<line x1="119" y1="493" x2="119" y2="509" stroke="#00ff00" stroke-width="1" stroke-linecap="butt"/>
<line x1="200.2" y1="495.8" x2="200.2" y2="511.3" stroke="#00ff00" stroke-width="1" stroke-linecap="butt"/>
<g transform="translate(71,498.7) scale(10.78,10.7)" fill="none" stroke="#ffffff" stroke-width="1.05" stroke-linejoin="round" stroke-linecap="round" style="vector-effect:non-scaling-stroke"><path transform="translate(0,0)" d="M0.3,0.45 L0.16,0.45 Q0.05,0.45 0.05,0.3 L0.05,0.15 Q0.05,0 0.2,0 L0.4,0 Q0.55,0 0.55,0.15 L0.55,0.3 Q0.55,0.45 0.4,0.45 L0.2,0.45 Q0,0.45 0,0.62 L0,0.82 Q0,1 0.18,1 L0.42,1 Q0.6,1 0.6,0.82 L0.6,0.62 Q0.6,0.45 0.4,0.45"/><path transform="translate(0.86,0)" d="M0.03,0.12 Q0.13,0 0.3,0 Q0.57,0 0.57,0.24 Q0.57,0.46 0.28,0.46 Q0.6,0.46 0.6,0.72 Q0.6,1 0.3,1 Q0.1,1 0,0.86"/><path transform="translate(1.72,0)" d="M0.17,0 L0.43,0 L0.56,0.1 L0.6,0.3 L0.6,0.7 L0.56,0.9 L0.43,1 L0.17,1 L0.04,0.9 L0,0.7 L0,0.3 L0.04,0.1 Z"/></g>
<g transform="translate(123,494.8) scale(10.78,9.6)" fill="none" stroke="#ffffff" stroke-width="1.05" stroke-linejoin="round" stroke-linecap="round" style="vector-effect:non-scaling-stroke"><path transform="translate(0,0)" d="M0.02,0.2 Q0.08,0 0.3,0 Q0.58,0 0.58,0.26 Q0.58,0.42 0.42,0.56 L0,1 L0.6,1"/><path transform="translate(0.86,0)" d="M0.46,1 L0.46,0 L0,0.7 L0.62,0.7"/><path transform="translate(1.72,0)" d="M0.17,0 L0.43,0 L0.56,0.1 L0.6,0.3 L0.6,0.7 L0.56,0.9 L0.43,1 L0.17,1 L0.04,0.9 L0,0.7 L0,0.3 L0.04,0.1 Z"/></g>
<g transform="translate(161,498.7) scale(10.34,10.7)" fill="none" stroke="#ffffff" stroke-width="1.05" stroke-linejoin="round" stroke-linecap="round" style="vector-effect:non-scaling-stroke"><path transform="translate(0,0)" d="M0.56,0.12 Q0.46,0 0.3,0 Q0,0 0,0.42 L0,0.68 Q0,1 0.3,1 Q0.6,1 0.6,0.68 Q0.6,0.4 0.3,0.4 Q0.06,0.4 0,0.62"/><path transform="translate(0.86,0)" d="M0.56,0.12 Q0.46,0 0.3,0 Q0,0 0,0.42 L0,0.68 Q0,1 0.3,1 Q0.6,1 0.6,0.68 Q0.6,0.4 0.3,0.4 Q0.06,0.4 0,0.62"/><path transform="translate(1.72,0)" d="M0.17,0 L0.43,0 L0.56,0.1 L0.6,0.3 L0.6,0.7 L0.56,0.9 L0.43,1 L0.17,1 L0.04,0.9 L0,0.7 L0,0.3 L0.04,0.1 Z"/></g>
<g transform="translate(205,494.8) scale(10.34,9.6)" fill="none" stroke="#ffffff" stroke-width="1.05" stroke-linejoin="round" stroke-linecap="round" style="vector-effect:non-scaling-stroke"><path transform="translate(0,0)" d="M0.02,0.2 Q0.08,0 0.3,0 Q0.58,0 0.58,0.26 Q0.58,0.42 0.42,0.56 L0,1 L0.6,1"/><path transform="translate(0.86,0)" d="M0.46,1 L0.46,0 L0,0.7 L0.62,0.7"/><path transform="translate(1.72,0)" d="M0.17,0 L0.43,0 L0.56,0.1 L0.6,0.3 L0.6,0.7 L0.56,0.9 L0.43,1 L0.17,1 L0.04,0.9 L0,0.7 L0,0.3 L0.04,0.1 Z"/></g>
<g transform="translate(241.5,498.7) scale(10.39,9.6)" fill="none" stroke="#ffffff" stroke-width="1.05" stroke-linejoin="round" stroke-linecap="round" style="vector-effect:non-scaling-stroke"><path transform="translate(0,0)" d="M0.56,0.12 Q0.46,0 0.3,0 Q0,0 0,0.42 L0,0.68 Q0,1 0.3,1 Q0.6,1 0.6,0.68 Q0.6,0.4 0.3,0.4 Q0.06,0.4 0,0.62"/><path transform="translate(0.86,0)" d="M0.56,0.12 Q0.46,0 0.3,0 Q0,0 0,0.42 L0,0.68 Q0,1 0.3,1 Q0.6,1 0.6,0.68 Q0.6,0.4 0.3,0.4 Q0.06,0.4 0,0.62"/><path transform="translate(1.72,0)" d="M0.17,0 L0.43,0 L0.56,0.1 L0.6,0.3 L0.6,0.7 L0.56,0.9 L0.43,1 L0.17,1 L0.04,0.9 L0,0.7 L0,0.3 L0.04,0.1 Z"/></g>
<g transform="translate(280,494.8) scale(10.34,9.6)" fill="none" stroke="#ffffff" stroke-width="1.05" stroke-linejoin="round" stroke-linecap="round" style="vector-effect:non-scaling-stroke"><path transform="translate(0,0)" d="M0.02,0.2 Q0.08,0 0.3,0 Q0.58,0 0.58,0.26 Q0.58,0.42 0.42,0.56 L0,1 L0.6,1"/><path transform="translate(0.86,0)" d="M0.46,1 L0.46,0 L0,0.7 L0.62,0.7"/><path transform="translate(1.72,0)" d="M0.17,0 L0.43,0 L0.56,0.1 L0.6,0.3 L0.6,0.7 L0.56,0.9 L0.43,1 L0.17,1 L0.04,0.9 L0,0.7 L0,0.3 L0.04,0.1 Z"/></g>
<line x1="41" y1="549.6" x2="307.9" y2="549.6" stroke="#00ff00" stroke-width="1" stroke-linecap="butt"/>
<line x1="40.8" y1="553.2" x2="48" y2="546" stroke="#ff00ff" stroke-width="1.5" stroke-linecap="butt"/>
<line x1="44.4" y1="544.6" x2="44.4" y2="554.6" stroke="#ffffff" stroke-width="1" stroke-linecap="butt"/>
<line x1="159.7" y1="553.2" x2="166.9" y2="546" stroke="#ff00ff" stroke-width="1.5" stroke-linecap="butt"/>
<line x1="163.3" y1="544.6" x2="163.3" y2="554.6" stroke="#ffffff" stroke-width="1" stroke-linecap="butt"/>
<line x1="251.4" y1="553.2" x2="258.6" y2="546" stroke="#ff00ff" stroke-width="1.5" stroke-linecap="butt"/>
<line x1="255" y1="544.6" x2="255" y2="554.6" stroke="#ffffff" stroke-width="1" stroke-linecap="butt"/>
<line x1="279.3" y1="553.2" x2="286.5" y2="546" stroke="#ff00ff" stroke-width="1.5" stroke-linecap="butt"/>
<line x1="282.9" y1="544.6" x2="282.9" y2="554.6" stroke="#ffffff" stroke-width="1" stroke-linecap="butt"/>
<line x1="299.4" y1="553.2" x2="306.6" y2="546" stroke="#ff00ff" stroke-width="1.5" stroke-linecap="butt"/>
<line x1="303" y1="544.6" x2="303" y2="554.6" stroke="#ffffff" stroke-width="1" stroke-linecap="butt"/>
<line x1="163.3" y1="547" x2="163.3" y2="590" stroke="#00ff00" stroke-width="1" stroke-linecap="butt"/>
<line x1="188.4" y1="518.5" x2="188.4" y2="585.2" stroke="#00ff00" stroke-width="1" stroke-linecap="butt"/>
<line x1="163.3" y1="582.3" x2="214.6" y2="582.3" stroke="#00ff00" stroke-width="1" stroke-linecap="butt"/>
<line x1="255" y1="518.8" x2="255" y2="556.3" stroke="#00ff00" stroke-width="1" stroke-linecap="butt"/>
<line x1="237.7" y1="555.4" x2="261.7" y2="555.4" stroke="#00ff00" stroke-width="1" stroke-linecap="butt"/>
<line x1="282.9" y1="547.7" x2="282.9" y2="582.3" stroke="#00ff00" stroke-width="1" stroke-linecap="butt"/>
<line x1="184.8" y1="518.3" x2="192" y2="525.5" stroke="#ff00ff" stroke-width="1.5" stroke-linecap="butt"/>
<line x1="251.4" y1="518.3" x2="258.6" y2="525.5" stroke="#ff00ff" stroke-width="1.5" stroke-linecap="butt"/>
<line x1="251.4" y1="551.8" x2="258.6" y2="559" stroke="#ff00ff" stroke-width="1.5" stroke-linecap="butt"/>
<line x1="184.8" y1="578.7" x2="192" y2="585.9" stroke="#ff00ff" stroke-width="1.5" stroke-linecap="butt"/>
<line x1="183" y1="521.9" x2="194" y2="521.9" stroke="#ffffff" stroke-width="1" stroke-linecap="butt"/>
<line x1="250" y1="521.9" x2="261" y2="521.9" stroke="#ffffff" stroke-width="1" stroke-linecap="butt"/>
<line x1="250" y1="555.4" x2="261" y2="555.4" stroke="#ffffff" stroke-width="1" stroke-linecap="butt"/>
<line x1="183" y1="582.3" x2="194" y2="582.3" stroke="#ffffff" stroke-width="1" stroke-linecap="butt"/>
<g transform="translate(176.5,547) rotate(-90) translate(-0,0) scale(10.78,8.5)" fill="none" stroke="#ffffff" stroke-width="1.05" stroke-linejoin="round" stroke-linecap="round" style="vector-effect:non-scaling-stroke"><path transform="translate(0,0)" d="M0.56,0.12 Q0.46,0 0.3,0 Q0,0 0,0.42 L0,0.68 Q0,1 0.3,1 Q0.6,1 0.6,0.68 Q0.6,0.4 0.3,0.4 Q0.06,0.4 0,0.62"/><path transform="translate(0.86,0)" d="M0.56,0.12 Q0.46,0 0.3,0 Q0,0 0,0.42 L0,0.68 Q0,1 0.3,1 Q0.6,1 0.6,0.68 Q0.6,0.4 0.3,0.4 Q0.06,0.4 0,0.62"/><path transform="translate(1.72,0)" d="M0.57,0 L0.08,0 L0.03,0.44 Q0.14,0.37 0.3,0.37 Q0.6,0.37 0.6,0.68 Q0.6,1 0.3,1 Q0.1,1 0,0.87"/></g>
<g transform="translate(90.68,538) scale(10.56,10.3)" fill="none" stroke="#ffffff" stroke-width="1.05" stroke-linejoin="round" stroke-linecap="round" style="vector-effect:non-scaling-stroke"><path transform="translate(0,0)" d="M0.22,0.2 L0.42,0 L0.42,1"/><path transform="translate(0.8,0)" d="M0.03,0.12 Q0.13,0 0.3,0 Q0.57,0 0.57,0.24 Q0.57,0.46 0.28,0.46 Q0.6,0.46 0.6,0.72 Q0.6,1 0.3,1 Q0.1,1 0,0.86"/><path transform="translate(1.66,0)" d="M0.22,0.2 L0.42,0 L0.42,1"/><path transform="translate(2.46,0)" d="M0.57,0 L0.08,0 L0.03,0.44 Q0.14,0.37 0.3,0.37 Q0.6,0.37 0.6,0.68 Q0.6,1 0.3,1 Q0.1,1 0,0.87"/></g>
<g transform="translate(206.56,539) scale(10.18,8.7)" fill="none" stroke="#ffffff" stroke-width="1.05" stroke-linejoin="round" stroke-linecap="round" style="vector-effect:non-scaling-stroke"><path transform="translate(0,0)" d="M0.22,0.2 L0.42,0 L0.42,1"/><path transform="translate(0.8,0)" d="M0.03,0.12 Q0.13,0 0.3,0 Q0.57,0 0.57,0.24 Q0.57,0.46 0.28,0.46 Q0.6,0.46 0.6,0.72 Q0.6,1 0.3,1 Q0.1,1 0,0.86"/><path transform="translate(1.66,0)" d="M0.22,0.2 L0.42,0 L0.42,1"/><path transform="translate(2.46,0)" d="M0.57,0 L0.08,0 L0.03,0.44 Q0.14,0.37 0.3,0.37 Q0.6,0.37 0.6,0.68 Q0.6,1 0.3,1 Q0.1,1 0,0.87"/></g>
<g transform="translate(243.5,547.7) rotate(-90) translate(-0,0) scale(10.34,9.5)" fill="none" stroke="#ffffff" stroke-width="1.05" stroke-linejoin="round" stroke-linecap="round" style="vector-effect:non-scaling-stroke"><path transform="translate(0,0)" d="M0.03,0.12 Q0.13,0 0.3,0 Q0.57,0 0.57,0.24 Q0.57,0.46 0.28,0.46 Q0.6,0.46 0.6,0.72 Q0.6,1 0.3,1 Q0.1,1 0,0.86"/><path transform="translate(0.86,0)" d="M0,0 L0.6,0 L0.18,1"/><path transform="translate(1.72,0)" d="M0.17,0 L0.43,0 L0.56,0.1 L0.6,0.3 L0.6,0.7 L0.56,0.9 L0.43,1 L0.17,1 L0.04,0.9 L0,0.7 L0,0.3 L0.04,0.1 Z"/></g>
<g transform="translate(281,533.3) scale(10.34,9.6)" fill="none" stroke="#ffffff" stroke-width="1.05" stroke-linejoin="round" stroke-linecap="round" style="vector-effect:non-scaling-stroke"><path transform="translate(0,0)" d="M0.02,0.2 Q0.08,0 0.3,0 Q0.58,0 0.58,0.26 Q0.58,0.42 0.42,0.56 L0,1 L0.6,1"/><path transform="translate(0.86,0)" d="M0.46,1 L0.46,0 L0,0.7 L0.62,0.7"/><path transform="translate(1.72,0)" d="M0.17,0 L0.43,0 L0.56,0.1 L0.6,0.3 L0.6,0.7 L0.56,0.9 L0.43,1 L0.17,1 L0.04,0.9 L0,0.7 L0,0.3 L0.04,0.1 Z"/></g>
<line x1="187.7" y1="582.3" x2="214.6" y2="582.3" stroke="#ffffff" stroke-width="1" stroke-linecap="butt"/>
<line x1="190.6" y1="587.1" x2="227.1" y2="587.1" stroke="#ffffff" stroke-width="1" stroke-linecap="butt"/>
<polyline points="192,587.1 197.5,582.3 203,587.1" stroke="#ffffff" stroke-width="1" fill="none" stroke-linejoin="miter" stroke-linecap="butt"/>
<g transform="translate(192.5,589) scale(9.77,9.7)" fill="none" stroke="#ffffff" stroke-width="1.05" stroke-linejoin="round" stroke-linecap="round" style="vector-effect:non-scaling-stroke"><path transform="translate(0,0)" d="M0.46,1 L0.46,0 L0,0.7 L0.62,0.7"/><path transform="translate(0.86,0)" d="M0.08,0.88 L0.08,1"/><path transform="translate(1.28,0)" d="M0.57,0 L0.08,0 L0.03,0.44 Q0.14,0.37 0.3,0.37 Q0.6,0.37 0.6,0.68 Q0.6,1 0.3,1 Q0.1,1 0,0.87"/><path transform="translate(2.14,0)" d="M0.22,0.2 L0.42,0 L0.42,1"/><path transform="translate(2.94,0)" d="M0.17,0 L0.43,0 L0.56,0.1 L0.6,0.3 L0.6,0.7 L0.56,0.9 L0.43,1 L0.17,1 L0.04,0.9 L0,0.7 L0,0.3 L0.04,0.1 Z"/></g>
<line x1="58.3" y1="462.8" x2="58.3" y2="624.8" stroke="#ffffff" stroke-width="1" stroke-linecap="butt"/>
<line x1="58.3" y1="624.8" x2="149.8" y2="624.8" stroke="#ffffff" stroke-width="1" stroke-linecap="butt"/>
<g transform="translate(93,601.4) scale(9.49,10.4)" fill="none" stroke="#ffffff" stroke-width="1.05" stroke-linejoin="round" stroke-linecap="round" style="vector-effect:non-scaling-stroke"><path transform="translate(0,0)" d="M0.02,0.2 Q0.08,0 0.3,0 Q0.58,0 0.58,0.25 Q0.58,0.42 0.3,0.56 L0.3,0.74 M0.3,0.9 L0.3,1"/><path transform="translate(0.86,0)" d="M0.02,0.2 Q0.08,0 0.3,0 Q0.58,0 0.58,0.25 Q0.58,0.42 0.3,0.56 L0.3,0.74 M0.3,0.9 L0.3,1"/><path transform="translate(1.72,0)" d="M0.02,0.2 Q0.08,0 0.3,0 Q0.58,0 0.58,0.25 Q0.58,0.42 0.3,0.56 L0.3,0.74 M0.3,0.9 L0.3,1"/><path transform="translate(2.58,0)" d="M0.02,0.2 Q0.08,0 0.3,0 Q0.58,0 0.58,0.25 Q0.58,0.42 0.3,0.56 L0.3,0.74 M0.3,0.9 L0.3,1"/></g>
<g transform="translate(217.5,617.9) rotate(-90) translate(-0,0) scale(9.86,8.7)" fill="none" stroke="#ffffff" stroke-width="1.05" stroke-linejoin="round" stroke-linecap="round" style="vector-effect:non-scaling-stroke"><path transform="translate(0,0)" d="M0.56,0.12 Q0.46,0 0.3,0 Q0,0 0,0.42 L0,0.68 Q0,1 0.3,1 Q0.6,1 0.6,0.68 Q0.6,0.4 0.3,0.4 Q0.06,0.4 0,0.62"/><path transform="translate(0.86,0)" d="M0.17,0 L0.43,0 L0.56,0.1 L0.6,0.3 L0.6,0.7 L0.56,0.9 L0.43,1 L0.17,1 L0.04,0.9 L0,0.7 L0,0.3 L0.04,0.1 Z"/></g>
<line x1="228" y1="603.5" x2="228" y2="621.7" stroke="#ffffff" stroke-width="1" stroke-linecap="butt"/>
<line x1="243" y1="580.4" x2="254" y2="580.4" stroke="#ffffff" stroke-width="1" stroke-linecap="butt"/>
<line x1="246.4" y1="577.8" x2="251.6" y2="583" stroke="#ff00ff" stroke-width="1.5" stroke-linecap="butt"/>
<line x1="228" y1="603.5" x2="246" y2="580.4" stroke="#ffffff" stroke-width="0.8" stroke-linecap="butt"/>
<line x1="243" y1="585.2" x2="254" y2="585.2" stroke="#ffffff" stroke-width="1" stroke-linecap="butt"/>
<line x1="246.4" y1="582.6" x2="251.6" y2="587.8" stroke="#ff00ff" stroke-width="1.5" stroke-linecap="butt"/>
<line x1="228" y1="603.5" x2="246" y2="585.2" stroke="#ffffff" stroke-width="0.8" stroke-linecap="butt"/>
<line x1="243" y1="590" x2="254" y2="590" stroke="#ffffff" stroke-width="1" stroke-linecap="butt"/>
<line x1="246.4" y1="587.4" x2="251.6" y2="592.6" stroke="#ff00ff" stroke-width="1.5" stroke-linecap="butt"/>
<line x1="228" y1="603.5" x2="246" y2="590" stroke="#ffffff" stroke-width="0.8" stroke-linecap="butt"/>
<line x1="243" y1="594.8" x2="254" y2="594.8" stroke="#ffffff" stroke-width="1" stroke-linecap="butt"/>
<line x1="246.4" y1="592.2" x2="251.6" y2="597.4" stroke="#ff00ff" stroke-width="1.5" stroke-linecap="butt"/>
<line x1="228" y1="603.5" x2="246" y2="594.8" stroke="#ffffff" stroke-width="0.8" stroke-linecap="butt"/>
<line x1="243" y1="599.6" x2="254" y2="599.6" stroke="#ffffff" stroke-width="1" stroke-linecap="butt"/>
<line x1="246.4" y1="597" x2="251.6" y2="602.2" stroke="#ff00ff" stroke-width="1.5" stroke-linecap="butt"/>
<line x1="228" y1="603.5" x2="246" y2="599.6" stroke="#ffffff" stroke-width="0.8" stroke-linecap="butt"/>
<line x1="243" y1="604.4" x2="254" y2="604.4" stroke="#ffffff" stroke-width="1" stroke-linecap="butt"/>
<line x1="246.4" y1="601.8" x2="251.6" y2="607" stroke="#ff00ff" stroke-width="1.5" stroke-linecap="butt"/>
<line x1="228" y1="603.5" x2="246" y2="604.4" stroke="#ffffff" stroke-width="0.8" stroke-linecap="butt"/>
<line x1="246.3" y1="577.5" x2="246.3" y2="608.3" stroke="#ffffff" stroke-width="1" stroke-linecap="butt"/>
<line x1="251.2" y1="577.5" x2="251.2" y2="608.3" stroke="#ffffff" stroke-width="1" stroke-linecap="butt"/>
<g transform="translate(243.5,628.5) scale(9.86,9.5)" fill="none" stroke="#ffffff" stroke-width="1.05" stroke-linejoin="round" stroke-linecap="round" style="vector-effect:non-scaling-stroke"><path transform="translate(0,0)" d="M0.46,1 L0.46,0 L0,0.7 L0.62,0.7"/><path transform="translate(0.86,0)" d="M0.57,0 L0.08,0 L0.03,0.44 Q0.14,0.37 0.3,0.37 Q0.6,0.37 0.6,0.68 Q0.6,1 0.3,1 Q0.1,1 0,0.87"/></g>
<line x1="243.5" y1="639" x2="259" y2="639" stroke="#ffffff" stroke-width="1" stroke-linecap="butt"/>
<line x1="260.8" y1="618.8" x2="286.7" y2="618.8" stroke="#ffffff" stroke-width="1" stroke-linecap="butt"/>
<line x1="259" y1="639" x2="264.6" y2="618.8" stroke="#ffffff" stroke-width="0.8" stroke-linecap="butt"/>
<line x1="262" y1="621.4" x2="267.2" y2="616.2" stroke="#ff00ff" stroke-width="1.5" stroke-linecap="butt"/>
<line x1="259" y1="639" x2="269.4" y2="618.8" stroke="#ffffff" stroke-width="0.8" stroke-linecap="butt"/>
<line x1="266.8" y1="621.4" x2="272" y2="616.2" stroke="#ff00ff" stroke-width="1.5" stroke-linecap="butt"/>
<line x1="259" y1="639" x2="274.2" y2="618.8" stroke="#ffffff" stroke-width="0.8" stroke-linecap="butt"/>
<line x1="271.6" y1="621.4" x2="276.8" y2="616.2" stroke="#ff00ff" stroke-width="1.5" stroke-linecap="butt"/>
<line x1="259" y1="639" x2="278" y2="618.8" stroke="#ffffff" stroke-width="0.8" stroke-linecap="butt"/>
<line x1="275.4" y1="621.4" x2="280.6" y2="616.2" stroke="#ff00ff" stroke-width="1.5" stroke-linecap="butt"/>
<line x1="269.4" y1="605.4" x2="269.4" y2="622.7" stroke="#ffffff" stroke-width="1" stroke-linecap="butt"/>
<line x1="274.2" y1="605.4" x2="274.2" y2="622.7" stroke="#ffffff" stroke-width="1" stroke-linecap="butt"/>
<line x1="278" y1="605.4" x2="278" y2="622.7" stroke="#ffffff" stroke-width="1" stroke-linecap="butt"/>
<line x1="504.5" y1="443" x2="504.5" y2="569" stroke="#ffffff" stroke-width="1" stroke-linecap="butt"/>
<line x1="500.7" y1="441.8" x2="507.9" y2="449" stroke="#ff00ff" stroke-width="1.5" stroke-linecap="butt"/>
<line x1="497" y1="445.4" x2="511" y2="445.4" stroke="#ffffff" stroke-width="1" stroke-linecap="butt"/>
<line x1="500.7" y1="475.4" x2="507.9" y2="482.6" stroke="#ff00ff" stroke-width="1.5" stroke-linecap="butt"/>
<line x1="497" y1="479" x2="511" y2="479" stroke="#ffffff" stroke-width="1" stroke-linecap="butt"/>
<line x1="500.7" y1="529.1" x2="507.9" y2="536.3" stroke="#ff00ff" stroke-width="1.5" stroke-linecap="butt"/>
<line x1="497" y1="532.7" x2="511" y2="532.7" stroke="#ffffff" stroke-width="1" stroke-linecap="butt"/>
<line x1="500.7" y1="562.2" x2="507.9" y2="569.4" stroke="#ff00ff" stroke-width="1.5" stroke-linecap="butt"/>
<line x1="497" y1="565.8" x2="511" y2="565.8" stroke="#ffffff" stroke-width="1" stroke-linecap="butt"/>
<g transform="translate(492,474.4) rotate(-90) translate(-0,0) scale(11.16,10.5)" fill="none" stroke="#ffffff" stroke-width="1.05" stroke-linejoin="round" stroke-linecap="round" style="vector-effect:non-scaling-stroke"><path transform="translate(0,0)" d="M0.03,0.12 Q0.13,0 0.3,0 Q0.57,0 0.57,0.24 Q0.57,0.46 0.28,0.46 Q0.6,0.46 0.6,0.72 Q0.6,1 0.3,1 Q0.1,1 0,0.86"/><path transform="translate(0.86,0)" d="M0.56,0.12 Q0.46,0 0.3,0 Q0,0 0,0.42 L0,0.68 Q0,1 0.3,1 Q0.6,1 0.6,0.68 Q0.6,0.4 0.3,0.4 Q0.06,0.4 0,0.62"/><path transform="translate(1.72,0)" d="M0.17,0 L0.43,0 L0.56,0.1 L0.6,0.3 L0.6,0.7 L0.56,0.9 L0.43,1 L0.17,1 L0.04,0.9 L0,0.7 L0,0.3 L0.04,0.1 Z"/></g>
<g transform="translate(492,518.5) rotate(-90) translate(-0,0) scale(10.56,10.5)" fill="none" stroke="#ffffff" stroke-width="1.05" stroke-linejoin="round" stroke-linecap="round" style="vector-effect:non-scaling-stroke"><path transform="translate(0,0)" d="M0.56,0.12 Q0.46,0 0.3,0 Q0,0 0,0.42 L0,0.68 Q0,1 0.3,1 Q0.6,1 0.6,0.68 Q0.6,0.4 0.3,0.4 Q0.06,0.4 0,0.62"/><path transform="translate(0.86,0)" d="M0.17,0 L0.43,0 L0.56,0.1 L0.6,0.3 L0.6,0.7 L0.56,0.9 L0.43,1 L0.17,1 L0.04,0.9 L0,0.7 L0,0.3 L0.04,0.1 Z"/><path transform="translate(1.72,0)" d="M0.17,0 L0.43,0 L0.56,0.1 L0.6,0.3 L0.6,0.7 L0.56,0.9 L0.43,1 L0.17,1 L0.04,0.9 L0,0.7 L0,0.3 L0.04,0.1 Z"/></g>
<g transform="translate(492,561) rotate(-90) translate(-0,0) scale(11.21,10.5)" fill="none" stroke="#ffffff" stroke-width="1.05" stroke-linejoin="round" stroke-linecap="round" style="vector-effect:non-scaling-stroke"><path transform="translate(0,0)" d="M0.03,0.12 Q0.13,0 0.3,0 Q0.57,0 0.57,0.24 Q0.57,0.46 0.28,0.46 Q0.6,0.46 0.6,0.72 Q0.6,1 0.3,1 Q0.1,1 0,0.86"/><path transform="translate(0.86,0)" d="M0.56,0.12 Q0.46,0 0.3,0 Q0,0 0,0.42 L0,0.68 Q0,1 0.3,1 Q0.6,1 0.6,0.68 Q0.6,0.4 0.3,0.4 Q0.06,0.4 0,0.62"/><path transform="translate(1.72,0)" d="M0.17,0 L0.43,0 L0.56,0.1 L0.6,0.3 L0.6,0.7 L0.56,0.9 L0.43,1 L0.17,1 L0.04,0.9 L0,0.7 L0,0.3 L0.04,0.1 Z"/></g>
<line x1="353" y1="551.5" x2="700" y2="551.5" stroke="#00ff00" stroke-width="1" stroke-linecap="butt"/>
<line x1="353.1" y1="555.1" x2="360.3" y2="547.9" stroke="#ff00ff" stroke-width="1.5" stroke-linecap="butt"/>
<line x1="356.7" y1="546" x2="356.7" y2="557" stroke="#ffffff" stroke-width="1" stroke-linecap="butt"/>
<line x1="375.6" y1="555.1" x2="382.8" y2="547.9" stroke="#ff00ff" stroke-width="1.5" stroke-linecap="butt"/>
<line x1="379.2" y1="546" x2="379.2" y2="557" stroke="#ffffff" stroke-width="1" stroke-linecap="butt"/>
<line x1="438.4" y1="555.1" x2="445.6" y2="547.9" stroke="#ff00ff" stroke-width="1.5" stroke-linecap="butt"/>
<line x1="442" y1="546" x2="442" y2="557" stroke="#ffffff" stroke-width="1" stroke-linecap="butt"/>
<line x1="460.1" y1="555.1" x2="467.3" y2="547.9" stroke="#ff00ff" stroke-width="1.5" stroke-linecap="butt"/>
<line x1="463.7" y1="546" x2="463.7" y2="557" stroke="#ffffff" stroke-width="1" stroke-linecap="butt"/>
<line x1="585.4" y1="555.1" x2="592.6" y2="547.9" stroke="#ff00ff" stroke-width="1.5" stroke-linecap="butt"/>
<line x1="589" y1="546" x2="589" y2="557" stroke="#ffffff" stroke-width="1" stroke-linecap="butt"/>
<line x1="606.2" y1="555.1" x2="613.4" y2="547.9" stroke="#ff00ff" stroke-width="1.5" stroke-linecap="butt"/>
<line x1="609.8" y1="546" x2="609.8" y2="557" stroke="#ffffff" stroke-width="1" stroke-linecap="butt"/>
<line x1="669.8" y1="555.1" x2="677" y2="547.9" stroke="#ff00ff" stroke-width="1.5" stroke-linecap="butt"/>
<line x1="673.4" y1="546" x2="673.4" y2="557" stroke="#ffffff" stroke-width="1" stroke-linecap="butt"/>
<line x1="691.4" y1="555.1" x2="698.6" y2="547.9" stroke="#ff00ff" stroke-width="1.5" stroke-linecap="butt"/>
<line x1="695" y1="546" x2="695" y2="557" stroke="#ffffff" stroke-width="1" stroke-linecap="butt"/>
<line x1="357" y1="540" x2="357" y2="551" stroke="#00ff00" stroke-width="1" stroke-linecap="butt"/>
<line x1="442.6" y1="538" x2="442.6" y2="551" stroke="#00ff00" stroke-width="1" stroke-linecap="butt"/>
<line x1="589" y1="538" x2="589" y2="551" stroke="#00ff00" stroke-width="1" stroke-linecap="butt"/>
<g transform="translate(361,534) scale(10.17,11.7)" fill="none" stroke="#ffffff" stroke-width="1.05" stroke-linejoin="round" stroke-linecap="round" style="vector-effect:non-scaling-stroke"><path transform="translate(0,0)" d="M0.02,0.2 Q0.08,0 0.3,0 Q0.58,0 0.58,0.26 Q0.58,0.42 0.42,0.56 L0,1 L0.6,1"/><path transform="translate(0.86,0)" d="M0.46,1 L0.46,0 L0,0.7 L0.62,0.7"/><path transform="translate(1.72,0)" d="M0.17,0 L0.43,0 L0.56,0.1 L0.6,0.3 L0.6,0.7 L0.56,0.9 L0.43,1 L0.17,1 L0.04,0.9 L0,0.7 L0,0.3 L0.04,0.1 Z"/></g>
<g transform="translate(400.9,538) scale(10.3,10.3)" fill="none" stroke="#ffffff" stroke-width="1.05" stroke-linejoin="round" stroke-linecap="round" style="vector-effect:non-scaling-stroke"><path transform="translate(0,0)" d="M0.56,0.12 Q0.46,0 0.3,0 Q0,0 0,0.42 L0,0.68 Q0,1 0.3,1 Q0.6,1 0.6,0.68 Q0.6,0.4 0.3,0.4 Q0.06,0.4 0,0.62"/><path transform="translate(0.86,0)" d="M0.6,0.34 Q0.56,0.58 0.3,0.58 Q0,0.58 0,0.3 Q0,0 0.3,0 Q0.6,0 0.6,0.34 L0.6,0.58 Q0.6,1 0.3,1 Q0.12,1 0.04,0.9"/><path transform="translate(1.72,0)" d="M0.57,0 L0.08,0 L0.03,0.44 Q0.14,0.37 0.3,0.37 Q0.6,0.37 0.6,0.68 Q0.6,1 0.3,1 Q0.1,1 0,0.87"/></g>
<g transform="translate(445,534) scale(10.78,11.7)" fill="none" stroke="#ffffff" stroke-width="1.05" stroke-linejoin="round" stroke-linecap="round" style="vector-effect:non-scaling-stroke"><path transform="translate(0,0)" d="M0.02,0.2 Q0.08,0 0.3,0 Q0.58,0 0.58,0.26 Q0.58,0.42 0.42,0.56 L0,1 L0.6,1"/><path transform="translate(0.86,0)" d="M0.46,1 L0.46,0 L0,0.7 L0.62,0.7"/><path transform="translate(1.72,0)" d="M0.17,0 L0.43,0 L0.56,0.1 L0.6,0.3 L0.6,0.7 L0.56,0.9 L0.43,1 L0.17,1 L0.04,0.9 L0,0.7 L0,0.3 L0.04,0.1 Z"/></g>
<g transform="translate(525.53,538) scale(11.21,11.6)" fill="none" stroke="#ffffff" stroke-width="1.05" stroke-linejoin="round" stroke-linecap="round" style="vector-effect:non-scaling-stroke"><path transform="translate(0,0)" d="M0.22,0.2 L0.42,0 L0.42,1"/><path transform="translate(0.8,0)" d="M0.03,0.12 Q0.13,0 0.3,0 Q0.57,0 0.57,0.24 Q0.57,0.46 0.28,0.46 Q0.6,0.46 0.6,0.72 Q0.6,1 0.3,1 Q0.1,1 0,0.86"/><path transform="translate(1.66,0)" d="M0.6,0.34 Q0.56,0.58 0.3,0.58 Q0,0.58 0,0.3 Q0,0 0.3,0 Q0.6,0 0.6,0.34 L0.6,0.58 Q0.6,1 0.3,1 Q0.12,1 0.04,0.9"/><path transform="translate(2.52,0)" d="M0.17,0 L0.43,0 L0.56,0.1 L0.6,0.3 L0.6,0.7 L0.56,0.9 L0.43,1 L0.17,1 L0.04,0.9 L0,0.7 L0,0.3 L0.04,0.1 Z"/></g>
<g transform="translate(591.6,534) scale(11.21,11.7)" fill="none" stroke="#ffffff" stroke-width="1.05" stroke-linejoin="round" stroke-linecap="round" style="vector-effect:non-scaling-stroke"><path transform="translate(0,0)" d="M0.02,0.2 Q0.08,0 0.3,0 Q0.58,0 0.58,0.26 Q0.58,0.42 0.42,0.56 L0,1 L0.6,1"/><path transform="translate(0.86,0)" d="M0.46,1 L0.46,0 L0,0.7 L0.62,0.7"/><path transform="translate(1.72,0)" d="M0.17,0 L0.43,0 L0.56,0.1 L0.6,0.3 L0.6,0.7 L0.56,0.9 L0.43,1 L0.17,1 L0.04,0.9 L0,0.7 L0,0.3 L0.04,0.1 Z"/></g>
<g transform="translate(632,538) scale(10.34,10.3)" fill="none" stroke="#ffffff" stroke-width="1.05" stroke-linejoin="round" stroke-linecap="round" style="vector-effect:non-scaling-stroke"><path transform="translate(0,0)" d="M0.56,0.12 Q0.46,0 0.3,0 Q0,0 0,0.42 L0,0.68 Q0,1 0.3,1 Q0.6,1 0.6,0.68 Q0.6,0.4 0.3,0.4 Q0.06,0.4 0,0.62"/><path transform="translate(0.86,0)" d="M0.6,0.34 Q0.56,0.58 0.3,0.58 Q0,0.58 0,0.3 Q0,0 0.3,0 Q0.6,0 0.6,0.34 L0.6,0.58 Q0.6,1 0.3,1 Q0.12,1 0.04,0.9"/><path transform="translate(1.72,0)" d="M0.57,0 L0.08,0 L0.03,0.44 Q0.14,0.37 0.3,0.37 Q0.6,0.37 0.6,0.68 Q0.6,1 0.3,1 Q0.1,1 0,0.87"/></g>
<g transform="translate(672.4,534) scale(10.04,10.4)" fill="none" stroke="#ffffff" stroke-width="1.05" stroke-linejoin="round" stroke-linecap="round" style="vector-effect:non-scaling-stroke"><path transform="translate(0,0)" d="M0.02,0.2 Q0.08,0 0.3,0 Q0.58,0 0.58,0.26 Q0.58,0.42 0.42,0.56 L0,1 L0.6,1"/><path transform="translate(0.86,0)" d="M0.46,1 L0.46,0 L0,0.7 L0.62,0.7"/><path transform="translate(1.72,0)" d="M0.17,0 L0.43,0 L0.56,0.1 L0.6,0.3 L0.6,0.7 L0.56,0.9 L0.43,1 L0.17,1 L0.04,0.9 L0,0.7 L0,0.3 L0.04,0.1 Z"/></g>
<g transform="translate(320,543) scale(10.52,10.5)" fill="none" stroke="#ffffff" stroke-width="1.05" stroke-linejoin="round" stroke-linecap="round" style="vector-effect:non-scaling-stroke"><path transform="translate(0,0)" d="M0.02,0.2 Q0.08,0 0.3,0 Q0.58,0 0.58,0.26 Q0.58,0.42 0.42,0.56 L0,1 L0.6,1"/><path transform="translate(0.86,0)" d="M0.46,1 L0.46,0 L0,0.7 L0.62,0.7"/><path transform="translate(1.72,0)" d="M0.17,0 L0.43,0 L0.56,0.1 L0.6,0.3 L0.6,0.7 L0.56,0.9 L0.43,1 L0.17,1 L0.04,0.9 L0,0.7 L0,0.3 L0.04,0.1 Z"/></g>
<line x1="315" y1="538.2" x2="346" y2="538.2" stroke="#00ff00" stroke-width="1" stroke-linecap="butt"/>
<line x1="316.9" y1="541.8" x2="324.1" y2="534.6" stroke="#ff00ff" stroke-width="1.5" stroke-linecap="butt"/>
<line x1="337.8" y1="541.8" x2="345" y2="534.6" stroke="#ff00ff" stroke-width="1.5" stroke-linecap="butt"/>
<line x1="320.5" y1="530" x2="320.5" y2="540" stroke="#00ff00" stroke-width="1" stroke-linecap="butt"/>
<line x1="341.4" y1="530" x2="341.4" y2="540" stroke="#00ff00" stroke-width="1" stroke-linecap="butt"/>
<line x1="315" y1="538.2" x2="324" y2="538.2" stroke="#ffffff" stroke-width="1" stroke-linecap="butt"/>
<line x1="337" y1="538.2" x2="346" y2="538.2" stroke="#ffffff" stroke-width="1" stroke-linecap="butt"/>
<line x1="525.5" y1="509.4" x2="525.5" y2="656" stroke="#ffffff" stroke-width="1" stroke-linecap="butt"/>
<line x1="525.5" y1="656" x2="616.4" y2="656" stroke="#ffffff" stroke-width="1" stroke-linecap="butt"/>
<g transform="translate(541,640) scale(9.49,10.7)" fill="none" stroke="#ffffff" stroke-width="1.05" stroke-linejoin="round" stroke-linecap="round" style="vector-effect:non-scaling-stroke"><path transform="translate(0,0)" d="M0.02,0.2 Q0.08,0 0.3,0 Q0.58,0 0.58,0.25 Q0.58,0.42 0.3,0.56 L0.3,0.74 M0.3,0.9 L0.3,1"/><path transform="translate(0.86,0)" d="M0.02,0.2 Q0.08,0 0.3,0 Q0.58,0 0.58,0.25 Q0.58,0.42 0.3,0.56 L0.3,0.74 M0.3,0.9 L0.3,1"/><path transform="translate(1.72,0)" d="M0.02,0.2 Q0.08,0 0.3,0 Q0.58,0 0.58,0.25 Q0.58,0.42 0.3,0.56 L0.3,0.74 M0.3,0.9 L0.3,1"/><path transform="translate(2.58,0)" d="M0.02,0.2 Q0.08,0 0.3,0 Q0.58,0 0.58,0.25 Q0.58,0.42 0.3,0.56 L0.3,0.74 M0.3,0.9 L0.3,1"/></g>
<line x1="353" y1="585.3" x2="439.8" y2="585.3" stroke="#00ff00" stroke-width="1" stroke-linecap="butt"/>
<line x1="455.5" y1="585.3" x2="650.1" y2="585.3" stroke="#00ff00" stroke-width="1" stroke-linecap="butt"/>
<line x1="667.4" y1="585.3" x2="700.2" y2="585.3" stroke="#00ff00" stroke-width="1" stroke-linecap="butt"/>
<line x1="353.1" y1="588.9" x2="360.3" y2="581.7" stroke="#ff00ff" stroke-width="1.5" stroke-linecap="butt"/>
<line x1="375.6" y1="588.9" x2="382.8" y2="581.7" stroke="#ff00ff" stroke-width="1.5" stroke-linecap="butt"/>
<line x1="429.4" y1="588.9" x2="436.6" y2="581.7" stroke="#ff00ff" stroke-width="1.5" stroke-linecap="butt"/>
<line x1="556.4" y1="588.9" x2="563.6" y2="581.7" stroke="#ff00ff" stroke-width="1.5" stroke-linecap="butt"/>
<line x1="615.4" y1="588.9" x2="622.6" y2="581.7" stroke="#ff00ff" stroke-width="1.5" stroke-linecap="butt"/>
<line x1="669.8" y1="588.9" x2="677" y2="581.7" stroke="#ff00ff" stroke-width="1.5" stroke-linecap="butt"/>
<line x1="691.4" y1="588.9" x2="698.6" y2="581.7" stroke="#ff00ff" stroke-width="1.5" stroke-linecap="butt"/>
<g transform="translate(360.5,570) scale(10.65,9.6)" fill="none" stroke="#ffffff" stroke-width="1.05" stroke-linejoin="round" stroke-linecap="round" style="vector-effect:non-scaling-stroke"><path transform="translate(0,0)" d="M0.02,0.2 Q0.08,0 0.3,0 Q0.58,0 0.58,0.26 Q0.58,0.42 0.42,0.56 L0,1 L0.6,1"/><path transform="translate(0.86,0)" d="M0.46,1 L0.46,0 L0,0.7 L0.62,0.7"/><path transform="translate(1.72,0)" d="M0.17,0 L0.43,0 L0.56,0.1 L0.6,0.3 L0.6,0.7 L0.56,0.9 L0.43,1 L0.17,1 L0.04,0.9 L0,0.7 L0,0.3 L0.04,0.1 Z"/></g>
<g transform="translate(395.6,572.2) scale(10.65,8.8)" fill="none" stroke="#ffffff" stroke-width="1.05" stroke-linejoin="round" stroke-linecap="round" style="vector-effect:non-scaling-stroke"><path transform="translate(0,0)" d="M0.56,0.12 Q0.46,0 0.3,0 Q0,0 0,0.42 L0,0.68 Q0,1 0.3,1 Q0.6,1 0.6,0.68 Q0.6,0.4 0.3,0.4 Q0.06,0.4 0,0.62"/><path transform="translate(0.86,0)" d="M0.17,0 L0.43,0 L0.56,0.1 L0.6,0.3 L0.6,0.7 L0.56,0.9 L0.43,1 L0.17,1 L0.04,0.9 L0,0.7 L0,0.3 L0.04,0.1 Z"/><path transform="translate(1.72,0)" d="M0.17,0 L0.43,0 L0.56,0.1 L0.6,0.3 L0.6,0.7 L0.56,0.9 L0.43,1 L0.17,1 L0.04,0.9 L0,0.7 L0,0.3 L0.04,0.1 Z"/></g>
<g transform="translate(485,573) scale(10.38,10.3)" fill="none" stroke="#ffffff" stroke-width="1.05" stroke-linejoin="round" stroke-linecap="round" style="vector-effect:non-scaling-stroke"><path transform="translate(0,0)" d="M0.02,0.2 Q0.08,0 0.3,0 Q0.58,0 0.58,0.26 Q0.58,0.42 0.42,0.56 L0,1 L0.6,1"/><path transform="translate(0.86,0)" d="M0.17,0 L0.43,0 L0.56,0.1 L0.6,0.3 L0.6,0.7 L0.56,0.9 L0.43,1 L0.17,1 L0.04,0.9 L0,0.7 L0,0.3 L0.04,0.1 Z"/><path transform="translate(1.72,0)" d="M0.56,0.12 Q0.46,0 0.3,0 Q0,0 0,0.42 L0,0.68 Q0,1 0.3,1 Q0.6,1 0.6,0.68 Q0.6,0.4 0.3,0.4 Q0.06,0.4 0,0.62"/><path transform="translate(2.58,0)" d="M0.17,0 L0.43,0 L0.56,0.1 L0.6,0.3 L0.6,0.7 L0.56,0.9 L0.43,1 L0.17,1 L0.04,0.9 L0,0.7 L0,0.3 L0.04,0.1 Z"/></g>
<g transform="translate(626.8,572.8) scale(10.43,8.7)" fill="none" stroke="#ffffff" stroke-width="1.05" stroke-linejoin="round" stroke-linecap="round" style="vector-effect:non-scaling-stroke"><path transform="translate(0,0)" d="M0.56,0.12 Q0.46,0 0.3,0 Q0,0 0,0.42 L0,0.68 Q0,1 0.3,1 Q0.6,1 0.6,0.68 Q0.6,0.4 0.3,0.4 Q0.06,0.4 0,0.62"/><path transform="translate(0.86,0)" d="M0.17,0 L0.43,0 L0.56,0.1 L0.6,0.3 L0.6,0.7 L0.56,0.9 L0.43,1 L0.17,1 L0.04,0.9 L0,0.7 L0,0.3 L0.04,0.1 Z"/><path transform="translate(1.72,0)" d="M0.17,0 L0.43,0 L0.56,0.1 L0.6,0.3 L0.6,0.7 L0.56,0.9 L0.43,1 L0.17,1 L0.04,0.9 L0,0.7 L0,0.3 L0.04,0.1 Z"/></g>
<g transform="translate(671.7,567.6) scale(10.43,10.4)" fill="none" stroke="#ffffff" stroke-width="1.05" stroke-linejoin="round" stroke-linecap="round" style="vector-effect:non-scaling-stroke"><path transform="translate(0,0)" d="M0.02,0.2 Q0.08,0 0.3,0 Q0.58,0 0.58,0.26 Q0.58,0.42 0.42,0.56 L0,1 L0.6,1"/><path transform="translate(0.86,0)" d="M0.46,1 L0.46,0 L0,0.7 L0.62,0.7"/><path transform="translate(1.72,0)" d="M0.17,0 L0.43,0 L0.56,0.1 L0.6,0.3 L0.6,0.7 L0.56,0.9 L0.43,1 L0.17,1 L0.04,0.9 L0,0.7 L0,0.3 L0.04,0.1 Z"/></g>
<line x1="379.2" y1="585" x2="379.2" y2="613.3" stroke="#00ff00" stroke-width="1" stroke-linecap="butt"/>
<line x1="433" y1="579.6" x2="433" y2="614.8" stroke="#00ff00" stroke-width="1" stroke-linecap="butt"/>
<line x1="456.2" y1="562.4" x2="456.2" y2="620.8" stroke="#00ff00" stroke-width="1" stroke-linecap="butt"/>
<line x1="452.6" y1="562.2" x2="459.8" y2="569.4" stroke="#ff00ff" stroke-width="1.5" stroke-linecap="butt"/>
<line x1="452.6" y1="611.2" x2="459.8" y2="618.4" stroke="#ff00ff" stroke-width="1.5" stroke-linecap="butt"/>
<g transform="translate(442.7,600.6) rotate(-90) translate(-0,0) scale(10,10.5)" fill="none" stroke="#ffffff" stroke-width="1.05" stroke-linejoin="round" stroke-linecap="round" style="vector-effect:non-scaling-stroke"><path transform="translate(0,0)" d="M0.57,0 L0.08,0 L0.03,0.44 Q0.14,0.37 0.3,0.37 Q0.6,0.37 0.6,0.68 Q0.6,1 0.3,1 Q0.1,1 0,0.87"/><path transform="translate(0.86,0)" d="M0.57,0 L0.08,0 L0.03,0.44 Q0.14,0.37 0.3,0.37 Q0.6,0.37 0.6,0.68 Q0.6,1 0.3,1 Q0.1,1 0,0.87"/><path transform="translate(1.72,0)" d="M0.17,0 L0.43,0 L0.56,0.1 L0.6,0.3 L0.6,0.7 L0.56,0.9 L0.43,1 L0.17,1 L0.04,0.9 L0,0.7 L0,0.3 L0.04,0.1 Z"/></g>
<line x1="433" y1="614.8" x2="480" y2="614.8" stroke="#00ff00" stroke-width="1" stroke-linecap="butt"/>
<line x1="455.5" y1="615" x2="485" y2="615" stroke="#ffffff" stroke-width="1" stroke-linecap="butt"/>
<line x1="458" y1="621.5" x2="493" y2="621.5" stroke="#ff00ff" stroke-width="1" stroke-linecap="butt"/>
<polyline points="460,621.5 466,615.5 472,621.5" stroke="#ff00ff" stroke-width="1" fill="none" stroke-linejoin="miter" stroke-linecap="butt"/>
<g transform="translate(462,623.5) scale(10.25,10.5)" fill="none" stroke="#ffffff" stroke-width="1.05" stroke-linejoin="round" stroke-linecap="round" style="vector-effect:non-scaling-stroke"><path transform="translate(0,0)" d="M0.46,1 L0.46,0 L0,0.7 L0.62,0.7"/><path transform="translate(0.86,0)" d="M0.08,0.88 L0.08,1"/><path transform="translate(1.28,0)" d="M0.22,0.2 L0.42,0 L0.42,1"/><path transform="translate(2.08,0)" d="M0.46,1 L0.46,0 L0,0.7 L0.62,0.7"/><path transform="translate(2.94,0)" d="M0.57,0 L0.08,0 L0.03,0.44 Q0.14,0.37 0.3,0.37 Q0.6,0.37 0.6,0.68 Q0.6,1 0.3,1 Q0.1,1 0,0.87"/></g>
<line x1="560" y1="562.6" x2="560" y2="591" stroke="#00ff00" stroke-width="1" stroke-linecap="butt"/>
<line x1="556.4" y1="562.2" x2="563.6" y2="569.4" stroke="#ff00ff" stroke-width="1.5" stroke-linecap="butt"/>
<line x1="556.4" y1="583.4" x2="563.6" y2="590.6" stroke="#ff00ff" stroke-width="1.5" stroke-linecap="butt"/>
<g transform="translate(541,583.3) rotate(-90) translate(-0,0) scale(10.6,9.5)" fill="none" stroke="#ffffff" stroke-width="1.05" stroke-linejoin="round" stroke-linecap="round" style="vector-effect:non-scaling-stroke"><path transform="translate(0,0)" d="M0.02,0.2 Q0.08,0 0.3,0 Q0.58,0 0.58,0.26 Q0.58,0.42 0.42,0.56 L0,1 L0.6,1"/><path transform="translate(0.86,0)" d="M0.57,0 L0.08,0 L0.03,0.44 Q0.14,0.37 0.3,0.37 Q0.6,0.37 0.6,0.68 Q0.6,1 0.3,1 Q0.1,1 0,0.87"/><path transform="translate(1.72,0)" d="M0.17,0 L0.43,0 L0.56,0.1 L0.6,0.3 L0.6,0.7 L0.56,0.9 L0.43,1 L0.17,1 L0.04,0.9 L0,0.7 L0,0.3 L0.04,0.1 Z"/></g>
<line x1="619" y1="579.7" x2="619" y2="616" stroke="#00ff00" stroke-width="1" stroke-linecap="butt"/>
<line x1="667.4" y1="562.5" x2="667.4" y2="605.7" stroke="#00ff00" stroke-width="1" stroke-linecap="butt"/>
<line x1="673.4" y1="579.7" x2="673.4" y2="614.3" stroke="#00ff00" stroke-width="1" stroke-linecap="butt"/>
<line x1="663.8" y1="562.2" x2="671" y2="569.4" stroke="#ff00ff" stroke-width="1.5" stroke-linecap="butt"/>
<line x1="663.8" y1="601.4" x2="671" y2="608.6" stroke="#ff00ff" stroke-width="1.5" stroke-linecap="butt"/>
<line x1="662" y1="605" x2="672" y2="605" stroke="#ffffff" stroke-width="1" stroke-linecap="butt"/>
<g transform="translate(655.3,594.4) rotate(-90) translate(-0,0) scale(9.91,8.7)" fill="none" stroke="#ffffff" stroke-width="1.05" stroke-linejoin="round" stroke-linecap="round" style="vector-effect:non-scaling-stroke"><path transform="translate(0,0)" d="M0.46,1 L0.46,0 L0,0.7 L0.62,0.7"/><path transform="translate(0.86,0)" d="M0.22,0.2 L0.42,0 L0.42,1"/><path transform="translate(1.66,0)" d="M0.17,0 L0.43,0 L0.56,0.1 L0.6,0.3 L0.6,0.7 L0.56,0.9 L0.43,1 L0.17,1 L0.04,0.9 L0,0.7 L0,0.3 L0.04,0.1 Z"/></g>
<line x1="397.9" y1="616.3" x2="412.6" y2="616.3" stroke="#ffffff" stroke-width="1" stroke-linecap="butt"/>
<line x1="405" y1="613.7" x2="410.2" y2="618.9" stroke="#ff00ff" stroke-width="1.5" stroke-linecap="butt"/>
<line x1="439.8" y1="640.2" x2="407.6" y2="616.3" stroke="#ffffff" stroke-width="0.8" stroke-linecap="butt"/>
<line x1="397.9" y1="621.5" x2="412.6" y2="621.5" stroke="#ffffff" stroke-width="1" stroke-linecap="butt"/>
<line x1="405" y1="618.9" x2="410.2" y2="624.1" stroke="#ff00ff" stroke-width="1.5" stroke-linecap="butt"/>
<line x1="439.8" y1="640.2" x2="407.6" y2="621.5" stroke="#ffffff" stroke-width="0.8" stroke-linecap="butt"/>
<line x1="397.9" y1="626.8" x2="412.6" y2="626.8" stroke="#ffffff" stroke-width="1" stroke-linecap="butt"/>
<line x1="405" y1="624.2" x2="410.2" y2="629.4" stroke="#ff00ff" stroke-width="1.5" stroke-linecap="butt"/>
<line x1="439.8" y1="640.2" x2="407.6" y2="626.8" stroke="#ffffff" stroke-width="0.8" stroke-linecap="butt"/>
<line x1="397.9" y1="632" x2="412.6" y2="632" stroke="#ffffff" stroke-width="1" stroke-linecap="butt"/>
<line x1="405" y1="629.4" x2="410.2" y2="634.6" stroke="#ff00ff" stroke-width="1.5" stroke-linecap="butt"/>
<line x1="439.8" y1="640.2" x2="407.6" y2="632" stroke="#ffffff" stroke-width="0.8" stroke-linecap="butt"/>
<line x1="397.9" y1="637.2" x2="412.6" y2="637.2" stroke="#ffffff" stroke-width="1" stroke-linecap="butt"/>
<line x1="405" y1="634.6" x2="410.2" y2="639.8" stroke="#ff00ff" stroke-width="1.5" stroke-linecap="butt"/>
<line x1="439.8" y1="640.2" x2="407.6" y2="637.2" stroke="#ffffff" stroke-width="0.8" stroke-linecap="butt"/>
<line x1="407.6" y1="611.8" x2="407.6" y2="641.7" stroke="#ffffff" stroke-width="1" stroke-linecap="butt"/>
<g transform="translate(429.3,640.2) rotate(-90) translate(-0,0) scale(15.34,10.5)" fill="none" stroke="#ffffff" stroke-width="1.05" stroke-linejoin="round" stroke-linecap="round" style="vector-effect:non-scaling-stroke"><path transform="translate(0,0)" d="M0.56,0.12 Q0.46,0 0.3,0 Q0,0 0,0.42 L0,0.68 Q0,1 0.3,1 Q0.6,1 0.6,0.68 Q0.6,0.4 0.3,0.4 Q0.06,0.4 0,0.62"/><path transform="translate(0.86,0)" d="M0.17,0 L0.43,0 L0.56,0.1 L0.6,0.3 L0.6,0.7 L0.56,0.9 L0.43,1 L0.17,1 L0.04,0.9 L0,0.7 L0,0.3 L0.04,0.1 Z"/></g>
<line x1="439.8" y1="617.8" x2="439.8" y2="640.2" stroke="#ffffff" stroke-width="1" stroke-linecap="butt"/>
<line x1="381.4" y1="638.7" x2="381.4" y2="653.7" stroke="#ffffff" stroke-width="1" stroke-linecap="butt"/>
<line x1="378.8" y1="656.3" x2="384" y2="651.1" stroke="#ff00ff" stroke-width="1.5" stroke-linecap="butt"/>
<line x1="406.8" y1="663.4" x2="381.4" y2="653.7" stroke="#ffffff" stroke-width="0.8" stroke-linecap="butt"/>
<line x1="385" y1="638.7" x2="385" y2="653.7" stroke="#ffffff" stroke-width="1" stroke-linecap="butt"/>
<line x1="382.4" y1="656.3" x2="387.6" y2="651.1" stroke="#ff00ff" stroke-width="1.5" stroke-linecap="butt"/>
<line x1="406.8" y1="663.4" x2="385" y2="653.7" stroke="#ffffff" stroke-width="0.8" stroke-linecap="butt"/>
<line x1="388.6" y1="638.7" x2="388.6" y2="653.7" stroke="#ffffff" stroke-width="1" stroke-linecap="butt"/>
<line x1="386" y1="656.3" x2="391.2" y2="651.1" stroke="#ff00ff" stroke-width="1.5" stroke-linecap="butt"/>
<line x1="406.8" y1="663.4" x2="388.6" y2="653.7" stroke="#ffffff" stroke-width="0.8" stroke-linecap="butt"/>
<line x1="392.2" y1="638.7" x2="392.2" y2="653.7" stroke="#ffffff" stroke-width="1" stroke-linecap="butt"/>
<line x1="389.6" y1="656.3" x2="394.8" y2="651.1" stroke="#ff00ff" stroke-width="1.5" stroke-linecap="butt"/>
<line x1="406.8" y1="663.4" x2="392.2" y2="653.7" stroke="#ffffff" stroke-width="0.8" stroke-linecap="butt"/>
<line x1="395.6" y1="638.7" x2="395.6" y2="653.7" stroke="#ffffff" stroke-width="1" stroke-linecap="butt"/>
<line x1="393" y1="656.3" x2="398.2" y2="651.1" stroke="#ff00ff" stroke-width="1.5" stroke-linecap="butt"/>
<line x1="406.8" y1="663.4" x2="395.6" y2="653.7" stroke="#ffffff" stroke-width="0.8" stroke-linecap="butt"/>
<line x1="374.7" y1="653.7" x2="397.9" y2="653.7" stroke="#ffffff" stroke-width="1" stroke-linecap="butt"/>
<g transform="translate(409,652.2) scale(10.82,9)" fill="none" stroke="#ffffff" stroke-width="1.05" stroke-linejoin="round" stroke-linecap="round" style="vector-effect:non-scaling-stroke"><path transform="translate(0,0)" d="M0.46,1 L0.46,0 L0,0.7 L0.62,0.7"/><path transform="translate(0.86,0)" d="M0.57,0 L0.08,0 L0.03,0.44 Q0.14,0.37 0.3,0.37 Q0.6,0.37 0.6,0.68 Q0.6,1 0.3,1 Q0.1,1 0,0.87"/></g>
<line x1="406.8" y1="663.4" x2="430" y2="663.4" stroke="#ffffff" stroke-width="1" stroke-linecap="butt"/>
<line x1="715.8" y1="610.8" x2="715.8" y2="640.2" stroke="#ffffff" stroke-width="1" stroke-linecap="butt"/>
<line x1="705.4" y1="615.2" x2="719.2" y2="615.2" stroke="#ffffff" stroke-width="1" stroke-linecap="butt"/>
<line x1="713.2" y1="612.6" x2="718.4" y2="617.8" stroke="#ff00ff" stroke-width="1.5" stroke-linecap="butt"/>
<line x1="737.7" y1="617.8" x2="715.8" y2="615.2" stroke="#ffffff" stroke-width="0.8" stroke-linecap="butt"/>
<line x1="705.4" y1="620.3" x2="719.2" y2="620.3" stroke="#ffffff" stroke-width="1" stroke-linecap="butt"/>
<line x1="713.2" y1="617.7" x2="718.4" y2="622.9" stroke="#ff00ff" stroke-width="1.5" stroke-linecap="butt"/>
<line x1="737.7" y1="617.8" x2="715.8" y2="620.3" stroke="#ffffff" stroke-width="0.8" stroke-linecap="butt"/>
<line x1="705.4" y1="626.4" x2="719.2" y2="626.4" stroke="#ffffff" stroke-width="1" stroke-linecap="butt"/>
<line x1="713.2" y1="623.8" x2="718.4" y2="629" stroke="#ff00ff" stroke-width="1.5" stroke-linecap="butt"/>
<line x1="737.7" y1="617.8" x2="715.8" y2="626.4" stroke="#ffffff" stroke-width="0.8" stroke-linecap="butt"/>
<line x1="705.4" y1="631.6" x2="719.2" y2="631.6" stroke="#ffffff" stroke-width="1" stroke-linecap="butt"/>
<line x1="713.2" y1="629" x2="718.4" y2="634.2" stroke="#ff00ff" stroke-width="1.5" stroke-linecap="butt"/>
<line x1="737.7" y1="617.8" x2="715.8" y2="631.6" stroke="#ffffff" stroke-width="0.8" stroke-linecap="butt"/>
<line x1="705.4" y1="637.6" x2="719.2" y2="637.6" stroke="#ffffff" stroke-width="1" stroke-linecap="butt"/>
<line x1="713.2" y1="635" x2="718.4" y2="640.2" stroke="#ff00ff" stroke-width="1.5" stroke-linecap="butt"/>
<line x1="737.7" y1="617.8" x2="715.8" y2="637.6" stroke="#ffffff" stroke-width="0.8" stroke-linecap="butt"/>
<g transform="translate(727,614.3) rotate(-90) translate(-0,0) scale(10.68,9.5)" fill="none" stroke="#ffffff" stroke-width="1.05" stroke-linejoin="round" stroke-linecap="round" style="vector-effect:non-scaling-stroke"><path transform="translate(0,0)" d="M0.56,0.12 Q0.46,0 0.3,0 Q0,0 0,0.42 L0,0.68 Q0,1 0.3,1 Q0.6,1 0.6,0.68 Q0.6,0.4 0.3,0.4 Q0.06,0.4 0,0.62"/><path transform="translate(0.86,0)" d="M0.17,0 L0.43,0 L0.56,0.1 L0.6,0.3 L0.6,0.7 L0.56,0.9 L0.43,1 L0.17,1 L0.04,0.9 L0,0.7 L0,0.3 L0.04,0.1 Z"/></g>
<line x1="737.7" y1="599" x2="737.7" y2="617.8" stroke="#ffffff" stroke-width="1" stroke-linecap="butt"/>
<line x1="662.2" y1="638.5" x2="662.2" y2="654" stroke="#ffffff" stroke-width="1" stroke-linecap="butt"/>
<line x1="666.5" y1="638.5" x2="666.5" y2="654" stroke="#ffffff" stroke-width="1" stroke-linecap="butt"/>
<line x1="670" y1="638.5" x2="670" y2="654" stroke="#ffffff" stroke-width="1" stroke-linecap="butt"/>
<line x1="652.7" y1="653.2" x2="678.6" y2="653.2" stroke="#ffffff" stroke-width="1" stroke-linecap="butt"/>
<line x1="654.4" y1="655.8" x2="659.6" y2="650.6" stroke="#ff00ff" stroke-width="1.5" stroke-linecap="butt"/>
<line x1="651" y1="638.1" x2="657" y2="653.2" stroke="#ffffff" stroke-width="0.8" stroke-linecap="butt"/>
<line x1="658.4" y1="655.8" x2="663.6" y2="650.6" stroke="#ff00ff" stroke-width="1.5" stroke-linecap="butt"/>
<line x1="651" y1="638.1" x2="661" y2="653.2" stroke="#ffffff" stroke-width="0.8" stroke-linecap="butt"/>
<line x1="662.4" y1="655.8" x2="667.6" y2="650.6" stroke="#ff00ff" stroke-width="1.5" stroke-linecap="butt"/>
<line x1="651" y1="638.1" x2="665" y2="653.2" stroke="#ffffff" stroke-width="0.8" stroke-linecap="butt"/>
<line x1="666.4" y1="655.8" x2="671.6" y2="650.6" stroke="#ff00ff" stroke-width="1.5" stroke-linecap="butt"/>
<line x1="651" y1="638.1" x2="669" y2="653.2" stroke="#ffffff" stroke-width="0.8" stroke-linecap="butt"/>
<line x1="670.4" y1="655.8" x2="675.6" y2="650.6" stroke="#ff00ff" stroke-width="1.5" stroke-linecap="butt"/>
<line x1="651" y1="638.1" x2="673" y2="653.2" stroke="#ffffff" stroke-width="0.8" stroke-linecap="butt"/>
<g transform="translate(632.8,627.3) scale(10.68,9.5)" fill="none" stroke="#ffffff" stroke-width="1.05" stroke-linejoin="round" stroke-linecap="round" style="vector-effect:non-scaling-stroke"><path transform="translate(0,0)" d="M0.46,1 L0.46,0 L0,0.7 L0.62,0.7"/><path transform="translate(0.86,0)" d="M0.57,0 L0.08,0 L0.03,0.44 Q0.14,0.37 0.3,0.37 Q0.6,0.37 0.6,0.68 Q0.6,1 0.3,1 Q0.1,1 0,0.87"/></g>
<line x1="631.1" y1="638.1" x2="651" y2="638.1" stroke="#ffffff" stroke-width="1" stroke-linecap="butt"/>
<g transform="translate(668.5,448.5) scale(10.62,10.5)" fill="none" stroke="#ffffff" stroke-width="1.05" stroke-linejoin="round" stroke-linecap="round" style="vector-effect:non-scaling-stroke"><path transform="translate(0,0)" d="M0.02,0.2 Q0.08,0 0.3,0 Q0.58,0 0.58,0.26 Q0.58,0.42 0.42,0.56 L0,1 L0.6,1"/><path transform="translate(0.86,0)" d="M0.17,0 L0.43,0 L0.56,0.1 L0.6,0.3 L0.6,0.7 L0.56,0.9 L0.43,1 L0.17,1 L0.04,0.9 L0,0.7 L0,0.3 L0.04,0.1 Z"/></g>
<line x1="666" y1="459.5" x2="684" y2="459.5" stroke="#ffffff" stroke-width="1" stroke-linecap="butt"/>
<g transform="translate(666,466.7) scale(10.62,9)" fill="none" stroke="#ffffff" stroke-width="1.05" stroke-linejoin="round" stroke-linecap="round" style="vector-effect:non-scaling-stroke"><path transform="translate(0,0)" d="M0.46,1 L0.46,0 L0,0.7 L0.62,0.7"/><path transform="translate(0.86,0)" d="M0.17,0 L0.43,0 L0.56,0.1 L0.6,0.3 L0.6,0.7 L0.56,0.9 L0.43,1 L0.17,1 L0.04,0.9 L0,0.7 L0,0.3 L0.04,0.1 Z"/></g>
<line x1="666" y1="476.5" x2="684" y2="476.5" stroke="#ffffff" stroke-width="1" stroke-linecap="butt"/>
<line x1="684" y1="476" x2="691.5" y2="462" stroke="#ffffff" stroke-width="1" stroke-linecap="butt"/>
<line x1="690" y1="468.2" x2="818.2" y2="468.2" stroke="#ffffff" stroke-width="1" stroke-linecap="butt"/>
<line x1="690.2" y1="471" x2="695.8" y2="465.4" stroke="#ff00ff" stroke-width="1.5" stroke-linecap="butt"/>
<line x1="746.7" y1="471" x2="752.3" y2="465.4" stroke="#ff00ff" stroke-width="1.5" stroke-linecap="butt"/>
<line x1="752.9" y1="471" x2="758.5" y2="465.4" stroke="#ff00ff" stroke-width="1.5" stroke-linecap="butt"/>
<line x1="758" y1="471" x2="763.6" y2="465.4" stroke="#ff00ff" stroke-width="1.5" stroke-linecap="butt"/>
<line x1="763.2" y1="471" x2="768.8" y2="465.4" stroke="#ff00ff" stroke-width="1.5" stroke-linecap="butt"/>
<line x1="769.2" y1="471" x2="774.8" y2="465.4" stroke="#ff00ff" stroke-width="1.5" stroke-linecap="butt"/>
<line x1="774.4" y1="471" x2="780" y2="465.4" stroke="#ff00ff" stroke-width="1.5" stroke-linecap="butt"/>
<line x1="783.6" y1="471" x2="789.2" y2="465.4" stroke="#ff00ff" stroke-width="1.5" stroke-linecap="butt"/>
<line x1="793.9" y1="471" x2="799.5" y2="465.4" stroke="#ff00ff" stroke-width="1.5" stroke-linecap="butt"/>
<line x1="810.3" y1="471" x2="815.9" y2="465.4" stroke="#ff00ff" stroke-width="1.5" stroke-linecap="butt"/>
<line x1="691" y1="458" x2="691" y2="470" stroke="#ffffff" stroke-width="0.8" stroke-linecap="butt"/>
<line x1="694.6" y1="458" x2="694.6" y2="470" stroke="#ffffff" stroke-width="0.8" stroke-linecap="butt"/>
<line x1="749.5" y1="458" x2="749.5" y2="470" stroke="#ffffff" stroke-width="0.8" stroke-linecap="butt"/>
<line x1="753" y1="458" x2="753" y2="470" stroke="#ffffff" stroke-width="0.8" stroke-linecap="butt"/>
<line x1="757" y1="458" x2="757" y2="470" stroke="#ffffff" stroke-width="0.8" stroke-linecap="butt"/>
<g transform="translate(711.5,459) scale(10.65,8.2)" fill="none" stroke="#ffffff" stroke-width="1.05" stroke-linejoin="round" stroke-linecap="round" style="vector-effect:non-scaling-stroke"><path transform="translate(0,0)" d="M0.56,0.12 Q0.46,0 0.3,0 Q0,0 0,0.42 L0,0.68 Q0,1 0.3,1 Q0.6,1 0.6,0.68 Q0.6,0.4 0.3,0.4 Q0.06,0.4 0,0.62"/><path transform="translate(0.86,0)" d="M0.17,0 L0.43,0 L0.56,0.1 L0.6,0.3 L0.6,0.7 L0.56,0.9 L0.43,1 L0.17,1 L0.04,0.9 L0,0.7 L0,0.3 L0.04,0.1 Z"/><path transform="translate(1.72,0)" d="M0.17,0 L0.43,0 L0.56,0.1 L0.6,0.3 L0.6,0.7 L0.56,0.9 L0.43,1 L0.17,1 L0.04,0.9 L0,0.7 L0,0.3 L0.04,0.1 Z"/></g>
<g transform="translate(767,439.5) scale(10.3,9.2)" fill="none" stroke="#ffffff" stroke-width="1.05" stroke-linejoin="round" stroke-linecap="round" style="vector-effect:non-scaling-stroke"><path transform="translate(0,0)" d="M0.56,0.12 Q0.46,0 0.3,0 Q0,0 0,0.42 L0,0.68 Q0,1 0.3,1 Q0.6,1 0.6,0.68 Q0.6,0.4 0.3,0.4 Q0.06,0.4 0,0.62"/><path transform="translate(0.86,0)" d="M0.17,0 L0.43,0 L0.56,0.1 L0.6,0.3 L0.6,0.7 L0.56,0.9 L0.43,1 L0.17,1 L0.04,0.9 L0,0.7 L0,0.3 L0.04,0.1 Z"/><path transform="translate(1.72,0)" d="M0.22,0.2 L0.42,0 L0.42,1"/><path transform="translate(2.52,0)" d="M0.02,0.2 Q0.08,0 0.3,0 Q0.58,0 0.58,0.26 Q0.58,0.42 0.42,0.56 L0,1 L0.6,1"/><path transform="translate(3.38,0)" d="M0.17,0 L0.43,0 L0.56,0.1 L0.6,0.3 L0.6,0.7 L0.56,0.9 L0.43,1 L0.17,1 L0.04,0.9 L0,0.7 L0,0.3 L0.04,0.1 Z"/></g>
<line x1="761.8" y1="449.7" x2="808" y2="449.7" stroke="#ffffff" stroke-width="1" stroke-linecap="butt"/>
<line x1="761.8" y1="449.7" x2="755.7" y2="468.2" stroke="#ffffff" stroke-width="0.8" stroke-linecap="butt"/>
<line x1="761.8" y1="449.7" x2="760.8" y2="468.2" stroke="#ffffff" stroke-width="0.8" stroke-linecap="butt"/>
<line x1="761.8" y1="449.7" x2="766" y2="468.2" stroke="#ffffff" stroke-width="0.8" stroke-linecap="butt"/>
<line x1="761.8" y1="449.7" x2="772" y2="468.2" stroke="#ffffff" stroke-width="0.8" stroke-linecap="butt"/>
<line x1="787" y1="449.7" x2="786.4" y2="468.2" stroke="#ffffff" stroke-width="0.8" stroke-linecap="butt"/>
<line x1="787" y1="449.7" x2="796.7" y2="468.2" stroke="#ffffff" stroke-width="0.8" stroke-linecap="butt"/>
<g transform="translate(796.26,452.8) scale(11.08,9.2)" fill="none" stroke="#ffffff" stroke-width="1.05" stroke-linejoin="round" stroke-linecap="round" style="vector-effect:non-scaling-stroke"><path transform="translate(0,0)" d="M0.22,0.2 L0.42,0 L0.42,1"/><path transform="translate(0.8,0)" d="M0.3,0.45 L0.16,0.45 Q0.05,0.45 0.05,0.3 L0.05,0.15 Q0.05,0 0.2,0 L0.4,0 Q0.55,0 0.55,0.15 L0.55,0.3 Q0.55,0.45 0.4,0.45 L0.2,0.45 Q0,0.45 0,0.62 L0,0.82 Q0,1 0.18,1 L0.42,1 Q0.6,1 0.6,0.82 L0.6,0.62 Q0.6,0.45 0.4,0.45"/><path transform="translate(1.66,0)" d="M0.17,0 L0.43,0 L0.56,0.1 L0.6,0.3 L0.6,0.7 L0.56,0.9 L0.43,1 L0.17,1 L0.04,0.9 L0,0.7 L0,0.3 L0.04,0.1 Z"/></g>
<line x1="821.3" y1="457.3" x2="831.6" y2="457.3" stroke="#ffffff" stroke-width="1" stroke-linecap="butt"/>
<g transform="translate(756.7,474.4) scale(11.92,10.2)" fill="none" stroke="#ffffff" stroke-width="1.05" stroke-linejoin="round" stroke-linecap="round" style="vector-effect:non-scaling-stroke"><path transform="translate(0,0)" d="M0.02,0.2 Q0.08,0 0.3,0 Q0.58,0 0.58,0.26 Q0.58,0.42 0.42,0.56 L0,1 L0.6,1"/><path transform="translate(0.86,0)" d="M0.17,0 L0.43,0 L0.56,0.1 L0.6,0.3 L0.6,0.7 L0.56,0.9 L0.43,1 L0.17,1 L0.04,0.9 L0,0.7 L0,0.3 L0.04,0.1 Z"/></g>
<line x1="753" y1="486" x2="774.1" y2="486" stroke="#ffffff" stroke-width="1" stroke-linecap="butt"/>
<g transform="translate(753.6,487.7) scale(11.23,10.3)" fill="none" stroke="#ffffff" stroke-width="1.05" stroke-linejoin="round" stroke-linecap="round" style="vector-effect:non-scaling-stroke"><path transform="translate(0,0)" d="M0.46,1 L0.46,0 L0,0.7 L0.62,0.7"/><path transform="translate(0.86,0)" d="M0.17,0 L0.43,0 L0.56,0.1 L0.6,0.3 L0.6,0.7 L0.56,0.9 L0.43,1 L0.17,1 L0.04,0.9 L0,0.7 L0,0.3 L0.04,0.1 Z"/></g>
<line x1="753" y1="499" x2="770" y2="499" stroke="#ffffff" stroke-width="1" stroke-linecap="butt"/>
<line x1="752.6" y1="471.3" x2="757" y2="486" stroke="#ffffff" stroke-width="1" stroke-linecap="butt"/>
<line x1="752.6" y1="488" x2="752.6" y2="499" stroke="#ffffff" stroke-width="1" stroke-linecap="butt"/>
<line x1="743.4" y1="479.3" x2="743.4" y2="529.5" stroke="#00ff00" stroke-width="1" stroke-linecap="butt"/>
<line x1="733.3" y1="479.3" x2="749.7" y2="479.3" stroke="#00ff00" stroke-width="1" stroke-linecap="butt"/>
<line x1="733.3" y1="529.5" x2="749.7" y2="529.5" stroke="#00ff00" stroke-width="1" stroke-linecap="butt"/>
<line x1="739.8" y1="475.7" x2="747" y2="482.9" stroke="#ff00ff" stroke-width="1.5" stroke-linecap="butt"/>
<line x1="739.8" y1="525.9" x2="747" y2="533.1" stroke="#ff00ff" stroke-width="1.5" stroke-linecap="butt"/>
<line x1="738.5" y1="479.3" x2="748.5" y2="479.3" stroke="#ffffff" stroke-width="1" stroke-linecap="butt"/>
<line x1="738.5" y1="529.5" x2="748.5" y2="529.5" stroke="#ffffff" stroke-width="1" stroke-linecap="butt"/>
<line x1="721.8" y1="506.2" x2="834" y2="506.2" stroke="#ffffff" stroke-width="1" stroke-linecap="butt"/>
<ellipse cx="821.7" cy="505.6" rx="12" ry="12" stroke="#ffffff" stroke-width="1" fill="none"/>
<polyline points="820.5,497.5 823.7,495.6 823.7,506.2" stroke="#ffffff" stroke-width="1" fill="none" stroke-linejoin="miter" stroke-linecap="butt"/>
<line x1="815" y1="511.6" x2="828.9" y2="511.6" stroke="#ffffff" stroke-width="1" stroke-linecap="butt"/>
<g transform="translate(755.7,529) rotate(-90) translate(-0,0) scale(10.78,7.1)" fill="none" stroke="#ffffff" stroke-width="1.05" stroke-linejoin="round" stroke-linecap="round" style="vector-effect:non-scaling-stroke"><path transform="translate(0,0)" d="M0.57,0 L0.08,0 L0.03,0.44 Q0.14,0.37 0.3,0.37 Q0.6,0.37 0.6,0.68 Q0.6,1 0.3,1 Q0.1,1 0,0.87"/><path transform="translate(0.86,0)" d="M0.56,0.12 Q0.46,0 0.3,0 Q0,0 0,0.42 L0,0.68 Q0,1 0.3,1 Q0.6,1 0.6,0.68 Q0.6,0.4 0.3,0.4 Q0.06,0.4 0,0.62"/><path transform="translate(1.72,0)" d="M0.17,0 L0.43,0 L0.56,0.1 L0.6,0.3 L0.6,0.7 L0.56,0.9 L0.43,1 L0.17,1 L0.04,0.9 L0,0.7 L0,0.3 L0.04,0.1 Z"/></g>
<g transform="translate(340,514.1) rotate(-90) translate(-0,0) scale(10.3,10)" fill="none" stroke="#ffffff" stroke-width="1.05" stroke-linejoin="round" stroke-linecap="round" style="vector-effect:non-scaling-stroke"><path transform="translate(0,0)" d="M0.57,0 L0.08,0 L0.03,0.44 Q0.14,0.37 0.3,0.37 Q0.6,0.37 0.6,0.68 Q0.6,1 0.3,1 Q0.1,1 0,0.87"/><path transform="translate(0.86,0)" d="M0.56,0.12 Q0.46,0 0.3,0 Q0,0 0,0.42 L0,0.68 Q0,1 0.3,1 Q0.6,1 0.6,0.68 Q0.6,0.4 0.3,0.4 Q0.06,0.4 0,0.62"/><path transform="translate(1.72,0)" d="M0.17,0 L0.43,0 L0.56,0.1 L0.6,0.3 L0.6,0.7 L0.56,0.9 L0.43,1 L0.17,1 L0.04,0.9 L0,0.7 L0,0.3 L0.04,0.1 Z"/></g>
<line x1="352.3" y1="479.3" x2="352.3" y2="529.5" stroke="#00ff00" stroke-width="1" stroke-linecap="butt"/>
<line x1="341" y1="479.3" x2="356.7" y2="479.3" stroke="#ffffff" stroke-width="1" stroke-linecap="butt"/>
<line x1="341" y1="529.5" x2="356.7" y2="529.5" stroke="#ffffff" stroke-width="1" stroke-linecap="butt"/>
<line x1="348.7" y1="475.7" x2="355.9" y2="482.9" stroke="#ff00ff" stroke-width="1.5" stroke-linecap="butt"/>
<line x1="348.7" y1="525.9" x2="355.9" y2="533.1" stroke="#ff00ff" stroke-width="1.5" stroke-linecap="butt"/>
<g transform="translate(711.4,543.5) scale(10.43,9.5)" fill="none" stroke="#ffffff" stroke-width="1.05" stroke-linejoin="round" stroke-linecap="round" style="vector-effect:non-scaling-stroke"><path transform="translate(0,0)" d="M0.02,0.2 Q0.08,0 0.3,0 Q0.58,0 0.58,0.26 Q0.58,0.42 0.42,0.56 L0,1 L0.6,1"/><path transform="translate(0.86,0)" d="M0.46,1 L0.46,0 L0,0.7 L0.62,0.7"/><path transform="translate(1.72,0)" d="M0.17,0 L0.43,0 L0.56,0.1 L0.6,0.3 L0.6,0.7 L0.56,0.9 L0.43,1 L0.17,1 L0.04,0.9 L0,0.7 L0,0.3 L0.04,0.1 Z"/></g>
<line x1="706" y1="538.2" x2="738" y2="538.2" stroke="#00ff00" stroke-width="1" stroke-linecap="butt"/>
<line x1="707.6" y1="541.8" x2="714.8" y2="534.6" stroke="#ff00ff" stroke-width="1.5" stroke-linecap="butt"/>
<line x1="730" y1="541.8" x2="737.2" y2="534.6" stroke="#ff00ff" stroke-width="1.5" stroke-linecap="butt"/>
<line x1="711.2" y1="530" x2="711.2" y2="540" stroke="#00ff00" stroke-width="1" stroke-linecap="butt"/>
<line x1="733.6" y1="530" x2="733.6" y2="540" stroke="#00ff00" stroke-width="1" stroke-linecap="butt"/>
<line x1="707" y1="538.2" x2="715" y2="538.2" stroke="#ffffff" stroke-width="1" stroke-linecap="butt"/>
<line x1="729" y1="538.2" x2="738" y2="538.2" stroke="#ffffff" stroke-width="1" stroke-linecap="butt"/>
<line x1="822.3" y1="285.9" x2="852" y2="285.9" stroke="#ffffff" stroke-width="1" stroke-linecap="butt"/>
<line x1="849.8" y1="280.8" x2="849.8" y2="462.2" stroke="#ffffff" stroke-width="1" stroke-linecap="butt"/>
<line x1="846.2" y1="282.3" x2="853.4" y2="289.5" stroke="#ff00ff" stroke-width="1.5" stroke-linecap="butt"/>
<g transform="translate(834.6,348.5) rotate(-90) translate(-2.31,0) scale(10.49,10.3)" fill="none" stroke="#ffffff" stroke-width="1.05" stroke-linejoin="round" stroke-linecap="round" style="vector-effect:non-scaling-stroke"><path transform="translate(0,0)" d="M0.22,0.2 L0.42,0 L0.42,1"/><path transform="translate(0.8,0)" d="M0.22,0.2 L0.42,0 L0.42,1"/><path transform="translate(1.6,0)" d="M0.02,0.2 Q0.08,0 0.3,0 Q0.58,0 0.58,0.26 Q0.58,0.42 0.42,0.56 L0,1 L0.6,1"/><path transform="translate(2.46,0)" d="M0.57,0 L0.08,0 L0.03,0.44 Q0.14,0.37 0.3,0.37 Q0.6,0.37 0.6,0.68 Q0.6,1 0.3,1 Q0.1,1 0,0.87"/></g>
<line x1="822.3" y1="387.6" x2="829" y2="387.6" stroke="#ffffff" stroke-width="1" stroke-linecap="butt"/>
<line x1="846.4" y1="387.6" x2="854" y2="387.6" stroke="#ffffff" stroke-width="1" stroke-linecap="butt"/>
<line x1="822.3" y1="397.6" x2="854" y2="397.6" stroke="#ffffff" stroke-width="1" stroke-linecap="butt"/>
<line x1="822.3" y1="408.2" x2="829" y2="408.2" stroke="#ffffff" stroke-width="1" stroke-linecap="butt"/>
<line x1="843.5" y1="408.2" x2="854" y2="408.2" stroke="#ffffff" stroke-width="1" stroke-linecap="butt"/>
<line x1="822.3" y1="430.5" x2="854" y2="430.5" stroke="#ffffff" stroke-width="1" stroke-linecap="butt"/>
<line x1="822.3" y1="435.8" x2="854" y2="435.8" stroke="#ffffff" stroke-width="1" stroke-linecap="butt"/>
<line x1="822.3" y1="441" x2="854" y2="441" stroke="#ffffff" stroke-width="1" stroke-linecap="butt"/>
<line x1="822.3" y1="446.3" x2="854" y2="446.3" stroke="#ffffff" stroke-width="1" stroke-linecap="butt"/>
<line x1="822.3" y1="457.5" x2="831.7" y2="457.5" stroke="#ffffff" stroke-width="1" stroke-linecap="butt"/>
<line x1="845.8" y1="457.5" x2="854" y2="457.5" stroke="#ffffff" stroke-width="1" stroke-linecap="butt"/>
<line x1="847" y1="384.8" x2="852.6" y2="390.4" stroke="#ff00ff" stroke-width="1.5" stroke-linecap="butt"/>
<line x1="847" y1="394.8" x2="852.6" y2="400.4" stroke="#ff00ff" stroke-width="1.5" stroke-linecap="butt"/>
<line x1="847" y1="405.4" x2="852.6" y2="411" stroke="#ff00ff" stroke-width="1.5" stroke-linecap="butt"/>
<line x1="847" y1="427.7" x2="852.6" y2="433.3" stroke="#ff00ff" stroke-width="1.5" stroke-linecap="butt"/>
<line x1="847" y1="433" x2="852.6" y2="438.6" stroke="#ff00ff" stroke-width="1.5" stroke-linecap="butt"/>
<line x1="847" y1="438.2" x2="852.6" y2="443.8" stroke="#ff00ff" stroke-width="1.5" stroke-linecap="butt"/>
<line x1="847" y1="443.5" x2="852.6" y2="449.1" stroke="#ff00ff" stroke-width="1.5" stroke-linecap="butt"/>
<line x1="847" y1="454.7" x2="852.6" y2="460.3" stroke="#ff00ff" stroke-width="1.5" stroke-linecap="butt"/>
<g transform="translate(832.9,397.6) rotate(-90) translate(-2.55,0) scale(11.57,10)" fill="none" stroke="#ffffff" stroke-width="1.05" stroke-linejoin="round" stroke-linecap="round" style="vector-effect:non-scaling-stroke"><path transform="translate(0,0)" d="M0.22,0.2 L0.42,0 L0.42,1"/><path transform="translate(0.8,0)" d="M0.02,0.2 Q0.08,0 0.3,0 Q0.58,0 0.58,0.26 Q0.58,0.42 0.42,0.56 L0,1 L0.6,1"/><path transform="translate(1.66,0)" d="M0.17,0 L0.43,0 L0.56,0.1 L0.6,0.3 L0.6,0.7 L0.56,0.9 L0.43,1 L0.17,1 L0.04,0.9 L0,0.7 L0,0.3 L0.04,0.1 Z"/></g>
<g transform="translate(832.3,427.5) rotate(-90) translate(-0,0) scale(10.86,10)" fill="none" stroke="#ffffff" stroke-width="1.05" stroke-linejoin="round" stroke-linecap="round" style="vector-effect:non-scaling-stroke"><path transform="translate(0,0)" d="M0.02,0.2 Q0.08,0 0.3,0 Q0.58,0 0.58,0.26 Q0.58,0.42 0.42,0.56 L0,1 L0.6,1"/><path transform="translate(0.86,0)" d="M0.46,1 L0.46,0 L0,0.7 L0.62,0.7"/><path transform="translate(1.72,0)" d="M0.17,0 L0.43,0 L0.56,0.1 L0.6,0.3 L0.6,0.7 L0.56,0.9 L0.43,1 L0.17,1 L0.04,0.9 L0,0.7 L0,0.3 L0.04,0.1 Z"/></g>
<g transform="translate(857,413.5) rotate(-90) translate(-2.16,0) scale(9.8,8.8)" fill="none" stroke="#ffffff" stroke-width="1.05" stroke-linejoin="round" stroke-linecap="round" style="vector-effect:non-scaling-stroke"><path transform="translate(0,0)" d="M0.22,0.2 L0.42,0 L0.42,1"/><path transform="translate(0.8,0)" d="M0.02,0.2 Q0.08,0 0.3,0 Q0.58,0 0.58,0.26 Q0.58,0.42 0.42,0.56 L0,1 L0.6,1"/><path transform="translate(1.66,0)" d="M0.17,0 L0.43,0 L0.56,0.1 L0.6,0.3 L0.6,0.7 L0.56,0.9 L0.43,1 L0.17,1 L0.04,0.9 L0,0.7 L0,0.3 L0.04,0.1 Z"/></g>
<g transform="translate(861,435.2) rotate(-90) translate(-0,0) scale(10.89,8.3)" fill="none" stroke="#ffffff" stroke-width="1.05" stroke-linejoin="round" stroke-linecap="round" style="vector-effect:non-scaling-stroke"><path transform="translate(0,0)" d="M0.56,0.12 Q0.46,0 0.3,0 Q0,0 0,0.42 L0,0.68 Q0,1 0.3,1 Q0.6,1 0.6,0.68 Q0.6,0.4 0.3,0.4 Q0.06,0.4 0,0.62"/><path transform="translate(0.86,0)" d="M0.17,0 L0.43,0 L0.56,0.1 L0.6,0.3 L0.6,0.7 L0.56,0.9 L0.43,1 L0.17,1 L0.04,0.9 L0,0.7 L0,0.3 L0.04,0.1 Z"/></g>
<line x1="869.9" y1="420" x2="869.9" y2="442.2" stroke="#ffffff" stroke-width="1" stroke-linecap="butt"/>
<line x1="869.9" y1="442.2" x2="850.5" y2="430.5" stroke="#ffffff" stroke-width="0.8" stroke-linecap="butt"/>
<line x1="869.9" y1="442.2" x2="850.5" y2="435.8" stroke="#ffffff" stroke-width="0.8" stroke-linecap="butt"/>
<line x1="869.9" y1="442.2" x2="850.5" y2="441" stroke="#ffffff" stroke-width="0.8" stroke-linecap="butt"/>
<g transform="translate(833.5,467) rotate(-90) translate(-2.1,0) scale(9.56,9.4)" fill="none" stroke="#ffffff" stroke-width="1.05" stroke-linejoin="round" stroke-linecap="round" style="vector-effect:non-scaling-stroke"><path transform="translate(0,0)" d="M0.22,0.2 L0.42,0 L0.42,1"/><path transform="translate(0.8,0)" d="M0.02,0.2 Q0.08,0 0.3,0 Q0.58,0 0.58,0.26 Q0.58,0.42 0.42,0.56 L0,1 L0.6,1"/><path transform="translate(1.66,0)" d="M0.17,0 L0.43,0 L0.56,0.1 L0.6,0.3 L0.6,0.7 L0.56,0.9 L0.43,1 L0.17,1 L0.04,0.9 L0,0.7 L0,0.3 L0.04,0.1 Z"/></g>
<g transform="translate(463,413) scale(9.97,10.5)" fill="none" stroke="#ffffff" stroke-width="1.05" stroke-linejoin="round" stroke-linecap="round" style="vector-effect:non-scaling-stroke"><path transform="translate(0,0)" d="M0.56,0.12 Q0.46,0 0.3,0 Q0,0 0,0.42 L0,0.68 Q0,1 0.3,1 Q0.6,1 0.6,0.68 Q0.6,0.4 0.3,0.4 Q0.06,0.4 0,0.62"/><path transform="translate(0.86,0)" d="M0.08,0.88 L0.08,1"/><path transform="translate(1.28,0)" d="M0.22,0.2 L0.42,0 L0.42,1"/><path transform="translate(2.08,0)" d="M0.6,0.34 Q0.56,0.58 0.3,0.58 Q0,0.58 0,0.3 Q0,0 0.3,0 Q0.6,0 0.6,0.34 L0.6,0.58 Q0.6,1 0.3,1 Q0.12,1 0.04,0.9"/><path transform="translate(2.94,0)" d="M0.57,0 L0.08,0 L0.03,0.44 Q0.14,0.37 0.3,0.37 Q0.6,0.37 0.6,0.68 Q0.6,1 0.3,1 Q0.1,1 0,0.87"/></g>
<line x1="448" y1="425" x2="493" y2="425" stroke="#ff00ff" stroke-width="1" stroke-linecap="butt"/>
<polyline points="448.2,424.6 456.4,430.2 464.2,424.6" stroke="#ff00ff" stroke-width="1" fill="none" stroke-linejoin="miter" stroke-linecap="butt"/>
<line x1="39.9" y1="511.3" x2="48.9" y2="511.3" stroke="#ffffff" stroke-width="1" stroke-linecap="butt"/>
<line x1="44.4" y1="506.3" x2="44.4" y2="516.3" stroke="#ffffff" stroke-width="1" stroke-linecap="butt"/>
<line x1="114.5" y1="511.3" x2="123.5" y2="511.3" stroke="#ffffff" stroke-width="1" stroke-linecap="butt"/>
<line x1="119" y1="506.3" x2="119" y2="516.3" stroke="#ffffff" stroke-width="1" stroke-linecap="butt"/>
<line x1="136.5" y1="511.3" x2="145.5" y2="511.3" stroke="#ffffff" stroke-width="1" stroke-linecap="butt"/>
<line x1="141" y1="506.3" x2="141" y2="516.3" stroke="#ffffff" stroke-width="1" stroke-linecap="butt"/>
<line x1="195.7" y1="511.3" x2="204.7" y2="511.3" stroke="#ffffff" stroke-width="1" stroke-linecap="butt"/>
<line x1="200.2" y1="506.3" x2="200.2" y2="516.3" stroke="#ffffff" stroke-width="1" stroke-linecap="butt"/>
<line x1="217.8" y1="511.3" x2="226.8" y2="511.3" stroke="#ffffff" stroke-width="1" stroke-linecap="butt"/>
<line x1="222.3" y1="506.3" x2="222.3" y2="516.3" stroke="#ffffff" stroke-width="1" stroke-linecap="butt"/>
<line x1="278.4" y1="511.3" x2="287.4" y2="511.3" stroke="#ffffff" stroke-width="1" stroke-linecap="butt"/>
<line x1="282.9" y1="506.3" x2="282.9" y2="516.3" stroke="#ffffff" stroke-width="1" stroke-linecap="butt"/>
<line x1="298.5" y1="511.3" x2="307.5" y2="511.3" stroke="#ffffff" stroke-width="1" stroke-linecap="butt"/>
<line x1="303" y1="506.3" x2="303" y2="516.3" stroke="#ffffff" stroke-width="1" stroke-linecap="butt"/>
<line x1="40.8" y1="514.9" x2="48" y2="507.7" stroke="#ff00ff" stroke-width="1.5" stroke-linecap="butt"/>
<line x1="115.4" y1="514.9" x2="122.6" y2="507.7" stroke="#ff00ff" stroke-width="1.5" stroke-linecap="butt"/>
<line x1="137.4" y1="514.9" x2="144.6" y2="507.7" stroke="#ff00ff" stroke-width="1.5" stroke-linecap="butt"/>
<line x1="196.6" y1="514.9" x2="203.8" y2="507.7" stroke="#ff00ff" stroke-width="1.5" stroke-linecap="butt"/>
<line x1="218.7" y1="514.9" x2="225.9" y2="507.7" stroke="#ff00ff" stroke-width="1.5" stroke-linecap="butt"/>
<line x1="279.3" y1="514.9" x2="286.5" y2="507.7" stroke="#ff00ff" stroke-width="1.5" stroke-linecap="butt"/>
<line x1="299.4" y1="514.9" x2="306.6" y2="507.7" stroke="#ff00ff" stroke-width="1.5" stroke-linecap="butt"/>
<line x1="39.9" y1="549.6" x2="48.9" y2="549.6" stroke="#ffffff" stroke-width="1" stroke-linecap="butt"/>
<line x1="44.4" y1="544.6" x2="44.4" y2="554.6" stroke="#ffffff" stroke-width="1" stroke-linecap="butt"/>
<line x1="158.8" y1="549.6" x2="167.8" y2="549.6" stroke="#ffffff" stroke-width="1" stroke-linecap="butt"/>
<line x1="163.3" y1="544.6" x2="163.3" y2="554.6" stroke="#ffffff" stroke-width="1" stroke-linecap="butt"/>
<line x1="250.5" y1="549.6" x2="259.5" y2="549.6" stroke="#ffffff" stroke-width="1" stroke-linecap="butt"/>
<line x1="255" y1="544.6" x2="255" y2="554.6" stroke="#ffffff" stroke-width="1" stroke-linecap="butt"/>
<line x1="278.4" y1="549.6" x2="287.4" y2="549.6" stroke="#ffffff" stroke-width="1" stroke-linecap="butt"/>
<line x1="282.9" y1="544.6" x2="282.9" y2="554.6" stroke="#ffffff" stroke-width="1" stroke-linecap="butt"/>
<line x1="298.5" y1="549.6" x2="307.5" y2="549.6" stroke="#ffffff" stroke-width="1" stroke-linecap="butt"/>
<line x1="303" y1="544.6" x2="303" y2="554.6" stroke="#ffffff" stroke-width="1" stroke-linecap="butt"/>
<line x1="40.8" y1="553.2" x2="48" y2="546" stroke="#ff00ff" stroke-width="1.5" stroke-linecap="butt"/>
<line x1="159.7" y1="553.2" x2="166.9" y2="546" stroke="#ff00ff" stroke-width="1.5" stroke-linecap="butt"/>
<line x1="251.4" y1="553.2" x2="258.6" y2="546" stroke="#ff00ff" stroke-width="1.5" stroke-linecap="butt"/>
<line x1="279.3" y1="553.2" x2="286.5" y2="546" stroke="#ff00ff" stroke-width="1.5" stroke-linecap="butt"/>
<line x1="299.4" y1="553.2" x2="306.6" y2="546" stroke="#ff00ff" stroke-width="1.5" stroke-linecap="butt"/>
<line x1="352.2" y1="551.5" x2="361.2" y2="551.5" stroke="#ffffff" stroke-width="1" stroke-linecap="butt"/>
<line x1="356.7" y1="546.5" x2="356.7" y2="556.5" stroke="#ffffff" stroke-width="1" stroke-linecap="butt"/>
<line x1="374.7" y1="551.5" x2="383.7" y2="551.5" stroke="#ffffff" stroke-width="1" stroke-linecap="butt"/>
<line x1="379.2" y1="546.5" x2="379.2" y2="556.5" stroke="#ffffff" stroke-width="1" stroke-linecap="butt"/>
<line x1="437.5" y1="551.5" x2="446.5" y2="551.5" stroke="#ffffff" stroke-width="1" stroke-linecap="butt"/>
<line x1="442" y1="546.5" x2="442" y2="556.5" stroke="#ffffff" stroke-width="1" stroke-linecap="butt"/>
<line x1="459.2" y1="551.5" x2="468.2" y2="551.5" stroke="#ffffff" stroke-width="1" stroke-linecap="butt"/>
<line x1="463.7" y1="546.5" x2="463.7" y2="556.5" stroke="#ffffff" stroke-width="1" stroke-linecap="butt"/>
<line x1="584.5" y1="551.5" x2="593.5" y2="551.5" stroke="#ffffff" stroke-width="1" stroke-linecap="butt"/>
<line x1="589" y1="546.5" x2="589" y2="556.5" stroke="#ffffff" stroke-width="1" stroke-linecap="butt"/>
<line x1="605.3" y1="551.5" x2="614.3" y2="551.5" stroke="#ffffff" stroke-width="1" stroke-linecap="butt"/>
<line x1="609.8" y1="546.5" x2="609.8" y2="556.5" stroke="#ffffff" stroke-width="1" stroke-linecap="butt"/>
<line x1="668.9" y1="551.5" x2="677.9" y2="551.5" stroke="#ffffff" stroke-width="1" stroke-linecap="butt"/>
<line x1="673.4" y1="546.5" x2="673.4" y2="556.5" stroke="#ffffff" stroke-width="1" stroke-linecap="butt"/>
<line x1="690.5" y1="551.5" x2="699.5" y2="551.5" stroke="#ffffff" stroke-width="1" stroke-linecap="butt"/>
<line x1="695" y1="546.5" x2="695" y2="556.5" stroke="#ffffff" stroke-width="1" stroke-linecap="butt"/>
<line x1="353.1" y1="555.1" x2="360.3" y2="547.9" stroke="#ff00ff" stroke-width="1.5" stroke-linecap="butt"/>
<line x1="375.6" y1="555.1" x2="382.8" y2="547.9" stroke="#ff00ff" stroke-width="1.5" stroke-linecap="butt"/>
<line x1="438.4" y1="555.1" x2="445.6" y2="547.9" stroke="#ff00ff" stroke-width="1.5" stroke-linecap="butt"/>
<line x1="460.1" y1="555.1" x2="467.3" y2="547.9" stroke="#ff00ff" stroke-width="1.5" stroke-linecap="butt"/>
<line x1="585.4" y1="555.1" x2="592.6" y2="547.9" stroke="#ff00ff" stroke-width="1.5" stroke-linecap="butt"/>
<line x1="606.2" y1="555.1" x2="613.4" y2="547.9" stroke="#ff00ff" stroke-width="1.5" stroke-linecap="butt"/>
<line x1="669.8" y1="555.1" x2="677" y2="547.9" stroke="#ff00ff" stroke-width="1.5" stroke-linecap="butt"/>
<line x1="691.4" y1="555.1" x2="698.6" y2="547.9" stroke="#ff00ff" stroke-width="1.5" stroke-linecap="butt"/>
<line x1="352.2" y1="585.3" x2="361.2" y2="585.3" stroke="#ffffff" stroke-width="1" stroke-linecap="butt"/>
<line x1="356.7" y1="580.3" x2="356.7" y2="590.3" stroke="#ffffff" stroke-width="1" stroke-linecap="butt"/>
<line x1="374.7" y1="585.3" x2="383.7" y2="585.3" stroke="#ffffff" stroke-width="1" stroke-linecap="butt"/>
<line x1="379.2" y1="580.3" x2="379.2" y2="590.3" stroke="#ffffff" stroke-width="1" stroke-linecap="butt"/>
<line x1="428.5" y1="585.3" x2="437.5" y2="585.3" stroke="#ffffff" stroke-width="1" stroke-linecap="butt"/>
<line x1="433" y1="580.3" x2="433" y2="590.3" stroke="#ffffff" stroke-width="1" stroke-linecap="butt"/>
<line x1="555.5" y1="585.3" x2="564.5" y2="585.3" stroke="#ffffff" stroke-width="1" stroke-linecap="butt"/>
<line x1="560" y1="580.3" x2="560" y2="590.3" stroke="#ffffff" stroke-width="1" stroke-linecap="butt"/>
<line x1="614.5" y1="585.3" x2="623.5" y2="585.3" stroke="#ffffff" stroke-width="1" stroke-linecap="butt"/>
<line x1="619" y1="580.3" x2="619" y2="590.3" stroke="#ffffff" stroke-width="1" stroke-linecap="butt"/>
<line x1="668.9" y1="585.3" x2="677.9" y2="585.3" stroke="#ffffff" stroke-width="1" stroke-linecap="butt"/>
<line x1="673.4" y1="580.3" x2="673.4" y2="590.3" stroke="#ffffff" stroke-width="1" stroke-linecap="butt"/>
<line x1="690.5" y1="585.3" x2="699.5" y2="585.3" stroke="#ffffff" stroke-width="1" stroke-linecap="butt"/>
<line x1="695" y1="580.3" x2="695" y2="590.3" stroke="#ffffff" stroke-width="1" stroke-linecap="butt"/>
<line x1="353.1" y1="588.9" x2="360.3" y2="581.7" stroke="#ff00ff" stroke-width="1.5" stroke-linecap="butt"/>
<line x1="375.6" y1="588.9" x2="382.8" y2="581.7" stroke="#ff00ff" stroke-width="1.5" stroke-linecap="butt"/>
<line x1="429.4" y1="588.9" x2="436.6" y2="581.7" stroke="#ff00ff" stroke-width="1.5" stroke-linecap="butt"/>
<line x1="556.4" y1="588.9" x2="563.6" y2="581.7" stroke="#ff00ff" stroke-width="1.5" stroke-linecap="butt"/>
<line x1="615.4" y1="588.9" x2="622.6" y2="581.7" stroke="#ff00ff" stroke-width="1.5" stroke-linecap="butt"/>
<line x1="669.8" y1="588.9" x2="677" y2="581.7" stroke="#ff00ff" stroke-width="1.5" stroke-linecap="butt"/>
<line x1="691.4" y1="588.9" x2="698.6" y2="581.7" stroke="#ff00ff" stroke-width="1.5" stroke-linecap="butt"/>
<line x1="316" y1="538.2" x2="325" y2="538.2" stroke="#ffffff" stroke-width="1" stroke-linecap="butt"/>
<line x1="320.5" y1="533.2" x2="320.5" y2="543.2" stroke="#ffffff" stroke-width="1" stroke-linecap="butt"/>
<line x1="336.9" y1="538.2" x2="345.9" y2="538.2" stroke="#ffffff" stroke-width="1" stroke-linecap="butt"/>
<line x1="341.4" y1="533.2" x2="341.4" y2="543.2" stroke="#ffffff" stroke-width="1" stroke-linecap="butt"/>
<line x1="706.7" y1="538.2" x2="715.7" y2="538.2" stroke="#ffffff" stroke-width="1" stroke-linecap="butt"/>
<line x1="711.2" y1="533.2" x2="711.2" y2="543.2" stroke="#ffffff" stroke-width="1" stroke-linecap="butt"/>
<line x1="729.1" y1="538.2" x2="738.1" y2="538.2" stroke="#ffffff" stroke-width="1" stroke-linecap="butt"/>
<line x1="733.6" y1="533.2" x2="733.6" y2="543.2" stroke="#ffffff" stroke-width="1" stroke-linecap="butt"/>
<line x1="316.9" y1="541.8" x2="324.1" y2="534.6" stroke="#ff00ff" stroke-width="1.5" stroke-linecap="butt"/>
<line x1="337.8" y1="541.8" x2="345" y2="534.6" stroke="#ff00ff" stroke-width="1.5" stroke-linecap="butt"/>
<line x1="707.6" y1="541.8" x2="714.8" y2="534.6" stroke="#ff00ff" stroke-width="1.5" stroke-linecap="butt"/>
<line x1="730" y1="541.8" x2="737.2" y2="534.6" stroke="#ff00ff" stroke-width="1.5" stroke-linecap="butt"/>
<polyline points="261.5,666.4 322.4,666.4 323.7,659.4 339,673.7 340.5,666.4 413.6,666.4" stroke="#ffffff" stroke-width="1" fill="none" stroke-linejoin="miter" stroke-linecap="butt"/>
<polyline points="652.7,666.1 714,666.1 714.9,659.2 731.3,673 732.2,666.1 768,666.1" stroke="#ffffff" stroke-width="1" fill="none" stroke-linejoin="miter" stroke-linecap="butt"/>
<line x1="773" y1="666.1" x2="775" y2="666.1" stroke="#ffffff" stroke-width="1" stroke-linecap="butt"/>
<line x1="778" y1="666.1" x2="780" y2="666.1" stroke="#ffffff" stroke-width="1" stroke-linecap="butt"/>
<line x1="783" y1="666.1" x2="785" y2="666.1" stroke="#ffffff" stroke-width="1" stroke-linecap="butt"/>
<line x1="277" y1="689" x2="402" y2="689" stroke="#00ff00" stroke-width="1" stroke-linecap="butt"/>
<line x1="278.4" y1="692.6" x2="285.6" y2="685.4" stroke="#ff00ff" stroke-width="1.5" stroke-linecap="butt"/>
<line x1="282" y1="684" x2="282" y2="694" stroke="#ffffff" stroke-width="1" stroke-linecap="butt"/>
<line x1="299.4" y1="692.6" x2="306.6" y2="685.4" stroke="#ff00ff" stroke-width="1.5" stroke-linecap="butt"/>
<line x1="303" y1="684" x2="303" y2="694" stroke="#ffffff" stroke-width="1" stroke-linecap="butt"/>
<line x1="353" y1="692.6" x2="360.2" y2="685.4" stroke="#ff00ff" stroke-width="1.5" stroke-linecap="butt"/>
<line x1="356.6" y1="684" x2="356.6" y2="694" stroke="#ffffff" stroke-width="1" stroke-linecap="butt"/>
<line x1="375" y1="692.6" x2="382.2" y2="685.4" stroke="#ff00ff" stroke-width="1.5" stroke-linecap="butt"/>
<line x1="378.6" y1="684" x2="378.6" y2="694" stroke="#ffffff" stroke-width="1" stroke-linecap="butt"/>
<line x1="394" y1="692.6" x2="401.2" y2="685.4" stroke="#ff00ff" stroke-width="1.5" stroke-linecap="butt"/>
<line x1="397.6" y1="684" x2="397.6" y2="694" stroke="#ffffff" stroke-width="1" stroke-linecap="butt"/>
<line x1="282" y1="678" x2="282" y2="689" stroke="#00ff00" stroke-width="1" stroke-linecap="butt"/>
<g transform="translate(285,671) scale(10.52,10.5)" fill="none" stroke="#ffffff" stroke-width="1.05" stroke-linejoin="round" stroke-linecap="round" style="vector-effect:non-scaling-stroke"><path transform="translate(0,0)" d="M0.02,0.2 Q0.08,0 0.3,0 Q0.58,0 0.58,0.26 Q0.58,0.42 0.42,0.56 L0,1 L0.6,1"/><path transform="translate(0.86,0)" d="M0.46,1 L0.46,0 L0,0.7 L0.62,0.7"/><path transform="translate(1.72,0)" d="M0.17,0 L0.43,0 L0.56,0.1 L0.6,0.3 L0.6,0.7 L0.56,0.9 L0.43,1 L0.17,1 L0.04,0.9 L0,0.7 L0,0.3 L0.04,0.1 Z"/></g>
<g transform="translate(320,676) scale(10.52,10.6)" fill="none" stroke="#ffffff" stroke-width="1.05" stroke-linejoin="round" stroke-linecap="round" style="vector-effect:non-scaling-stroke"><path transform="translate(0,0)" d="M0.56,0.12 Q0.46,0 0.3,0 Q0,0 0,0.42 L0,0.68 Q0,1 0.3,1 Q0.6,1 0.6,0.68 Q0.6,0.4 0.3,0.4 Q0.06,0.4 0,0.62"/><path transform="translate(0.86,0)" d="M0.17,0 L0.43,0 L0.56,0.1 L0.6,0.3 L0.6,0.7 L0.56,0.9 L0.43,1 L0.17,1 L0.04,0.9 L0,0.7 L0,0.3 L0.04,0.1 Z"/><path transform="translate(1.72,0)" d="M0.17,0 L0.43,0 L0.56,0.1 L0.6,0.3 L0.6,0.7 L0.56,0.9 L0.43,1 L0.17,1 L0.04,0.9 L0,0.7 L0,0.3 L0.04,0.1 Z"/></g>
<g transform="translate(356,672.4) scale(9.92,10.4)" fill="none" stroke="#ffffff" stroke-width="1.05" stroke-linejoin="round" stroke-linecap="round" style="vector-effect:non-scaling-stroke"><path transform="translate(0,0)" d="M0.02,0.2 Q0.08,0 0.3,0 Q0.58,0 0.58,0.26 Q0.58,0.42 0.42,0.56 L0,1 L0.6,1"/><path transform="translate(0.86,0)" d="M0.46,1 L0.46,0 L0,0.7 L0.62,0.7"/><path transform="translate(1.72,0)" d="M0.17,0 L0.43,0 L0.56,0.1 L0.6,0.3 L0.6,0.7 L0.56,0.9 L0.43,1 L0.17,1 L0.04,0.9 L0,0.7 L0,0.3 L0.04,0.1 Z"/><path transform="translate(2.58,0)" d="M0.22,0.2 L0.42,0 L0.42,1"/><path transform="translate(3.38,0)" d="M0.3,0.45 L0.16,0.45 Q0.05,0.45 0.05,0.3 L0.05,0.15 Q0.05,0 0.2,0 L0.4,0 Q0.55,0 0.55,0.15 L0.55,0.3 Q0.55,0.45 0.4,0.45 L0.2,0.45 Q0,0.45 0,0.62 L0,0.82 Q0,1 0.18,1 L0.42,1 Q0.6,1 0.6,0.82 L0.6,0.62 Q0.6,0.45 0.4,0.45"/><path transform="translate(4.24,0)" d="M0.17,0 L0.43,0 L0.56,0.1 L0.6,0.3 L0.6,0.7 L0.56,0.9 L0.43,1 L0.17,1 L0.04,0.9 L0,0.7 L0,0.3 L0.04,0.1 Z"/></g>
<line x1="267" y1="722.4" x2="398" y2="722.4" stroke="#00ff00" stroke-width="1" stroke-linecap="butt"/>
<line x1="268.2" y1="726" x2="275.4" y2="718.8" stroke="#ff00ff" stroke-width="1.5" stroke-linecap="butt"/>
<line x1="271.8" y1="717" x2="271.8" y2="736" stroke="#ffffff" stroke-width="1" stroke-linecap="butt"/>
<line x1="279.9" y1="726" x2="287.1" y2="718.8" stroke="#ff00ff" stroke-width="1.5" stroke-linecap="butt"/>
<line x1="283.5" y1="717" x2="283.5" y2="736" stroke="#ffffff" stroke-width="1" stroke-linecap="butt"/>
<line x1="301.9" y1="726" x2="309.1" y2="718.8" stroke="#ff00ff" stroke-width="1.5" stroke-linecap="butt"/>
<line x1="305.5" y1="717" x2="305.5" y2="736" stroke="#ffffff" stroke-width="1" stroke-linecap="butt"/>
<line x1="318.3" y1="726" x2="325.5" y2="718.8" stroke="#ff00ff" stroke-width="1.5" stroke-linecap="butt"/>
<line x1="321.9" y1="717" x2="321.9" y2="736" stroke="#ffffff" stroke-width="1" stroke-linecap="butt"/>
<line x1="340.3" y1="726" x2="347.5" y2="718.8" stroke="#ff00ff" stroke-width="1.5" stroke-linecap="butt"/>
<line x1="343.9" y1="717" x2="343.9" y2="736" stroke="#ffffff" stroke-width="1" stroke-linecap="butt"/>
<line x1="355.9" y1="726" x2="363.1" y2="718.8" stroke="#ff00ff" stroke-width="1.5" stroke-linecap="butt"/>
<line x1="359.5" y1="717" x2="359.5" y2="736" stroke="#ffffff" stroke-width="1" stroke-linecap="butt"/>
<line x1="377.6" y1="726" x2="384.8" y2="718.8" stroke="#ff00ff" stroke-width="1.5" stroke-linecap="butt"/>
<line x1="381.2" y1="717" x2="381.2" y2="736" stroke="#ffffff" stroke-width="1" stroke-linecap="butt"/>
<line x1="389.5" y1="726" x2="396.7" y2="718.8" stroke="#ff00ff" stroke-width="1.5" stroke-linecap="butt"/>
<line x1="393.1" y1="717" x2="393.1" y2="736" stroke="#ffffff" stroke-width="1" stroke-linecap="butt"/>
<line x1="283.5" y1="722.4" x2="283.5" y2="735" stroke="#00ff00" stroke-width="1" stroke-linecap="butt"/>
<line x1="321.9" y1="722.4" x2="321.9" y2="735" stroke="#00ff00" stroke-width="1" stroke-linecap="butt"/>
<line x1="343.9" y1="722.4" x2="343.9" y2="735" stroke="#00ff00" stroke-width="1" stroke-linecap="butt"/>
<line x1="381.2" y1="722.4" x2="381.2" y2="735" stroke="#00ff00" stroke-width="1" stroke-linecap="butt"/>
<g transform="translate(256.67,706) scale(10.61,11.8)" fill="none" stroke="#ffffff" stroke-width="1.05" stroke-linejoin="round" stroke-linecap="round" style="vector-effect:non-scaling-stroke"><path transform="translate(0,0)" d="M0.22,0.2 L0.42,0 L0.42,1"/><path transform="translate(0.8,0)" d="M0.03,0.12 Q0.13,0 0.3,0 Q0.57,0 0.57,0.24 Q0.57,0.46 0.28,0.46 Q0.6,0.46 0.6,0.72 Q0.6,1 0.3,1 Q0.1,1 0,0.86"/><path transform="translate(1.66,0)" d="M0.17,0 L0.43,0 L0.56,0.1 L0.6,0.3 L0.6,0.7 L0.56,0.9 L0.43,1 L0.17,1 L0.04,0.9 L0,0.7 L0,0.3 L0.04,0.1 Z"/><path transform="translate(2.52,0)" d="M0.02,0.2 Q0.08,0 0.3,0 Q0.58,0 0.58,0.26 Q0.58,0.42 0.42,0.56 L0,1 L0.6,1"/><path transform="translate(3.38,0)" d="M0.46,1 L0.46,0 L0,0.7 L0.62,0.7"/><path transform="translate(4.24,0)" d="M0.17,0 L0.43,0 L0.56,0.1 L0.6,0.3 L0.6,0.7 L0.56,0.9 L0.43,1 L0.17,1 L0.04,0.9 L0,0.7 L0,0.3 L0.04,0.1 Z"/></g>
<g transform="translate(321,706) scale(10.65,11.8)" fill="none" stroke="#ffffff" stroke-width="1.05" stroke-linejoin="round" stroke-linecap="round" style="vector-effect:non-scaling-stroke"><path transform="translate(0,0)" d="M0.02,0.2 Q0.08,0 0.3,0 Q0.58,0 0.58,0.26 Q0.58,0.42 0.42,0.56 L0,1 L0.6,1"/><path transform="translate(0.86,0)" d="M0.46,1 L0.46,0 L0,0.7 L0.62,0.7"/><path transform="translate(1.72,0)" d="M0.17,0 L0.43,0 L0.56,0.1 L0.6,0.3 L0.6,0.7 L0.56,0.9 L0.43,1 L0.17,1 L0.04,0.9 L0,0.7 L0,0.3 L0.04,0.1 Z"/></g>
<g transform="translate(358.7,706) scale(9.57,11.8)" fill="none" stroke="#ffffff" stroke-width="1.05" stroke-linejoin="round" stroke-linecap="round" style="vector-effect:non-scaling-stroke"><path transform="translate(0,0)" d="M0.02,0.2 Q0.08,0 0.3,0 Q0.58,0 0.58,0.26 Q0.58,0.42 0.42,0.56 L0,1 L0.6,1"/><path transform="translate(0.86,0)" d="M0.46,1 L0.46,0 L0,0.7 L0.62,0.7"/><path transform="translate(1.72,0)" d="M0.17,0 L0.43,0 L0.56,0.1 L0.6,0.3 L0.6,0.7 L0.56,0.9 L0.43,1 L0.17,1 L0.04,0.9 L0,0.7 L0,0.3 L0.04,0.1 Z"/><path transform="translate(2.58,0)" d="M0.22,0.2 L0.42,0 L0.42,1"/><path transform="translate(3.38,0)" d="M0.03,0.12 Q0.13,0 0.3,0 Q0.57,0 0.57,0.24 Q0.57,0.46 0.28,0.46 Q0.6,0.46 0.6,0.72 Q0.6,1 0.3,1 Q0.1,1 0,0.86"/><path transform="translate(4.24,0)" d="M0.17,0 L0.43,0 L0.56,0.1 L0.6,0.3 L0.6,0.7 L0.56,0.9 L0.43,1 L0.17,1 L0.04,0.9 L0,0.7 L0,0.3 L0.04,0.1 Z"/></g>
<g transform="translate(300.63,729.4) scale(10.78,10.4)" fill="none" stroke="#ffffff" stroke-width="1.05" stroke-linejoin="round" stroke-linecap="round" style="vector-effect:non-scaling-stroke"><path transform="translate(0,0)" d="M0.22,0.2 L0.42,0 L0.42,1"/><path transform="translate(0.8,0)" d="M0.3,0.45 L0.16,0.45 Q0.05,0.45 0.05,0.3 L0.05,0.15 Q0.05,0 0.2,0 L0.4,0 Q0.55,0 0.55,0.15 L0.55,0.3 Q0.55,0.45 0.4,0.45 L0.2,0.45 Q0,0.45 0,0.62 L0,0.82 Q0,1 0.18,1 L0.42,1 Q0.6,1 0.6,0.82 L0.6,0.62 Q0.6,0.45 0.4,0.45"/><path transform="translate(1.66,0)" d="M0.17,0 L0.43,0 L0.56,0.1 L0.6,0.3 L0.6,0.7 L0.56,0.9 L0.43,1 L0.17,1 L0.04,0.9 L0,0.7 L0,0.3 L0.04,0.1 Z"/></g>
<g transform="translate(338.12,730.5) scale(10.83,10.5)" fill="none" stroke="#ffffff" stroke-width="1.05" stroke-linejoin="round" stroke-linecap="round" style="vector-effect:non-scaling-stroke"><path transform="translate(0,0)" d="M0.22,0.2 L0.42,0 L0.42,1"/><path transform="translate(0.8,0)" d="M0.3,0.45 L0.16,0.45 Q0.05,0.45 0.05,0.3 L0.05,0.15 Q0.05,0 0.2,0 L0.4,0 Q0.55,0 0.55,0.15 L0.55,0.3 Q0.55,0.45 0.4,0.45 L0.2,0.45 Q0,0.45 0,0.62 L0,0.82 Q0,1 0.18,1 L0.42,1 Q0.6,1 0.6,0.82 L0.6,0.62 Q0.6,0.45 0.4,0.45"/><path transform="translate(1.66,0)" d="M0.17,0 L0.43,0 L0.56,0.1 L0.6,0.3 L0.6,0.7 L0.56,0.9 L0.43,1 L0.17,1 L0.04,0.9 L0,0.7 L0,0.3 L0.04,0.1 Z"/></g>
<line x1="262.8" y1="745" x2="415.7" y2="745" stroke="#ffffff" stroke-width="1" stroke-linecap="butt"/>
<line x1="323.7" y1="738.5" x2="341.8" y2="754" stroke="#ffffff" stroke-width="1" stroke-linecap="butt"/>
<polyline points="331.5,761.8 424.8,736 490,736" stroke="#ffffff" stroke-width="1" fill="none" stroke-linejoin="miter" stroke-linecap="butt"/>
<g transform="translate(432.5,723) scale(9.65,10.3)" fill="none" stroke="#ffffff" stroke-width="1.05" stroke-linejoin="round" stroke-linecap="round" style="vector-effect:non-scaling-stroke"><path transform="translate(0,0)" d="M0.02,0.2 Q0.08,0 0.3,0 Q0.58,0 0.58,0.25 Q0.58,0.42 0.3,0.56 L0.3,0.74 M0.3,0.9 L0.3,1"/><path transform="translate(0.86,0)" d="M0.02,0.2 Q0.08,0 0.3,0 Q0.58,0 0.58,0.25 Q0.58,0.42 0.3,0.56 L0.3,0.74 M0.3,0.9 L0.3,1"/><path transform="translate(1.72,0)" d="M0.02,0.2 Q0.08,0 0.3,0 Q0.58,0 0.58,0.25 Q0.58,0.42 0.3,0.56 L0.3,0.74 M0.3,0.9 L0.3,1"/><path transform="translate(2.58,0)" d="M0.02,0.2 Q0.08,0 0.3,0 Q0.58,0 0.58,0.25 Q0.58,0.42 0.3,0.56 L0.3,0.74 M0.3,0.9 L0.3,1"/></g>
<line x1="652" y1="689.8" x2="755" y2="689.8" stroke="#00ff00" stroke-width="1" stroke-linecap="butt"/>
<line x1="653.4" y1="693.4" x2="660.6" y2="686.2" stroke="#ff00ff" stroke-width="1.5" stroke-linecap="butt"/>
<line x1="657" y1="684.6" x2="657" y2="695" stroke="#ffffff" stroke-width="1" stroke-linecap="butt"/>
<line x1="671.1" y1="693.4" x2="678.3" y2="686.2" stroke="#ff00ff" stroke-width="1.5" stroke-linecap="butt"/>
<line x1="674.7" y1="684.6" x2="674.7" y2="695" stroke="#ffffff" stroke-width="1" stroke-linecap="butt"/>
<line x1="691.4" y1="693.4" x2="698.6" y2="686.2" stroke="#ff00ff" stroke-width="1.5" stroke-linecap="butt"/>
<line x1="695" y1="684.6" x2="695" y2="695" stroke="#ffffff" stroke-width="1" stroke-linecap="butt"/>
<line x1="746.1" y1="693.4" x2="753.3" y2="686.2" stroke="#ff00ff" stroke-width="1.5" stroke-linecap="butt"/>
<line x1="749.7" y1="684.6" x2="749.7" y2="695" stroke="#ffffff" stroke-width="1" stroke-linecap="butt"/>
<line x1="749.5" y1="678" x2="749.5" y2="689.8" stroke="#00ff00" stroke-width="1" stroke-linecap="butt"/>
<g transform="translate(647.67,672.2) scale(11.03,8.6)" fill="none" stroke="#ffffff" stroke-width="1.05" stroke-linejoin="round" stroke-linecap="round" style="vector-effect:non-scaling-stroke"><path transform="translate(0,0)" d="M0.22,0.2 L0.42,0 L0.42,1"/><path transform="translate(0.8,0)" d="M0.3,0.45 L0.16,0.45 Q0.05,0.45 0.05,0.3 L0.05,0.15 Q0.05,0 0.2,0 L0.4,0 Q0.55,0 0.55,0.15 L0.55,0.3 Q0.55,0.45 0.4,0.45 L0.2,0.45 Q0,0.45 0,0.62 L0,0.82 Q0,1 0.18,1 L0.42,1 Q0.6,1 0.6,0.82 L0.6,0.62 Q0.6,0.45 0.4,0.45"/><path transform="translate(1.66,0)" d="M0.17,0 L0.43,0 L0.56,0.1 L0.6,0.3 L0.6,0.7 L0.56,0.9 L0.43,1 L0.17,1 L0.04,0.9 L0,0.7 L0,0.3 L0.04,0.1 Z"/></g>
<g transform="translate(678.6,672.2) scale(10.09,8.6)" fill="none" stroke="#ffffff" stroke-width="1.05" stroke-linejoin="round" stroke-linecap="round" style="vector-effect:non-scaling-stroke"><path transform="translate(0,0)" d="M0.02,0.2 Q0.08,0 0.3,0 Q0.58,0 0.58,0.26 Q0.58,0.42 0.42,0.56 L0,1 L0.6,1"/><path transform="translate(0.86,0)" d="M0.46,1 L0.46,0 L0,0.7 L0.62,0.7"/><path transform="translate(1.72,0)" d="M0.17,0 L0.43,0 L0.56,0.1 L0.6,0.3 L0.6,0.7 L0.56,0.9 L0.43,1 L0.17,1 L0.04,0.9 L0,0.7 L0,0.3 L0.04,0.1 Z"/></g>
<g transform="translate(711.4,676.5) scale(10.43,8.6)" fill="none" stroke="#ffffff" stroke-width="1.05" stroke-linejoin="round" stroke-linecap="round" style="vector-effect:non-scaling-stroke"><path transform="translate(0,0)" d="M0.56,0.12 Q0.46,0 0.3,0 Q0,0 0,0.42 L0,0.68 Q0,1 0.3,1 Q0.6,1 0.6,0.68 Q0.6,0.4 0.3,0.4 Q0.06,0.4 0,0.62"/><path transform="translate(0.86,0)" d="M0.17,0 L0.43,0 L0.56,0.1 L0.6,0.3 L0.6,0.7 L0.56,0.9 L0.43,1 L0.17,1 L0.04,0.9 L0,0.7 L0,0.3 L0.04,0.1 Z"/><path transform="translate(1.72,0)" d="M0.17,0 L0.43,0 L0.56,0.1 L0.6,0.3 L0.6,0.7 L0.56,0.9 L0.43,1 L0.17,1 L0.04,0.9 L0,0.7 L0,0.3 L0.04,0.1 Z"/></g>
<line x1="660" y1="722.4" x2="790" y2="722.4" stroke="#00ff00" stroke-width="1" stroke-linecap="butt"/>
<line x1="660.2" y1="726" x2="667.4" y2="718.8" stroke="#ff00ff" stroke-width="1.5" stroke-linecap="butt"/>
<line x1="663.8" y1="717" x2="663.8" y2="736" stroke="#ffffff" stroke-width="1" stroke-linecap="butt"/>
<line x1="671.1" y1="726" x2="678.3" y2="718.8" stroke="#ff00ff" stroke-width="1.5" stroke-linecap="butt"/>
<line x1="674.7" y1="717" x2="674.7" y2="736" stroke="#ffffff" stroke-width="1" stroke-linecap="butt"/>
<line x1="692.4" y1="726" x2="699.6" y2="718.8" stroke="#ff00ff" stroke-width="1.5" stroke-linecap="butt"/>
<line x1="696" y1="717" x2="696" y2="736" stroke="#ffffff" stroke-width="1" stroke-linecap="butt"/>
<line x1="709.2" y1="726" x2="716.4" y2="718.8" stroke="#ff00ff" stroke-width="1.5" stroke-linecap="butt"/>
<line x1="712.8" y1="717" x2="712.8" y2="736" stroke="#ffffff" stroke-width="1" stroke-linecap="butt"/>
<line x1="730.6" y1="726" x2="737.8" y2="718.8" stroke="#ff00ff" stroke-width="1.5" stroke-linecap="butt"/>
<line x1="734.2" y1="717" x2="734.2" y2="736" stroke="#ffffff" stroke-width="1" stroke-linecap="butt"/>
<line x1="747.7" y1="726" x2="754.9" y2="718.8" stroke="#ff00ff" stroke-width="1.5" stroke-linecap="butt"/>
<line x1="751.3" y1="717" x2="751.3" y2="736" stroke="#ffffff" stroke-width="1" stroke-linecap="butt"/>
<line x1="781.9" y1="726" x2="789.1" y2="718.8" stroke="#ff00ff" stroke-width="1.5" stroke-linecap="butt"/>
<line x1="785.5" y1="717" x2="785.5" y2="736" stroke="#ffffff" stroke-width="1" stroke-linecap="butt"/>
<line x1="674.7" y1="722.4" x2="674.7" y2="735" stroke="#00ff00" stroke-width="1" stroke-linecap="butt"/>
<line x1="696" y1="722.4" x2="696" y2="735" stroke="#00ff00" stroke-width="1" stroke-linecap="butt"/>
<line x1="751.3" y1="722.4" x2="751.3" y2="735" stroke="#00ff00" stroke-width="1" stroke-linecap="butt"/>
<line x1="785.5" y1="722.4" x2="785.5" y2="735" stroke="#00ff00" stroke-width="1" stroke-linecap="butt"/>
<g transform="translate(649.14,708) scale(8.44,9.8)" fill="none" stroke="#ffffff" stroke-width="1.05" stroke-linejoin="round" stroke-linecap="round" style="vector-effect:non-scaling-stroke"><path transform="translate(0,0)" d="M0.22,0.2 L0.42,0 L0.42,1"/><path transform="translate(0.8,0)" d="M0.03,0.12 Q0.13,0 0.3,0 Q0.57,0 0.57,0.24 Q0.57,0.46 0.28,0.46 Q0.6,0.46 0.6,0.72 Q0.6,1 0.3,1 Q0.1,1 0,0.86"/><path transform="translate(1.66,0)" d="M0.17,0 L0.43,0 L0.56,0.1 L0.6,0.3 L0.6,0.7 L0.56,0.9 L0.43,1 L0.17,1 L0.04,0.9 L0,0.7 L0,0.3 L0.04,0.1 Z"/><path transform="translate(2.52,0)" d="M0.02,0.2 Q0.08,0 0.3,0 Q0.58,0 0.58,0.26 Q0.58,0.42 0.42,0.56 L0,1 L0.6,1"/><path transform="translate(3.38,0)" d="M0.46,1 L0.46,0 L0,0.7 L0.62,0.7"/><path transform="translate(4.24,0)" d="M0.17,0 L0.43,0 L0.56,0.1 L0.6,0.3 L0.6,0.7 L0.56,0.9 L0.43,1 L0.17,1 L0.04,0.9 L0,0.7 L0,0.3 L0.04,0.1 Z"/></g>
<g transform="translate(689.84,708) scale(9.8,9.8)" fill="none" stroke="#ffffff" stroke-width="1.05" stroke-linejoin="round" stroke-linecap="round" style="vector-effect:non-scaling-stroke"><path transform="translate(0,0)" d="M0.22,0.2 L0.42,0 L0.42,1"/><path transform="translate(0.8,0)" d="M0.3,0.45 L0.16,0.45 Q0.05,0.45 0.05,0.3 L0.05,0.15 Q0.05,0 0.2,0 L0.4,0 Q0.55,0 0.55,0.15 L0.55,0.3 Q0.55,0.45 0.4,0.45 L0.2,0.45 Q0,0.45 0,0.62 L0,0.82 Q0,1 0.18,1 L0.42,1 Q0.6,1 0.6,0.82 L0.6,0.62 Q0.6,0.45 0.4,0.45"/><path transform="translate(1.66,0)" d="M0.17,0 L0.43,0 L0.56,0.1 L0.6,0.3 L0.6,0.7 L0.56,0.9 L0.43,1 L0.17,1 L0.04,0.9 L0,0.7 L0,0.3 L0.04,0.1 Z"/></g>
<g transform="translate(717.5,696) scale(10.04,12)" fill="none" stroke="#ffffff" stroke-width="1.05" stroke-linejoin="round" stroke-linecap="round" style="vector-effect:non-scaling-stroke"><path transform="translate(0,0)" d="M0.02,0.2 Q0.08,0 0.3,0 Q0.58,0 0.58,0.26 Q0.58,0.42 0.42,0.56 L0,1 L0.6,1"/><path transform="translate(0.86,0)" d="M0.46,1 L0.46,0 L0,0.7 L0.62,0.7"/><path transform="translate(1.72,0)" d="M0.17,0 L0.43,0 L0.56,0.1 L0.6,0.3 L0.6,0.7 L0.56,0.9 L0.43,1 L0.17,1 L0.04,0.9 L0,0.7 L0,0.3 L0.04,0.1 Z"/></g>
<g transform="translate(734.52,708) scale(11.27,9.8)" fill="none" stroke="#ffffff" stroke-width="1.05" stroke-linejoin="round" stroke-linecap="round" style="vector-effect:non-scaling-stroke"><path transform="translate(0,0)" d="M0.22,0.2 L0.42,0 L0.42,1"/><path transform="translate(0.8,0)" d="M0.3,0.45 L0.16,0.45 Q0.05,0.45 0.05,0.3 L0.05,0.15 Q0.05,0 0.2,0 L0.4,0 Q0.55,0 0.55,0.15 L0.55,0.3 Q0.55,0.45 0.4,0.45 L0.2,0.45 Q0,0.45 0,0.62 L0,0.82 Q0,1 0.18,1 L0.42,1 Q0.6,1 0.6,0.82 L0.6,0.62 Q0.6,0.45 0.4,0.45"/><path transform="translate(1.66,0)" d="M0.17,0 L0.43,0 L0.56,0.1 L0.6,0.3 L0.6,0.7 L0.56,0.9 L0.43,1 L0.17,1 L0.04,0.9 L0,0.7 L0,0.3 L0.04,0.1 Z"/></g>
<g transform="translate(760,708) scale(9.48,9.8)" fill="none" stroke="#ffffff" stroke-width="1.05" stroke-linejoin="round" stroke-linecap="round" style="vector-effect:non-scaling-stroke"><path transform="translate(0,0)" d="M0.03,0.12 Q0.13,0 0.3,0 Q0.57,0 0.57,0.24 Q0.57,0.46 0.28,0.46 Q0.6,0.46 0.6,0.72 Q0.6,1 0.3,1 Q0.1,1 0,0.86"/><path transform="translate(0.86,0)" d="M0,0 L0.6,0 L0.18,1"/><path transform="translate(1.72,0)" d="M0.17,0 L0.43,0 L0.56,0.1 L0.6,0.3 L0.6,0.7 L0.56,0.9 L0.43,1 L0.17,1 L0.04,0.9 L0,0.7 L0,0.3 L0.04,0.1 Z"/></g>
<polyline points="653,745 714.2,745 714.2,738.6 731.6,753.7 731.6,745 805,745" stroke="#ffffff" stroke-width="1" fill="none" stroke-linejoin="miter" stroke-linecap="butt"/>
<polyline points="550,758.6 641.6,758.6 768,777" stroke="#ffffff" stroke-width="1" fill="none" stroke-linejoin="miter" stroke-linecap="butt"/>
<g transform="translate(550,745) scale(9.53,11.6)" fill="none" stroke="#ffffff" stroke-width="1.05" stroke-linejoin="round" stroke-linecap="round" style="vector-effect:non-scaling-stroke"><path transform="translate(0,0)" d="M0.02,0.2 Q0.08,0 0.3,0 Q0.58,0 0.58,0.25 Q0.58,0.42 0.3,0.56 L0.3,0.74 M0.3,0.9 L0.3,1"/><path transform="translate(0.86,0)" d="M0.02,0.2 Q0.08,0 0.3,0 Q0.58,0 0.58,0.25 Q0.58,0.42 0.3,0.56 L0.3,0.74 M0.3,0.9 L0.3,1"/><path transform="translate(1.72,0)" d="M0.02,0.2 Q0.08,0 0.3,0 Q0.58,0 0.58,0.25 Q0.58,0.42 0.3,0.56 L0.3,0.74 M0.3,0.9 L0.3,1"/><path transform="translate(2.58,0)" d="M0.02,0.2 Q0.08,0 0.3,0 Q0.58,0 0.58,0.25 Q0.58,0.42 0.3,0.56 L0.3,0.74 M0.3,0.9 L0.3,1"/><path transform="translate(3.44,0)" d="M0.02,0.2 Q0.08,0 0.3,0 Q0.58,0 0.58,0.25 Q0.58,0.42 0.3,0.56 L0.3,0.74 M0.3,0.9 L0.3,1"/><path transform="translate(4.3,0)" d="M0.22,0.2 L0.42,0 L0.42,1"/><path transform="translate(5.1,0)" d="M0.3,0.45 L0.16,0.45 Q0.05,0.45 0.05,0.3 L0.05,0.15 Q0.05,0 0.2,0 L0.4,0 Q0.55,0 0.55,0.15 L0.55,0.3 Q0.55,0.45 0.4,0.45 L0.2,0.45 Q0,0.45 0,0.62 L0,0.82 Q0,1 0.18,1 L0.42,1 Q0.6,1 0.6,0.82 L0.6,0.62 Q0.6,0.45 0.4,0.45"/><path transform="translate(5.96,0)" d="M0.17,0 L0.43,0 L0.56,0.1 L0.6,0.3 L0.6,0.7 L0.56,0.9 L0.43,1 L0.17,1 L0.04,0.9 L0,0.7 L0,0.3 L0.04,0.1 Z"/></g>
<path d="M273.5,800.7 L390.7,800.7 Q393.7,800.7 393.7,803.7 L393.7,809.7 Q393.7,812.7 390.7,812.7 L273.5,812.7 Q270.5,812.7 270.5,809.7 L270.5,803.7 Q270.5,800.7 273.5,800.7 Z" stroke="#ffff00" stroke-width="3.2" fill="none" />
<line x1="276.5" y1="814.2" x2="276.5" y2="848" stroke="#ffff00" stroke-width="3.2" stroke-linecap="butt"/>
<line x1="387.7" y1="814.2" x2="387.7" y2="848" stroke="#ffff00" stroke-width="3.2" stroke-linecap="butt"/>
<path d="M270.5,859 L270.5,850.5 Q270.5,847.5 273.5,847.5 L390.7,847.5 Q393.7,847.5 393.7,850.5 L393.7,859" stroke="#ffff00" stroke-width="3.2" fill="none" />
<line x1="274" y1="811" x2="390" y2="811" stroke="#ffffff" stroke-width="1" stroke-linecap="butt"/>
<path d="M664,799.4 L782.5,799.4 Q785.5,799.4 785.5,802.4 L785.5,808.4 Q785.5,811.4 782.5,811.4 L664,811.4 Q661,811.4 661,808.4 L661,802.4 Q661,799.4 664,799.4 Z" stroke="#ffff00" stroke-width="3.2" fill="none" />
<line x1="667" y1="812.9" x2="667" y2="848" stroke="#ffff00" stroke-width="3.2" stroke-linecap="butt"/>
<line x1="779.5" y1="812.9" x2="779.5" y2="848" stroke="#ffff00" stroke-width="3.2" stroke-linecap="butt"/>
<path d="M661,859 L661,850.5 Q661,847.5 664,847.5 L782.5,847.5 Q785.5,847.5 785.5,850.5 L785.5,859" stroke="#ffff00" stroke-width="3.2" fill="none" />
<line x1="665" y1="814" x2="782" y2="814" stroke="#ffffff" stroke-width="1" stroke-linecap="butt"/>
<line x1="283.5" y1="745" x2="283.5" y2="800" stroke="#ffff00" stroke-width="3.2" stroke-linecap="butt"/>
<line x1="321" y1="745" x2="321" y2="800" stroke="#ffff00" stroke-width="3.2" stroke-linecap="butt"/>
<line x1="343" y1="745" x2="343" y2="800" stroke="#ffff00" stroke-width="3.2" stroke-linecap="butt"/>
<line x1="381.2" y1="745" x2="381.2" y2="800" stroke="#ffff00" stroke-width="3.2" stroke-linecap="butt"/>
<line x1="321" y1="772" x2="343" y2="772" stroke="#ffff00" stroke-width="3.2" stroke-linecap="butt"/>
<line x1="321" y1="781" x2="343" y2="781" stroke="#ffff00" stroke-width="3.2" stroke-linecap="butt"/>
<line x1="305.5" y1="745" x2="305.5" y2="800" stroke="#00ffff" stroke-width="1" stroke-linecap="butt"/>
<line x1="360" y1="745" x2="360" y2="800" stroke="#00ffff" stroke-width="1" stroke-linecap="butt"/>
<line x1="675.5" y1="744" x2="675.5" y2="799" stroke="#ffff00" stroke-width="3.2" stroke-linecap="butt"/>
<line x1="712.4" y1="744" x2="712.4" y2="799" stroke="#ffff00" stroke-width="3.2" stroke-linecap="butt"/>
<line x1="734.2" y1="744" x2="734.2" y2="799" stroke="#ffff00" stroke-width="3.2" stroke-linecap="butt"/>
<line x1="712.4" y1="772" x2="734.2" y2="772" stroke="#ffff00" stroke-width="3.2" stroke-linecap="butt"/>
<line x1="712.4" y1="782" x2="734.2" y2="782" stroke="#ffff00" stroke-width="3.2" stroke-linecap="butt"/>
<line x1="696" y1="745" x2="696" y2="799" stroke="#00ffff" stroke-width="1" stroke-linecap="butt"/>
<line x1="751.3" y1="745" x2="751.3" y2="799" stroke="#00ffff" stroke-width="1" stroke-linecap="butt"/>
<path d="M764,744 C766,750 762,756 766,762 C770,766 778,768 779,776 C780,784 772,788 775,793 C778,797 783,797 785.5,799" stroke="#ffff00" stroke-width="2.5" fill="none" />
<ellipse cx="768" cy="778" rx="11.5" ry="11.5" stroke="#ffff00" stroke-width="1.5" fill="none"/>
<line x1="140" y1="859.3" x2="411.5" y2="859.3" stroke="#ffffff" stroke-width="4.5" stroke-linecap="round"/>
<line x1="429.6" y1="859.3" x2="620" y2="859.3" stroke="#ffffff" stroke-width="4.5" stroke-linecap="round"/>
<line x1="636" y1="859.3" x2="826" y2="859.3" stroke="#ffffff" stroke-width="4.5" stroke-linecap="round"/>
<path d="M332.2,824 L332.2,897" stroke="#ff0000" stroke-width="1" fill="none" stroke-dasharray="14,3,2,3"/>
<path d="M723.7,824.7 L723.7,896.6" stroke="#ff0000" stroke-width="1" fill="none" stroke-dasharray="14,3,2,3"/>
<ellipse cx="332.6" cy="907.7" rx="11.2" ry="11.2" stroke="#ffffff" stroke-width="1" fill="none"/>
<ellipse cx="723.7" cy="907.5" rx="11.5" ry="11.5" stroke="#ffffff" stroke-width="1" fill="none"/>
<g transform="translate(329,902) scale(12.5,10.5)" fill="none" stroke="#ffffff" stroke-width="1.05" stroke-linejoin="round" stroke-linecap="round" style="vector-effect:non-scaling-stroke"><path transform="translate(0,0)" d="M0.03,0.12 Q0.13,0 0.3,0 Q0.57,0 0.57,0.24 Q0.57,0.46 0.28,0.46 Q0.6,0.46 0.6,0.72 Q0.6,1 0.3,1 Q0.1,1 0,0.86"/></g>
<g transform="translate(720,902) scale(12.1,10.5)" fill="none" stroke="#ffffff" stroke-width="1.05" stroke-linejoin="round" stroke-linecap="round" style="vector-effect:non-scaling-stroke"><path transform="translate(0,0)" d="M0.46,1 L0.46,0 L0,0.7 L0.62,0.7"/></g>
<g transform="translate(237.5,842) rotate(-90) translate(-0,0) scale(10.56,10)" fill="none" stroke="#ffffff" stroke-width="1.05" stroke-linejoin="round" stroke-linecap="round" style="vector-effect:non-scaling-stroke"><path transform="translate(0,0)" d="M0.56,0.12 Q0.46,0 0.3,0 Q0,0 0,0.42 L0,0.68 Q0,1 0.3,1 Q0.6,1 0.6,0.68 Q0.6,0.4 0.3,0.4 Q0.06,0.4 0,0.62"/><path transform="translate(0.86,0)" d="M0.57,0 L0.08,0 L0.03,0.44 Q0.14,0.37 0.3,0.37 Q0.6,0.37 0.6,0.68 Q0.6,1 0.3,1 Q0.1,1 0,0.87"/><path transform="translate(1.72,0)" d="M0.17,0 L0.43,0 L0.56,0.1 L0.6,0.3 L0.6,0.7 L0.56,0.9 L0.43,1 L0.17,1 L0.04,0.9 L0,0.7 L0,0.3 L0.04,0.1 Z"/></g>
<line x1="253" y1="800.7" x2="253" y2="859" stroke="#00ff00" stroke-width="1" stroke-linecap="butt"/>
<line x1="245" y1="800.7" x2="265" y2="800.7" stroke="#00ff00" stroke-width="1" stroke-linecap="butt"/>
<line x1="249.4" y1="797.1" x2="256.6" y2="804.3" stroke="#ff00ff" stroke-width="1.5" stroke-linecap="butt"/>
<line x1="248" y1="800.7" x2="258" y2="800.7" stroke="#ffffff" stroke-width="1" stroke-linecap="butt"/>
<line x1="249.4" y1="855.4" x2="256.6" y2="862.6" stroke="#ff00ff" stroke-width="1.5" stroke-linecap="butt"/>
<line x1="248" y1="859" x2="258" y2="859" stroke="#ffffff" stroke-width="1" stroke-linecap="butt"/>
<g transform="translate(393.11,808) scale(13.14,10)" fill="none" stroke="#ffffff" stroke-width="1.05" stroke-linejoin="round" stroke-linecap="round" style="vector-effect:non-scaling-stroke"><path transform="translate(0,0)" d="M0.22,0.2 L0.42,0 L0.42,1"/><path transform="translate(0.8,0)" d="M0.57,0 L0.08,0 L0.03,0.44 Q0.14,0.37 0.3,0.37 Q0.6,0.37 0.6,0.68 Q0.6,1 0.3,1 Q0.1,1 0,0.87"/></g>
<line x1="391" y1="823" x2="396" y2="818" stroke="#ffffff" stroke-width="1" stroke-linecap="butt"/>
<line x1="387.4" y1="826.6" x2="394.6" y2="819.4" stroke="#ff00ff" stroke-width="1.5" stroke-linecap="butt"/>
<line x1="386" y1="823" x2="396" y2="823" stroke="#ffffff" stroke-width="1" stroke-linecap="butt"/>
<g transform="translate(421,803) rotate(-90) translate(-1.94,0) scale(8.82,10)" fill="none" stroke="#ffffff" stroke-width="1.05" stroke-linejoin="round" stroke-linecap="round" style="vector-effect:non-scaling-stroke"><path transform="translate(0,0)" d="M0.22,0.2 L0.42,0 L0.42,1"/><path transform="translate(0.8,0)" d="M0.02,0.2 Q0.08,0 0.3,0 Q0.58,0 0.58,0.26 Q0.58,0.42 0.42,0.56 L0,1 L0.6,1"/><path transform="translate(1.66,0)" d="M0.17,0 L0.43,0 L0.56,0.1 L0.6,0.3 L0.6,0.7 L0.56,0.9 L0.43,1 L0.17,1 L0.04,0.9 L0,0.7 L0,0.3 L0.04,0.1 Z"/></g>
<g transform="translate(424.4,841) rotate(-90) translate(-0,0) scale(10.65,10.3)" fill="none" stroke="#ffffff" stroke-width="1.05" stroke-linejoin="round" stroke-linecap="round" style="vector-effect:non-scaling-stroke"><path transform="translate(0,0)" d="M0.03,0.12 Q0.13,0 0.3,0 Q0.57,0 0.57,0.24 Q0.57,0.46 0.28,0.46 Q0.6,0.46 0.6,0.72 Q0.6,1 0.3,1 Q0.1,1 0,0.86"/><path transform="translate(0.86,0)" d="M0.56,0.12 Q0.46,0 0.3,0 Q0,0 0,0.42 L0,0.68 Q0,1 0.3,1 Q0.6,1 0.6,0.68 Q0.6,0.4 0.3,0.4 Q0.06,0.4 0,0.62"/><path transform="translate(1.72,0)" d="M0.57,0 L0.08,0 L0.03,0.44 Q0.14,0.37 0.3,0.37 Q0.6,0.37 0.6,0.68 Q0.6,1 0.3,1 Q0.1,1 0,0.87"/></g>
<g transform="translate(417.5,870.7) rotate(-90) translate(-2.38,0) scale(10.83,10.5)" fill="none" stroke="#ffffff" stroke-width="1.05" stroke-linejoin="round" stroke-linecap="round" style="vector-effect:non-scaling-stroke"><path transform="translate(0,0)" d="M0.22,0.2 L0.42,0 L0.42,1"/><path transform="translate(0.8,0)" d="M0.02,0.2 Q0.08,0 0.3,0 Q0.58,0 0.58,0.26 Q0.58,0.42 0.42,0.56 L0,1 L0.6,1"/><path transform="translate(1.66,0)" d="M0.17,0 L0.43,0 L0.56,0.1 L0.6,0.3 L0.6,0.7 L0.56,0.9 L0.43,1 L0.17,1 L0.04,0.9 L0,0.7 L0,0.3 L0.04,0.1 Z"/></g>
<line x1="437.7" y1="797" x2="437.7" y2="864" stroke="#ffffff" stroke-width="1" stroke-linecap="butt"/>
<line x1="434.1" y1="797.1" x2="441.3" y2="804.3" stroke="#ff00ff" stroke-width="1.5" stroke-linecap="butt"/>
<line x1="432" y1="800.7" x2="443" y2="800.7" stroke="#ffffff" stroke-width="1" stroke-linecap="butt"/>
<line x1="434.1" y1="808.8" x2="441.3" y2="816" stroke="#ff00ff" stroke-width="1.5" stroke-linecap="butt"/>
<line x1="432" y1="812.4" x2="443" y2="812.4" stroke="#ffffff" stroke-width="1" stroke-linecap="butt"/>
<line x1="434.1" y1="843.8" x2="441.3" y2="851" stroke="#ff00ff" stroke-width="1.5" stroke-linecap="butt"/>
<line x1="432" y1="847.4" x2="443" y2="847.4" stroke="#ffffff" stroke-width="1" stroke-linecap="butt"/>
<line x1="390" y1="847.4" x2="443" y2="847.4" stroke="#00ff00" stroke-width="1" stroke-linecap="butt"/>
<line x1="412.7" y1="813.5" x2="446" y2="813.5" stroke="#ffffff" stroke-width="3" stroke-linecap="butt"/>
<line x1="446" y1="813" x2="456" y2="811.5" stroke="#ffffff" stroke-width="2" stroke-linecap="butt"/>
<g transform="translate(449,812) rotate(-90) translate(-2.61,0) scale(11.86,9)" fill="none" stroke="#ffffff" stroke-width="1.05" stroke-linejoin="round" stroke-linecap="round" style="vector-effect:non-scaling-stroke"><path transform="translate(0,0)" d="M0.22,0.2 L0.42,0 L0.42,1"/><path transform="translate(0.8,0)" d="M0.57,0 L0.08,0 L0.03,0.44 Q0.14,0.37 0.3,0.37 Q0.6,0.37 0.6,0.68 Q0.6,1 0.3,1 Q0.1,1 0,0.87"/></g>
<g transform="translate(256,863) scale(10.82,10)" fill="none" stroke="#ffffff" stroke-width="1.05" stroke-linejoin="round" stroke-linecap="round" style="vector-effect:non-scaling-stroke"><path transform="translate(0,0)" d="M0.56,0.12 Q0.46,0 0.3,0 Q0,0 0,0.42 L0,0.68 Q0,1 0.3,1 Q0.6,1 0.6,0.68 Q0.6,0.4 0.3,0.4 Q0.06,0.4 0,0.62"/><path transform="translate(0.86,0)" d="M0.17,0 L0.43,0 L0.56,0.1 L0.6,0.3 L0.6,0.7 L0.56,0.9 L0.43,1 L0.17,1 L0.04,0.9 L0,0.7 L0,0.3 L0.04,0.1 Z"/></g>
<g transform="translate(338.03,863) scale(11.21,10)" fill="none" stroke="#ffffff" stroke-width="1.05" stroke-linejoin="round" stroke-linecap="round" style="vector-effect:non-scaling-stroke"><path transform="translate(0,0)" d="M0.22,0.2 L0.42,0 L0.42,1"/><path transform="translate(0.8,0)" d="M0.02,0.2 Q0.08,0 0.3,0 Q0.58,0 0.58,0.26 Q0.58,0.42 0.42,0.56 L0,1 L0.6,1"/><path transform="translate(1.66,0)" d="M0.02,0.2 Q0.08,0 0.3,0 Q0.58,0 0.58,0.26 Q0.58,0.42 0.42,0.56 L0,1 L0.6,1"/><path transform="translate(2.52,0)" d="M0.17,0 L0.43,0 L0.56,0.1 L0.6,0.3 L0.6,0.7 L0.56,0.9 L0.43,1 L0.17,1 L0.04,0.9 L0,0.7 L0,0.3 L0.04,0.1 Z"/></g>
<g transform="translate(397.6,863) scale(10.55,10)" fill="none" stroke="#ffffff" stroke-width="1.05" stroke-linejoin="round" stroke-linecap="round" style="vector-effect:non-scaling-stroke"><path transform="translate(0,0)" d="M0.56,0.12 Q0.46,0 0.3,0 Q0,0 0,0.42 L0,0.68 Q0,1 0.3,1 Q0.6,1 0.6,0.68 Q0.6,0.4 0.3,0.4 Q0.06,0.4 0,0.62"/><path transform="translate(0.86,0)" d="M0.17,0 L0.43,0 L0.56,0.1 L0.6,0.3 L0.6,0.7 L0.56,0.9 L0.43,1 L0.17,1 L0.04,0.9 L0,0.7 L0,0.3 L0.04,0.1 Z"/></g>
<line x1="267" y1="874.6" x2="398" y2="874.6" stroke="#00ff00" stroke-width="1" stroke-linecap="butt"/>
<line x1="268.2" y1="878.2" x2="275.4" y2="871" stroke="#ff00ff" stroke-width="1.5" stroke-linecap="butt"/>
<line x1="271.8" y1="866" x2="271.8" y2="880" stroke="#ffffff" stroke-width="0.8" stroke-linecap="butt"/>
<line x1="272.9" y1="878.2" x2="280.1" y2="871" stroke="#ff00ff" stroke-width="1.5" stroke-linecap="butt"/>
<line x1="276.5" y1="866" x2="276.5" y2="880" stroke="#ffffff" stroke-width="0.8" stroke-linecap="butt"/>
<line x1="384.9" y1="878.2" x2="392.1" y2="871" stroke="#ff00ff" stroke-width="1.5" stroke-linecap="butt"/>
<line x1="388.5" y1="866" x2="388.5" y2="880" stroke="#ffffff" stroke-width="0.8" stroke-linecap="butt"/>
<line x1="390.1" y1="878.2" x2="397.3" y2="871" stroke="#ff00ff" stroke-width="1.5" stroke-linecap="butt"/>
<line x1="393.7" y1="866" x2="393.7" y2="880" stroke="#ffffff" stroke-width="0.8" stroke-linecap="butt"/>
<line x1="276.5" y1="815" x2="276.5" y2="880" stroke="#00ff00" stroke-width="1" stroke-linecap="butt"/>
<g transform="translate(335.08,877.8) scale(12.38,10)" fill="none" stroke="#ffffff" stroke-width="1.05" stroke-linejoin="round" stroke-linecap="round" style="vector-effect:non-scaling-stroke"><path transform="translate(0,0)" d="M0.22,0.2 L0.42,0 L0.42,1"/><path transform="translate(0.8,0)" d="M0.03,0.12 Q0.13,0 0.3,0 Q0.57,0 0.57,0.24 Q0.57,0.46 0.28,0.46 Q0.6,0.46 0.6,0.72 Q0.6,1 0.3,1 Q0.1,1 0,0.86"/><path transform="translate(1.66,0)" d="M0.46,1 L0.46,0 L0,0.7 L0.62,0.7"/><path transform="translate(2.52,0)" d="M0.17,0 L0.43,0 L0.56,0.1 L0.6,0.3 L0.6,0.7 L0.56,0.9 L0.43,1 L0.17,1 L0.04,0.9 L0,0.7 L0,0.3 L0.04,0.1 Z"/></g>
<line x1="271.8" y1="888.6" x2="393.7" y2="888.6" stroke="#00ff00" stroke-width="1" stroke-linecap="butt"/>
<line x1="268.2" y1="892.2" x2="275.4" y2="885" stroke="#ff00ff" stroke-width="1.5" stroke-linecap="butt"/>
<line x1="390.1" y1="892.2" x2="397.3" y2="885" stroke="#ff00ff" stroke-width="1.5" stroke-linecap="butt"/>
<line x1="271.8" y1="880" x2="271.8" y2="892" stroke="#ffffff" stroke-width="0.8" stroke-linecap="butt"/>
<line x1="393.7" y1="880" x2="393.7" y2="892" stroke="#ffffff" stroke-width="0.8" stroke-linecap="butt"/>
<g transform="translate(499,841.2) scale(10.76,9.9)" fill="none" stroke="#ffffff" stroke-width="1.05" stroke-linejoin="round" stroke-linecap="round" style="vector-effect:non-scaling-stroke"><path transform="translate(0,0)" d="M0.3,0.12 L0.3,0.68 M0,0.4 L0.6,0.4 M0,0.98 L0.6,0.98"/><path transform="translate(0.86,0)" d="M0.17,0 L0.43,0 L0.56,0.1 L0.6,0.3 L0.6,0.7 L0.56,0.9 L0.43,1 L0.17,1 L0.04,0.9 L0,0.7 L0,0.3 L0.04,0.1 Z"/><path transform="translate(1.72,0)" d="M0.08,0.88 L0.08,1"/><path transform="translate(2.14,0)" d="M0.17,0 L0.43,0 L0.56,0.1 L0.6,0.3 L0.6,0.7 L0.56,0.9 L0.43,1 L0.17,1 L0.04,0.9 L0,0.7 L0,0.3 L0.04,0.1 Z"/><path transform="translate(3,0)" d="M0.17,0 L0.43,0 L0.56,0.1 L0.6,0.3 L0.6,0.7 L0.56,0.9 L0.43,1 L0.17,1 L0.04,0.9 L0,0.7 L0,0.3 L0.04,0.1 Z"/><path transform="translate(3.86,0)" d="M0.17,0 L0.43,0 L0.56,0.1 L0.6,0.3 L0.6,0.7 L0.56,0.9 L0.43,1 L0.17,1 L0.04,0.9 L0,0.7 L0,0.3 L0.04,0.1 Z"/></g>
<line x1="500.5" y1="853.9" x2="543" y2="853.9" stroke="#ff00ff" stroke-width="1" stroke-linecap="butt"/>
<polyline points="500.5,853.9 508.3,859.5 515.3,853.9" stroke="#ff00ff" stroke-width="1" fill="none" stroke-linejoin="miter" stroke-linecap="butt"/>
<g transform="translate(569.3,843.3) rotate(-90) translate(-0,0) scale(11.34,9.9)" fill="none" stroke="#ffffff" stroke-width="1.05" stroke-linejoin="round" stroke-linecap="round" style="vector-effect:non-scaling-stroke"><path transform="translate(0,0)" d="M0.56,0.12 Q0.46,0 0.3,0 Q0,0 0,0.42 L0,0.68 Q0,1 0.3,1 Q0.6,1 0.6,0.68 Q0.6,0.4 0.3,0.4 Q0.06,0.4 0,0.62"/><path transform="translate(0.86,0)" d="M0.57,0 L0.08,0 L0.03,0.44 Q0.14,0.37 0.3,0.37 Q0.6,0.37 0.6,0.68 Q0.6,1 0.3,1 Q0.1,1 0,0.87"/><path transform="translate(1.72,0)" d="M0.17,0 L0.43,0 L0.56,0.1 L0.6,0.3 L0.6,0.7 L0.56,0.9 L0.43,1 L0.17,1 L0.04,0.9 L0,0.7 L0,0.3 L0.04,0.1 Z"/></g>
<line x1="582.7" y1="797.5" x2="582.7" y2="863" stroke="#ffffff" stroke-width="1" stroke-linecap="butt"/>
<line x1="579.1" y1="796.4" x2="586.3" y2="803.6" stroke="#ff00ff" stroke-width="1.5" stroke-linecap="butt"/>
<line x1="578" y1="800" x2="596" y2="800" stroke="#ffffff" stroke-width="1" stroke-linecap="butt"/>
<line x1="579.1" y1="855.7" x2="586.3" y2="862.9" stroke="#ff00ff" stroke-width="1.5" stroke-linecap="butt"/>
<line x1="600.8" y1="854" x2="600.8" y2="864" stroke="#ffffff" stroke-width="1" stroke-linecap="butt"/>
<line x1="597.2" y1="855.7" x2="604.4" y2="862.9" stroke="#ff00ff" stroke-width="1.5" stroke-linecap="butt"/>
<g transform="translate(588,832) rotate(-90) translate(-2.98,0) scale(13.56,9)" fill="none" stroke="#ffffff" stroke-width="1.05" stroke-linejoin="round" stroke-linecap="round" style="vector-effect:non-scaling-stroke"><path transform="translate(0,0)" d="M0.22,0.2 L0.42,0 L0.42,1"/><path transform="translate(0.8,0)" d="M0.57,0 L0.08,0 L0.03,0.44 Q0.14,0.37 0.3,0.37 Q0.6,0.37 0.6,0.68 Q0.6,1 0.3,1 Q0.1,1 0,0.87"/></g>
<line x1="597" y1="815" x2="618" y2="815" stroke="#ffffff" stroke-width="1" stroke-linecap="butt"/>
<line x1="597" y1="826" x2="597" y2="815" stroke="#ffffff" stroke-width="0.8" stroke-linecap="butt"/>
<g transform="translate(601,805) rotate(-90) translate(-1.87,0) scale(8.48,10)" fill="none" stroke="#ffffff" stroke-width="1.05" stroke-linejoin="round" stroke-linecap="round" style="vector-effect:non-scaling-stroke"><path transform="translate(0,0)" d="M0.22,0.2 L0.42,0 L0.42,1"/><path transform="translate(0.8,0)" d="M0.02,0.2 Q0.08,0 0.3,0 Q0.58,0 0.58,0.26 Q0.58,0.42 0.42,0.56 L0,1 L0.6,1"/><path transform="translate(1.66,0)" d="M0.17,0 L0.43,0 L0.56,0.1 L0.6,0.3 L0.6,0.7 L0.56,0.9 L0.43,1 L0.17,1 L0.04,0.9 L0,0.7 L0,0.3 L0.04,0.1 Z"/></g>
<g transform="translate(607.2,843) rotate(-90) translate(-0,0) scale(11.21,9.9)" fill="none" stroke="#ffffff" stroke-width="1.05" stroke-linejoin="round" stroke-linecap="round" style="vector-effect:non-scaling-stroke"><path transform="translate(0,0)" d="M0.03,0.12 Q0.13,0 0.3,0 Q0.57,0 0.57,0.24 Q0.57,0.46 0.28,0.46 Q0.6,0.46 0.6,0.72 Q0.6,1 0.3,1 Q0.1,1 0,0.86"/><path transform="translate(0.86,0)" d="M0.56,0.12 Q0.46,0 0.3,0 Q0,0 0,0.42 L0,0.68 Q0,1 0.3,1 Q0.6,1 0.6,0.68 Q0.6,0.4 0.3,0.4 Q0.06,0.4 0,0.62"/><path transform="translate(1.72,0)" d="M0.57,0 L0.08,0 L0.03,0.44 Q0.14,0.37 0.3,0.37 Q0.6,0.37 0.6,0.68 Q0.6,1 0.3,1 Q0.1,1 0,0.87"/></g>
<g transform="translate(623,869.4) rotate(-90) translate(-2.31,0) scale(10.49,9)" fill="none" stroke="#ffffff" stroke-width="1.05" stroke-linejoin="round" stroke-linecap="round" style="vector-effect:non-scaling-stroke"><path transform="translate(0,0)" d="M0.22,0.2 L0.42,0 L0.42,1"/><path transform="translate(0.8,0)" d="M0.02,0.2 Q0.08,0 0.3,0 Q0.58,0 0.58,0.26 Q0.58,0.42 0.42,0.56 L0,1 L0.6,1"/><path transform="translate(1.66,0)" d="M0.17,0 L0.43,0 L0.56,0.1 L0.6,0.3 L0.6,0.7 L0.56,0.9 L0.43,1 L0.17,1 L0.04,0.9 L0,0.7 L0,0.3 L0.04,0.1 Z"/></g>
<line x1="618.3" y1="797.5" x2="618.3" y2="864" stroke="#ffffff" stroke-width="1" stroke-linecap="butt"/>
<line x1="614.7" y1="795.8" x2="621.9" y2="803" stroke="#ff00ff" stroke-width="1.5" stroke-linecap="butt"/>
<line x1="613" y1="799.4" x2="628" y2="799.4" stroke="#ffffff" stroke-width="1" stroke-linecap="butt"/>
<line x1="614.7" y1="811.4" x2="621.9" y2="818.6" stroke="#ff00ff" stroke-width="1.5" stroke-linecap="butt"/>
<line x1="613" y1="815" x2="628" y2="815" stroke="#ffffff" stroke-width="1" stroke-linecap="butt"/>
<line x1="614.7" y1="844.4" x2="621.9" y2="851.6" stroke="#ff00ff" stroke-width="1.5" stroke-linecap="butt"/>
<line x1="613" y1="848" x2="628" y2="848" stroke="#ffffff" stroke-width="1" stroke-linecap="butt"/>
<line x1="618.3" y1="848" x2="661" y2="848" stroke="#00ff00" stroke-width="1" stroke-linecap="butt"/>
<line x1="614.4" y1="814.3" x2="642.9" y2="814.3" stroke="#ffffff" stroke-width="3.5" stroke-linecap="butt"/>
<g transform="translate(641.2,807) scale(12.71,10)" fill="none" stroke="#ffffff" stroke-width="1.05" stroke-linejoin="round" stroke-linecap="round" style="vector-effect:non-scaling-stroke"><path transform="translate(0,0)" d="M0.22,0.2 L0.42,0 L0.42,1"/><path transform="translate(0.8,0)" d="M0.57,0 L0.08,0 L0.03,0.44 Q0.14,0.37 0.3,0.37 Q0.6,0.37 0.6,0.68 Q0.6,1 0.3,1 Q0.1,1 0,0.87"/></g>
<line x1="655" y1="819" x2="661" y2="827" stroke="#ffffff" stroke-width="1" stroke-linecap="butt"/>
<line x1="657.4" y1="832.6" x2="664.6" y2="825.4" stroke="#ff00ff" stroke-width="1.5" stroke-linecap="butt"/>
<g transform="translate(448.4,926.9) scale(13.92,10.3)" fill="none" stroke="#ffffff" stroke-width="1.05" stroke-linejoin="round" stroke-linecap="round" style="vector-effect:non-scaling-stroke"><path transform="translate(0,0)" d="M0.02,0.2 Q0.08,0 0.3,0 Q0.58,0 0.58,0.25 Q0.58,0.42 0.3,0.56 L0.3,0.74 M0.3,0.9 L0.3,1"/><path transform="translate(0.86,0)" d="M0.02,0.2 Q0.08,0 0.3,0 Q0.58,0 0.58,0.25 Q0.58,0.42 0.3,0.56 L0.3,0.74 M0.3,0.9 L0.3,1"/><path transform="translate(1.72,0)" d="M0.02,0.2 Q0.08,0 0.3,0 Q0.58,0 0.58,0.25 Q0.58,0.42 0.3,0.56 L0.3,0.74 M0.3,0.9 L0.3,1"/><path transform="translate(2.58,0)" d="M0.02,0.2 Q0.08,0 0.3,0 Q0.58,0 0.58,0.25 Q0.58,0.42 0.3,0.56 L0.3,0.74 M0.3,0.9 L0.3,1"/></g>
<g transform="translate(538.42,930.6) scale(11.72,10.3)" fill="none" stroke="#ffffff" stroke-width="1.05" stroke-linejoin="round" stroke-linecap="round" style="vector-effect:non-scaling-stroke"><path transform="translate(0,0)" d="M0.22,0.2 L0.42,0 L0.42,1"/><path transform="translate(0.8,0)" d="M0.3,0.45 L0.16,0.45 Q0.05,0.45 0.05,0.3 L0.05,0.15 Q0.05,0 0.2,0 L0.4,0 Q0.55,0 0.55,0.15 L0.55,0.3 Q0.55,0.45 0.4,0.45 L0.2,0.45 Q0,0.45 0,0.62 L0,0.82 Q0,1 0.18,1 L0.42,1 Q0.6,1 0.6,0.82 L0.6,0.62 Q0.6,0.45 0.4,0.45"/><path transform="translate(1.66,0)" d="M0.02,0.2 Q0.08,0 0.3,0 Q0.58,0 0.58,0.26 Q0.58,0.42 0.42,0.56 L0,1 L0.6,1"/><path transform="translate(2.52,0)" d="M0.57,0 L0.08,0 L0.03,0.44 Q0.14,0.37 0.3,0.37 Q0.6,0.37 0.6,0.68 Q0.6,1 0.3,1 Q0.1,1 0,0.87"/></g>
<line x1="277.5" y1="689" x2="286.5" y2="689" stroke="#ffffff" stroke-width="1" stroke-linecap="butt"/>
<line x1="298.5" y1="689" x2="307.5" y2="689" stroke="#ffffff" stroke-width="1" stroke-linecap="butt"/>
<line x1="352.1" y1="689" x2="361.1" y2="689" stroke="#ffffff" stroke-width="1" stroke-linecap="butt"/>
<line x1="374.1" y1="689" x2="383.1" y2="689" stroke="#ffffff" stroke-width="1" stroke-linecap="butt"/>
<line x1="393.1" y1="689" x2="402.1" y2="689" stroke="#ffffff" stroke-width="1" stroke-linecap="butt"/>
<line x1="278.4" y1="692.6" x2="285.6" y2="685.4" stroke="#ff00ff" stroke-width="1.5" stroke-linecap="butt"/>
<line x1="299.4" y1="692.6" x2="306.6" y2="685.4" stroke="#ff00ff" stroke-width="1.5" stroke-linecap="butt"/>
<line x1="353" y1="692.6" x2="360.2" y2="685.4" stroke="#ff00ff" stroke-width="1.5" stroke-linecap="butt"/>
<line x1="375" y1="692.6" x2="382.2" y2="685.4" stroke="#ff00ff" stroke-width="1.5" stroke-linecap="butt"/>
<line x1="394" y1="692.6" x2="401.2" y2="685.4" stroke="#ff00ff" stroke-width="1.5" stroke-linecap="butt"/>
<line x1="267.3" y1="722.4" x2="276.3" y2="722.4" stroke="#ffffff" stroke-width="1" stroke-linecap="butt"/>
<line x1="279" y1="722.4" x2="288" y2="722.4" stroke="#ffffff" stroke-width="1" stroke-linecap="butt"/>
<line x1="301" y1="722.4" x2="310" y2="722.4" stroke="#ffffff" stroke-width="1" stroke-linecap="butt"/>
<line x1="317.4" y1="722.4" x2="326.4" y2="722.4" stroke="#ffffff" stroke-width="1" stroke-linecap="butt"/>
<line x1="339.4" y1="722.4" x2="348.4" y2="722.4" stroke="#ffffff" stroke-width="1" stroke-linecap="butt"/>
<line x1="355" y1="722.4" x2="364" y2="722.4" stroke="#ffffff" stroke-width="1" stroke-linecap="butt"/>
<line x1="376.7" y1="722.4" x2="385.7" y2="722.4" stroke="#ffffff" stroke-width="1" stroke-linecap="butt"/>
<line x1="388.6" y1="722.4" x2="397.6" y2="722.4" stroke="#ffffff" stroke-width="1" stroke-linecap="butt"/>
<line x1="268.2" y1="726" x2="275.4" y2="718.8" stroke="#ff00ff" stroke-width="1.5" stroke-linecap="butt"/>
<line x1="279.9" y1="726" x2="287.1" y2="718.8" stroke="#ff00ff" stroke-width="1.5" stroke-linecap="butt"/>
<line x1="301.9" y1="726" x2="309.1" y2="718.8" stroke="#ff00ff" stroke-width="1.5" stroke-linecap="butt"/>
<line x1="318.3" y1="726" x2="325.5" y2="718.8" stroke="#ff00ff" stroke-width="1.5" stroke-linecap="butt"/>
<line x1="340.3" y1="726" x2="347.5" y2="718.8" stroke="#ff00ff" stroke-width="1.5" stroke-linecap="butt"/>
<line x1="355.9" y1="726" x2="363.1" y2="718.8" stroke="#ff00ff" stroke-width="1.5" stroke-linecap="butt"/>
<line x1="377.6" y1="726" x2="384.8" y2="718.8" stroke="#ff00ff" stroke-width="1.5" stroke-linecap="butt"/>
<line x1="389.5" y1="726" x2="396.7" y2="718.8" stroke="#ff00ff" stroke-width="1.5" stroke-linecap="butt"/>
<line x1="652.5" y1="689.8" x2="661.5" y2="689.8" stroke="#ffffff" stroke-width="1" stroke-linecap="butt"/>
<line x1="670.2" y1="689.8" x2="679.2" y2="689.8" stroke="#ffffff" stroke-width="1" stroke-linecap="butt"/>
<line x1="690.5" y1="689.8" x2="699.5" y2="689.8" stroke="#ffffff" stroke-width="1" stroke-linecap="butt"/>
<line x1="745.2" y1="689.8" x2="754.2" y2="689.8" stroke="#ffffff" stroke-width="1" stroke-linecap="butt"/>
<line x1="653.4" y1="693.4" x2="660.6" y2="686.2" stroke="#ff00ff" stroke-width="1.5" stroke-linecap="butt"/>
<line x1="671.1" y1="693.4" x2="678.3" y2="686.2" stroke="#ff00ff" stroke-width="1.5" stroke-linecap="butt"/>
<line x1="691.4" y1="693.4" x2="698.6" y2="686.2" stroke="#ff00ff" stroke-width="1.5" stroke-linecap="butt"/>
<line x1="746.1" y1="693.4" x2="753.3" y2="686.2" stroke="#ff00ff" stroke-width="1.5" stroke-linecap="butt"/>
<line x1="659.3" y1="722.4" x2="668.3" y2="722.4" stroke="#ffffff" stroke-width="1" stroke-linecap="butt"/>
<line x1="670.2" y1="722.4" x2="679.2" y2="722.4" stroke="#ffffff" stroke-width="1" stroke-linecap="butt"/>
<line x1="691.5" y1="722.4" x2="700.5" y2="722.4" stroke="#ffffff" stroke-width="1" stroke-linecap="butt"/>
<line x1="708.3" y1="722.4" x2="717.3" y2="722.4" stroke="#ffffff" stroke-width="1" stroke-linecap="butt"/>
<line x1="729.7" y1="722.4" x2="738.7" y2="722.4" stroke="#ffffff" stroke-width="1" stroke-linecap="butt"/>
<line x1="746.8" y1="722.4" x2="755.8" y2="722.4" stroke="#ffffff" stroke-width="1" stroke-linecap="butt"/>
<line x1="781" y1="722.4" x2="790" y2="722.4" stroke="#ffffff" stroke-width="1" stroke-linecap="butt"/>
<line x1="660.2" y1="726" x2="667.4" y2="718.8" stroke="#ff00ff" stroke-width="1.5" stroke-linecap="butt"/>
<line x1="671.1" y1="726" x2="678.3" y2="718.8" stroke="#ff00ff" stroke-width="1.5" stroke-linecap="butt"/>
<line x1="692.4" y1="726" x2="699.6" y2="718.8" stroke="#ff00ff" stroke-width="1.5" stroke-linecap="butt"/>
<line x1="709.2" y1="726" x2="716.4" y2="718.8" stroke="#ff00ff" stroke-width="1.5" stroke-linecap="butt"/>
<line x1="730.6" y1="726" x2="737.8" y2="718.8" stroke="#ff00ff" stroke-width="1.5" stroke-linecap="butt"/>
<line x1="747.7" y1="726" x2="754.9" y2="718.8" stroke="#ff00ff" stroke-width="1.5" stroke-linecap="butt"/>
<line x1="781.9" y1="726" x2="789.1" y2="718.8" stroke="#ff00ff" stroke-width="1.5" stroke-linecap="butt"/>
<line x1="267.3" y1="874.6" x2="276.3" y2="874.6" stroke="#ffffff" stroke-width="1" stroke-linecap="butt"/>
<line x1="272" y1="874.6" x2="281" y2="874.6" stroke="#ffffff" stroke-width="1" stroke-linecap="butt"/>
<line x1="384" y1="874.6" x2="393" y2="874.6" stroke="#ffffff" stroke-width="1" stroke-linecap="butt"/>
<line x1="389.2" y1="874.6" x2="398.2" y2="874.6" stroke="#ffffff" stroke-width="1" stroke-linecap="butt"/>
<line x1="268.2" y1="878.2" x2="275.4" y2="871" stroke="#ff00ff" stroke-width="1.5" stroke-linecap="butt"/>
<line x1="272.9" y1="878.2" x2="280.1" y2="871" stroke="#ff00ff" stroke-width="1.5" stroke-linecap="butt"/>
<line x1="384.9" y1="878.2" x2="392.1" y2="871" stroke="#ff00ff" stroke-width="1.5" stroke-linecap="butt"/>
<line x1="390.1" y1="878.2" x2="397.3" y2="871" stroke="#ff00ff" stroke-width="1.5" stroke-linecap="butt"/>
<line x1="267.3" y1="888.6" x2="276.3" y2="888.6" stroke="#ffffff" stroke-width="1" stroke-linecap="butt"/>
<line x1="389.2" y1="888.6" x2="398.2" y2="888.6" stroke="#ffffff" stroke-width="1" stroke-linecap="butt"/>
<line x1="268.2" y1="892.2" x2="275.4" y2="885" stroke="#ff00ff" stroke-width="1.5" stroke-linecap="butt"/>
<line x1="390.1" y1="892.2" x2="397.3" y2="885" stroke="#ff00ff" stroke-width="1.5" stroke-linecap="butt"/>
<line x1="44.5" y1="15" x2="44.5" y2="649.4" stroke="#ff0000" stroke-width="1.2" stroke-linecap="butt"/>
</svg></body></html>
